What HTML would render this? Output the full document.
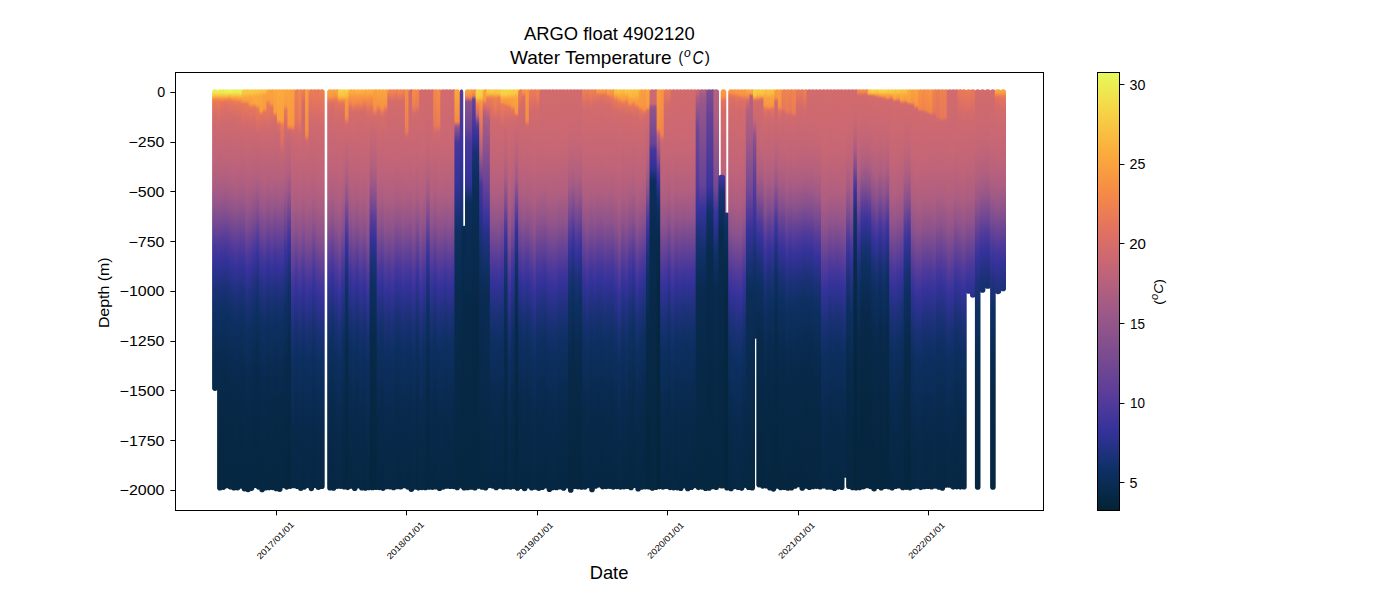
<!DOCTYPE html>
<html><head><meta charset="utf-8"><title>ARGO float 4902120</title>
<style>html,body{margin:0;padding:0;background:#fff;}svg{display:block;}
text{font-family:"Liberation Sans",sans-serif;fill:#000;}</style></head>
<body><svg width="1400" height="600" viewBox="0 0 1400 600">
<rect width="1400" height="600" fill="#fff"/>
<defs><linearGradient id="p0" gradientUnits="userSpaceOnUse" x1="0" y1="91.90" x2="0" y2="490.00"><stop offset="0.000" stop-color="#ecec53"/><stop offset="0.005" stop-color="#f5d647"/><stop offset="0.010" stop-color="#f9c041"/><stop offset="0.015" stop-color="#f99f40"/><stop offset="0.020" stop-color="#ef834e"/><stop offset="0.025" stop-color="#e77859"/><stop offset="0.055" stop-color="#d76d69"/><stop offset="0.085" stop-color="#cd6970"/><stop offset="0.175" stop-color="#be637a"/><stop offset="0.235" stop-color="#ab5d82"/><stop offset="0.280" stop-color="#955589"/><stop offset="0.340" stop-color="#6d4594"/><stop offset="0.390" stop-color="#47379a"/><stop offset="0.425" stop-color="#34329a"/><stop offset="0.495" stop-color="#1b3177"/><stop offset="0.555" stop-color="#0d3063"/><stop offset="0.665" stop-color="#092b51"/><stop offset="0.775" stop-color="#072846"/><stop offset="1.000" stop-color="#062740"/></linearGradient><linearGradient id="p1" gradientUnits="userSpaceOnUse" x1="0" y1="91.90" x2="0" y2="490.00"><stop offset="0.000" stop-color="#ecee54"/><stop offset="0.005" stop-color="#f3da4a"/><stop offset="0.010" stop-color="#f9c041"/><stop offset="0.015" stop-color="#f99d40"/><stop offset="0.020" stop-color="#f1854c"/><stop offset="0.025" stop-color="#e97b57"/><stop offset="0.055" stop-color="#dc6f65"/><stop offset="0.085" stop-color="#ce696f"/><stop offset="0.205" stop-color="#b6617d"/><stop offset="0.265" stop-color="#9e5987"/><stop offset="0.335" stop-color="#714793"/><stop offset="0.385" stop-color="#4c399a"/><stop offset="0.425" stop-color="#35329b"/><stop offset="0.485" stop-color="#1e317c"/><stop offset="0.555" stop-color="#0d3063"/><stop offset="0.695" stop-color="#082a4d"/><stop offset="0.840" stop-color="#072844"/><stop offset="1.000" stop-color="#062740"/></linearGradient><linearGradient id="p2" gradientUnits="userSpaceOnUse" x1="0" y1="91.90" x2="0" y2="490.00"><stop offset="0.000" stop-color="#edeb52"/><stop offset="0.005" stop-color="#f4d949"/><stop offset="0.010" stop-color="#f9c041"/><stop offset="0.015" stop-color="#f9a23f"/><stop offset="0.020" stop-color="#f48848"/><stop offset="0.025" stop-color="#e77859"/><stop offset="0.035" stop-color="#e17161"/><stop offset="0.075" stop-color="#cf6a6f"/><stop offset="0.190" stop-color="#ba627c"/><stop offset="0.250" stop-color="#a45b85"/><stop offset="0.320" stop-color="#7a4b90"/><stop offset="0.375" stop-color="#513a9a"/><stop offset="0.420" stop-color="#36329b"/><stop offset="0.485" stop-color="#1d317a"/><stop offset="0.550" stop-color="#0d3063"/><stop offset="0.695" stop-color="#082a4c"/><stop offset="0.860" stop-color="#062743"/><stop offset="1.000" stop-color="#062640"/></linearGradient><linearGradient id="p3" gradientUnits="userSpaceOnUse" x1="0" y1="91.90" x2="0" y2="490.00"><stop offset="0.000" stop-color="#eaf356"/><stop offset="0.005" stop-color="#f2de4b"/><stop offset="0.010" stop-color="#f8c242"/><stop offset="0.015" stop-color="#f99f40"/><stop offset="0.020" stop-color="#f1844c"/><stop offset="0.025" stop-color="#e5755c"/><stop offset="0.040" stop-color="#dc6f65"/><stop offset="0.075" stop-color="#cf6a6f"/><stop offset="0.185" stop-color="#bb627c"/><stop offset="0.235" stop-color="#aa5d82"/><stop offset="0.305" stop-color="#834f8e"/><stop offset="0.375" stop-color="#4f3a9a"/><stop offset="0.420" stop-color="#343299"/><stop offset="0.495" stop-color="#193174"/><stop offset="0.560" stop-color="#0c2f60"/><stop offset="0.715" stop-color="#082949"/><stop offset="1.000" stop-color="#062640"/></linearGradient><linearGradient id="p4" gradientUnits="userSpaceOnUse" x1="0" y1="91.90" x2="0" y2="490.00"><stop offset="0.000" stop-color="#e8f658"/><stop offset="0.005" stop-color="#f3db4a"/><stop offset="0.010" stop-color="#f9b93f"/><stop offset="0.015" stop-color="#f89a41"/><stop offset="0.020" stop-color="#ef824f"/><stop offset="0.025" stop-color="#e6775b"/><stop offset="0.055" stop-color="#d76d68"/><stop offset="0.085" stop-color="#cd6970"/><stop offset="0.175" stop-color="#be637a"/><stop offset="0.240" stop-color="#aa5d82"/><stop offset="0.300" stop-color="#8a518c"/><stop offset="0.380" stop-color="#513a9a"/><stop offset="0.430" stop-color="#333299"/><stop offset="0.490" stop-color="#1e317b"/><stop offset="0.555" stop-color="#0d3064"/><stop offset="0.655" stop-color="#0a2c53"/><stop offset="0.765" stop-color="#072847"/><stop offset="1.000" stop-color="#062740"/></linearGradient><linearGradient id="p5" gradientUnits="userSpaceOnUse" x1="0" y1="91.90" x2="0" y2="490.00"><stop offset="0.000" stop-color="#ebf155"/><stop offset="0.010" stop-color="#f8c242"/><stop offset="0.015" stop-color="#faa53e"/><stop offset="0.020" stop-color="#f58a47"/><stop offset="0.025" stop-color="#e97a57"/><stop offset="0.035" stop-color="#e2735f"/><stop offset="0.070" stop-color="#d06a6d"/><stop offset="0.185" stop-color="#bd637b"/><stop offset="0.240" stop-color="#ad5e81"/><stop offset="0.295" stop-color="#91548a"/><stop offset="0.385" stop-color="#553b99"/><stop offset="0.415" stop-color="#41369a"/><stop offset="0.440" stop-color="#343299"/><stop offset="0.505" stop-color="#1d317a"/><stop offset="0.570" stop-color="#0d3063"/><stop offset="0.735" stop-color="#08294a"/><stop offset="1.000" stop-color="#062740"/></linearGradient><linearGradient id="p6" gradientUnits="userSpaceOnUse" x1="0" y1="91.90" x2="0" y2="490.00"><stop offset="0.000" stop-color="#ebf155"/><stop offset="0.010" stop-color="#f9be40"/><stop offset="0.015" stop-color="#faa43e"/><stop offset="0.020" stop-color="#f78f44"/><stop offset="0.025" stop-color="#ec7e53"/><stop offset="0.035" stop-color="#e4745d"/><stop offset="0.070" stop-color="#d16b6d"/><stop offset="0.190" stop-color="#bc627b"/><stop offset="0.245" stop-color="#ac5d82"/><stop offset="0.300" stop-color="#90548a"/><stop offset="0.390" stop-color="#543b99"/><stop offset="0.440" stop-color="#36329b"/><stop offset="0.520" stop-color="#1a3176"/><stop offset="0.590" stop-color="#0c2f61"/><stop offset="0.745" stop-color="#08294a"/><stop offset="1.000" stop-color="#062741"/></linearGradient><linearGradient id="p7" gradientUnits="userSpaceOnUse" x1="0" y1="91.90" x2="0" y2="490.00"><stop offset="0.000" stop-color="#eaf155"/><stop offset="0.005" stop-color="#f2dd4b"/><stop offset="0.015" stop-color="#faa83d"/><stop offset="0.020" stop-color="#f79542"/><stop offset="0.025" stop-color="#ee8150"/><stop offset="0.030" stop-color="#e6785a"/><stop offset="0.065" stop-color="#d66c69"/><stop offset="0.095" stop-color="#cc6970"/><stop offset="0.185" stop-color="#bc627b"/><stop offset="0.240" stop-color="#ab5d82"/><stop offset="0.290" stop-color="#92558a"/><stop offset="0.380" stop-color="#563c99"/><stop offset="0.410" stop-color="#41369a"/><stop offset="0.435" stop-color="#34329a"/><stop offset="0.495" stop-color="#1e317c"/><stop offset="0.555" stop-color="#0f3066"/><stop offset="0.655" stop-color="#0a2c54"/><stop offset="0.775" stop-color="#072847"/><stop offset="1.000" stop-color="#062740"/></linearGradient><linearGradient id="p8" gradientUnits="userSpaceOnUse" x1="0" y1="91.90" x2="0" y2="490.00"><stop offset="0.000" stop-color="#f7ca44"/><stop offset="0.005" stop-color="#f8c342"/><stop offset="0.015" stop-color="#faa63e"/><stop offset="0.020" stop-color="#f9a13f"/><stop offset="0.025" stop-color="#f79044"/><stop offset="0.030" stop-color="#e77958"/><stop offset="0.065" stop-color="#db6e66"/><stop offset="0.095" stop-color="#cd6970"/><stop offset="0.210" stop-color="#b6607d"/><stop offset="0.270" stop-color="#9e5987"/><stop offset="0.335" stop-color="#764991"/><stop offset="0.385" stop-color="#523b9a"/><stop offset="0.435" stop-color="#34329a"/><stop offset="0.500" stop-color="#1d317a"/><stop offset="0.570" stop-color="#0d3062"/><stop offset="0.730" stop-color="#08294a"/><stop offset="1.000" stop-color="#062740"/></linearGradient><linearGradient id="p9" gradientUnits="userSpaceOnUse" x1="0" y1="91.90" x2="0" y2="490.00"><stop offset="0.000" stop-color="#f8c643"/><stop offset="0.005" stop-color="#f9c041"/><stop offset="0.015" stop-color="#faa53e"/><stop offset="0.020" stop-color="#f9a13f"/><stop offset="0.025" stop-color="#f79343"/><stop offset="0.030" stop-color="#e97b56"/><stop offset="0.060" stop-color="#dd6f64"/><stop offset="0.090" stop-color="#ce696f"/><stop offset="0.185" stop-color="#be637a"/><stop offset="0.255" stop-color="#ab5d82"/><stop offset="0.325" stop-color="#88518d"/><stop offset="0.405" stop-color="#533b9a"/><stop offset="0.445" stop-color="#3b349b"/><stop offset="0.460" stop-color="#343299"/><stop offset="0.530" stop-color="#1c3179"/><stop offset="0.600" stop-color="#0d3063"/><stop offset="0.700" stop-color="#0a2c53"/><stop offset="0.820" stop-color="#072847"/><stop offset="1.000" stop-color="#062742"/></linearGradient><linearGradient id="p10" gradientUnits="userSpaceOnUse" x1="0" y1="91.90" x2="0" y2="490.00"><stop offset="0.000" stop-color="#f7ca44"/><stop offset="0.005" stop-color="#f8c141"/><stop offset="0.010" stop-color="#fbae3c"/><stop offset="0.015" stop-color="#f9a23f"/><stop offset="0.030" stop-color="#f89c41"/><stop offset="0.035" stop-color="#f2864b"/><stop offset="0.040" stop-color="#e6775a"/><stop offset="0.065" stop-color="#dc6f65"/><stop offset="0.095" stop-color="#ce696f"/><stop offset="0.215" stop-color="#b6617d"/><stop offset="0.285" stop-color="#9a5788"/><stop offset="0.350" stop-color="#724793"/><stop offset="0.400" stop-color="#4e3a9a"/><stop offset="0.445" stop-color="#35329b"/><stop offset="0.515" stop-color="#1c3179"/><stop offset="0.595" stop-color="#0c2f60"/><stop offset="0.765" stop-color="#082949"/><stop offset="1.000" stop-color="#062741"/></linearGradient><linearGradient id="p11" gradientUnits="userSpaceOnUse" x1="0" y1="91.90" x2="0" y2="490.00"><stop offset="0.000" stop-color="#f8c743"/><stop offset="0.010" stop-color="#fbaf3d"/><stop offset="0.015" stop-color="#faa83d"/><stop offset="0.030" stop-color="#f9a13f"/><stop offset="0.035" stop-color="#f0844d"/><stop offset="0.040" stop-color="#e6775b"/><stop offset="0.060" stop-color="#de7063"/><stop offset="0.090" stop-color="#ce696f"/><stop offset="0.200" stop-color="#b8617d"/><stop offset="0.245" stop-color="#a85c83"/><stop offset="0.315" stop-color="#814e8e"/><stop offset="0.380" stop-color="#523b9a"/><stop offset="0.410" stop-color="#3e359b"/><stop offset="0.430" stop-color="#343299"/><stop offset="0.495" stop-color="#1c3179"/><stop offset="0.560" stop-color="#0d3063"/><stop offset="0.665" stop-color="#092b52"/><stop offset="0.765" stop-color="#072847"/><stop offset="1.000" stop-color="#062740"/></linearGradient><linearGradient id="p12" gradientUnits="userSpaceOnUse" x1="0" y1="91.90" x2="0" y2="490.00"><stop offset="0.000" stop-color="#f8c542"/><stop offset="0.010" stop-color="#fbab3d"/><stop offset="0.030" stop-color="#faa33f"/><stop offset="0.035" stop-color="#f99d40"/><stop offset="0.040" stop-color="#ee8150"/><stop offset="0.045" stop-color="#e77959"/><stop offset="0.070" stop-color="#e07162"/><stop offset="0.105" stop-color="#cc6871"/><stop offset="0.220" stop-color="#b05f80"/><stop offset="0.290" stop-color="#8a518c"/><stop offset="0.370" stop-color="#4f3a9a"/><stop offset="0.415" stop-color="#333299"/><stop offset="0.475" stop-color="#1d317a"/><stop offset="0.540" stop-color="#0d3063"/><stop offset="0.640" stop-color="#092b52"/><stop offset="0.740" stop-color="#072847"/><stop offset="1.000" stop-color="#062640"/></linearGradient><linearGradient id="p13" gradientUnits="userSpaceOnUse" x1="0" y1="91.90" x2="0" y2="490.00"><stop offset="0.000" stop-color="#f8c342"/><stop offset="0.005" stop-color="#fab23d"/><stop offset="0.010" stop-color="#faa73e"/><stop offset="0.045" stop-color="#f99f40"/><stop offset="0.050" stop-color="#f89742"/><stop offset="0.055" stop-color="#e87a57"/><stop offset="0.060" stop-color="#e27260"/><stop offset="0.100" stop-color="#ce696f"/><stop offset="0.215" stop-color="#b6607d"/><stop offset="0.280" stop-color="#9c5887"/><stop offset="0.355" stop-color="#6e4694"/><stop offset="0.405" stop-color="#4a389a"/><stop offset="0.445" stop-color="#35329a"/><stop offset="0.510" stop-color="#1e317b"/><stop offset="0.580" stop-color="#0d3063"/><stop offset="0.740" stop-color="#08294b"/><stop offset="0.990" stop-color="#062741"/><stop offset="1.000" stop-color="#062741"/></linearGradient><linearGradient id="p14" gradientUnits="userSpaceOnUse" x1="0" y1="91.90" x2="0" y2="490.00"><stop offset="0.000" stop-color="#f8c241"/><stop offset="0.005" stop-color="#fbab3c"/><stop offset="0.010" stop-color="#f9a13f"/><stop offset="0.040" stop-color="#f89a41"/><stop offset="0.045" stop-color="#f79044"/><stop offset="0.050" stop-color="#e77859"/><stop offset="0.060" stop-color="#e17161"/><stop offset="0.090" stop-color="#d06a6e"/><stop offset="0.230" stop-color="#b3607f"/><stop offset="0.295" stop-color="#975689"/><stop offset="0.365" stop-color="#6c4595"/><stop offset="0.425" stop-color="#43369a"/><stop offset="0.455" stop-color="#34329a"/><stop offset="0.520" stop-color="#1e317b"/><stop offset="0.590" stop-color="#0d3063"/><stop offset="0.765" stop-color="#08294a"/><stop offset="1.000" stop-color="#062741"/></linearGradient><linearGradient id="p15" gradientUnits="userSpaceOnUse" x1="0" y1="91.90" x2="0" y2="490.00"><stop offset="0.000" stop-color="#faa53e"/><stop offset="0.020" stop-color="#f89c41"/><stop offset="0.025" stop-color="#f48947"/><stop offset="0.030" stop-color="#ea7c55"/><stop offset="0.065" stop-color="#e07162"/><stop offset="0.095" stop-color="#cf6a6f"/><stop offset="0.220" stop-color="#b3607f"/><stop offset="0.280" stop-color="#985788"/><stop offset="0.335" stop-color="#764992"/><stop offset="0.390" stop-color="#4e3a9a"/><stop offset="0.435" stop-color="#34329a"/><stop offset="0.500" stop-color="#1d317a"/><stop offset="0.570" stop-color="#0d3062"/><stop offset="0.730" stop-color="#08294a"/><stop offset="1.000" stop-color="#062740"/></linearGradient><linearGradient id="p16" gradientUnits="userSpaceOnUse" x1="0" y1="91.90" x2="0" y2="490.00"><stop offset="0.000" stop-color="#f9a23f"/><stop offset="0.025" stop-color="#f89c41"/><stop offset="0.030" stop-color="#f79542"/><stop offset="0.035" stop-color="#ee8150"/><stop offset="0.040" stop-color="#e6775b"/><stop offset="0.085" stop-color="#d26b6d"/><stop offset="0.235" stop-color="#b15f80"/><stop offset="0.305" stop-color="#8f538b"/><stop offset="0.390" stop-color="#573c99"/><stop offset="0.425" stop-color="#40359a"/><stop offset="0.450" stop-color="#333299"/><stop offset="0.515" stop-color="#1d317a"/><stop offset="0.585" stop-color="#0d3063"/><stop offset="0.685" stop-color="#0a2c53"/><stop offset="0.785" stop-color="#072948"/><stop offset="1.000" stop-color="#062741"/></linearGradient><linearGradient id="p17" gradientUnits="userSpaceOnUse" x1="0" y1="91.90" x2="0" y2="490.00"><stop offset="0.000" stop-color="#faa73e"/><stop offset="0.050" stop-color="#f99d40"/><stop offset="0.055" stop-color="#f58a46"/><stop offset="0.060" stop-color="#e27260"/><stop offset="0.070" stop-color="#d66d69"/><stop offset="0.110" stop-color="#ca6872"/><stop offset="0.215" stop-color="#b5607e"/><stop offset="0.280" stop-color="#995788"/><stop offset="0.370" stop-color="#5f3f98"/><stop offset="0.410" stop-color="#42369a"/><stop offset="0.435" stop-color="#35329b"/><stop offset="0.500" stop-color="#1e317b"/><stop offset="0.570" stop-color="#0d3063"/><stop offset="0.675" stop-color="#092b52"/><stop offset="0.795" stop-color="#072846"/><stop offset="1.000" stop-color="#062740"/></linearGradient><linearGradient id="p18" gradientUnits="userSpaceOnUse" x1="0" y1="91.90" x2="0" y2="490.00"><stop offset="0.000" stop-color="#fbaa3d"/><stop offset="0.065" stop-color="#f9a13f"/><stop offset="0.070" stop-color="#f99e40"/><stop offset="0.075" stop-color="#f68b45"/><stop offset="0.080" stop-color="#e2725f"/><stop offset="0.085" stop-color="#d96e67"/><stop offset="0.105" stop-color="#cd6970"/><stop offset="0.220" stop-color="#b4607e"/><stop offset="0.285" stop-color="#985789"/><stop offset="0.360" stop-color="#684396"/><stop offset="0.415" stop-color="#42369a"/><stop offset="0.440" stop-color="#35329b"/><stop offset="0.505" stop-color="#1e317b"/><stop offset="0.575" stop-color="#0d3063"/><stop offset="0.685" stop-color="#092b52"/><stop offset="0.775" stop-color="#072948"/><stop offset="1.000" stop-color="#062741"/></linearGradient><linearGradient id="p19" gradientUnits="userSpaceOnUse" x1="0" y1="91.90" x2="0" y2="490.00"><stop offset="0.000" stop-color="#faaa3d"/><stop offset="0.070" stop-color="#f99f40"/><stop offset="0.075" stop-color="#f89841"/><stop offset="0.080" stop-color="#f0834d"/><stop offset="0.085" stop-color="#e87958"/><stop offset="0.120" stop-color="#df7062"/><stop offset="0.155" stop-color="#c76675"/><stop offset="0.215" stop-color="#b5607e"/><stop offset="0.275" stop-color="#9d5987"/><stop offset="0.345" stop-color="#724793"/><stop offset="0.395" stop-color="#4e3a9a"/><stop offset="0.440" stop-color="#35329a"/><stop offset="0.505" stop-color="#1d317b"/><stop offset="0.575" stop-color="#0d3063"/><stop offset="0.690" stop-color="#092b51"/><stop offset="0.790" stop-color="#072847"/><stop offset="1.000" stop-color="#062741"/></linearGradient><linearGradient id="p20" gradientUnits="userSpaceOnUse" x1="0" y1="91.90" x2="0" y2="490.00"><stop offset="0.000" stop-color="#faa43e"/><stop offset="0.030" stop-color="#f99e40"/><stop offset="0.035" stop-color="#f89a41"/><stop offset="0.040" stop-color="#f48848"/><stop offset="0.045" stop-color="#e77959"/><stop offset="0.065" stop-color="#e07162"/><stop offset="0.100" stop-color="#cd6970"/><stop offset="0.210" stop-color="#b3607f"/><stop offset="0.270" stop-color="#975689"/><stop offset="0.340" stop-color="#674396"/><stop offset="0.385" stop-color="#45379a"/><stop offset="0.415" stop-color="#35329b"/><stop offset="0.475" stop-color="#1e317b"/><stop offset="0.540" stop-color="#0d3063"/><stop offset="0.690" stop-color="#08294b"/><stop offset="0.920" stop-color="#062741"/><stop offset="1.000" stop-color="#062640"/></linearGradient><linearGradient id="p21" gradientUnits="userSpaceOnUse" x1="0" y1="91.90" x2="0" y2="490.00"><stop offset="0.000" stop-color="#faa43e"/><stop offset="0.080" stop-color="#f89842"/><stop offset="0.085" stop-color="#f79144"/><stop offset="0.090" stop-color="#ec7f52"/><stop offset="0.095" stop-color="#d86d68"/><stop offset="0.100" stop-color="#cd6970"/><stop offset="0.115" stop-color="#c76674"/><stop offset="0.195" stop-color="#b35f7f"/><stop offset="0.250" stop-color="#975689"/><stop offset="0.320" stop-color="#634197"/><stop offset="0.360" stop-color="#43369a"/><stop offset="0.385" stop-color="#34329a"/><stop offset="0.435" stop-color="#1f317d"/><stop offset="0.500" stop-color="#0d3063"/><stop offset="0.645" stop-color="#08294a"/><stop offset="0.915" stop-color="#062640"/><stop offset="1.000" stop-color="#06263f"/></linearGradient><linearGradient id="p22" gradientUnits="userSpaceOnUse" x1="0" y1="91.90" x2="0" y2="490.00"><stop offset="0.000" stop-color="#f9a13f"/><stop offset="0.080" stop-color="#f89742"/><stop offset="0.085" stop-color="#f79243"/><stop offset="0.090" stop-color="#f0844d"/><stop offset="0.095" stop-color="#df7062"/><stop offset="0.100" stop-color="#d16b6d"/><stop offset="0.110" stop-color="#cc6871"/><stop offset="0.205" stop-color="#bf637a"/><stop offset="0.280" stop-color="#ad5e81"/><stop offset="0.345" stop-color="#92548a"/><stop offset="0.430" stop-color="#634197"/><stop offset="0.485" stop-color="#42369a"/><stop offset="0.515" stop-color="#35329a"/><stop offset="0.615" stop-color="#173172"/><stop offset="0.675" stop-color="#0d3062"/><stop offset="0.870" stop-color="#08294a"/><stop offset="1.000" stop-color="#072845"/></linearGradient><linearGradient id="p23" gradientUnits="userSpaceOnUse" x1="0" y1="91.90" x2="0" y2="490.00"><stop offset="0.000" stop-color="#eb7e53"/><stop offset="0.065" stop-color="#e4755d"/><stop offset="0.085" stop-color="#da6e66"/><stop offset="0.105" stop-color="#cf6a6e"/><stop offset="0.230" stop-color="#b8617d"/><stop offset="0.285" stop-color="#a75c83"/><stop offset="0.345" stop-color="#8b528c"/><stop offset="0.440" stop-color="#513a9a"/><stop offset="0.485" stop-color="#39339b"/><stop offset="0.505" stop-color="#313295"/><stop offset="0.595" stop-color="#163071"/><stop offset="0.655" stop-color="#0c2f61"/><stop offset="0.845" stop-color="#082949"/><stop offset="1.000" stop-color="#062744"/></linearGradient><linearGradient id="p24" gradientUnits="userSpaceOnUse" x1="0" y1="91.90" x2="0" y2="490.00"><stop offset="0.000" stop-color="#f1854b"/><stop offset="0.065" stop-color="#ea7c55"/><stop offset="0.085" stop-color="#e27260"/><stop offset="0.105" stop-color="#d26b6c"/><stop offset="0.145" stop-color="#c86774"/><stop offset="0.240" stop-color="#b8617d"/><stop offset="0.295" stop-color="#a75c83"/><stop offset="0.365" stop-color="#87508d"/><stop offset="0.455" stop-color="#523b9a"/><stop offset="0.495" stop-color="#3c349b"/><stop offset="0.515" stop-color="#333299"/><stop offset="0.615" stop-color="#173071"/><stop offset="0.680" stop-color="#0c2f61"/><stop offset="0.860" stop-color="#08294a"/><stop offset="1.000" stop-color="#072845"/></linearGradient><linearGradient id="p25" gradientUnits="userSpaceOnUse" x1="0" y1="91.90" x2="0" y2="490.00"><stop offset="0.000" stop-color="#ea7c55"/><stop offset="0.025" stop-color="#d86d68"/><stop offset="0.055" stop-color="#cf6a6e"/><stop offset="0.165" stop-color="#c56676"/><stop offset="0.265" stop-color="#ae5e80"/><stop offset="0.335" stop-color="#8f538b"/><stop offset="0.430" stop-color="#563c99"/><stop offset="0.465" stop-color="#41369a"/><stop offset="0.490" stop-color="#35329b"/><stop offset="0.570" stop-color="#1c3178"/><stop offset="0.645" stop-color="#0d3062"/><stop offset="0.830" stop-color="#08294a"/><stop offset="1.000" stop-color="#062743"/></linearGradient><linearGradient id="p26" gradientUnits="userSpaceOnUse" x1="0" y1="91.90" x2="0" y2="490.00"><stop offset="0.000" stop-color="#f89c41"/><stop offset="0.100" stop-color="#f68d44"/><stop offset="0.105" stop-color="#f58a46"/><stop offset="0.110" stop-color="#f0844d"/><stop offset="0.120" stop-color="#d96e67"/><stop offset="0.125" stop-color="#cf6a6e"/><stop offset="0.140" stop-color="#c96773"/><stop offset="0.240" stop-color="#b8617d"/><stop offset="0.295" stop-color="#a75c83"/><stop offset="0.370" stop-color="#854f8d"/><stop offset="0.455" stop-color="#523b9a"/><stop offset="0.495" stop-color="#3c349b"/><stop offset="0.515" stop-color="#343299"/><stop offset="0.605" stop-color="#193175"/><stop offset="0.680" stop-color="#0c2f61"/><stop offset="0.860" stop-color="#08294a"/><stop offset="1.000" stop-color="#072845"/></linearGradient><linearGradient id="p27" gradientUnits="userSpaceOnUse" x1="0" y1="91.90" x2="0" y2="490.00"><stop offset="0.000" stop-color="#ea7c55"/><stop offset="0.040" stop-color="#dd6f64"/><stop offset="0.080" stop-color="#cf6a6e"/><stop offset="0.200" stop-color="#bf637a"/><stop offset="0.280" stop-color="#ac5d82"/><stop offset="0.360" stop-color="#88518d"/><stop offset="0.450" stop-color="#523b9a"/><stop offset="0.490" stop-color="#3c349b"/><stop offset="0.510" stop-color="#333299"/><stop offset="0.585" stop-color="#1d3179"/><stop offset="0.665" stop-color="#0d3062"/><stop offset="0.855" stop-color="#08294a"/><stop offset="1.000" stop-color="#072844"/></linearGradient><linearGradient id="p28" gradientUnits="userSpaceOnUse" x1="0" y1="91.90" x2="0" y2="490.00"><stop offset="0.000" stop-color="#ea7c55"/><stop offset="0.050" stop-color="#db6e66"/><stop offset="0.080" stop-color="#cf6a6e"/><stop offset="0.195" stop-color="#bf637a"/><stop offset="0.270" stop-color="#ab5d82"/><stop offset="0.325" stop-color="#92548a"/><stop offset="0.425" stop-color="#563c99"/><stop offset="0.465" stop-color="#3e359b"/><stop offset="0.485" stop-color="#35329b"/><stop offset="0.560" stop-color="#1d3179"/><stop offset="0.640" stop-color="#0d2f62"/><stop offset="0.755" stop-color="#092b52"/><stop offset="0.855" stop-color="#072948"/><stop offset="1.000" stop-color="#062743"/></linearGradient><linearGradient id="p29" gradientUnits="userSpaceOnUse" x1="0" y1="91.90" x2="0" y2="490.00"><stop offset="0.000" stop-color="#e97a57"/><stop offset="0.040" stop-color="#e07062"/><stop offset="0.075" stop-color="#d06a6e"/><stop offset="0.210" stop-color="#be637a"/><stop offset="0.285" stop-color="#ab5d82"/><stop offset="0.365" stop-color="#87508d"/><stop offset="0.455" stop-color="#513a9a"/><stop offset="0.490" stop-color="#3e359b"/><stop offset="0.510" stop-color="#35329b"/><stop offset="0.590" stop-color="#1d3179"/><stop offset="0.670" stop-color="#0d3063"/><stop offset="0.790" stop-color="#092b52"/><stop offset="0.915" stop-color="#072847"/><stop offset="1.000" stop-color="#072845"/></linearGradient><linearGradient id="p30" gradientUnits="userSpaceOnUse" x1="0" y1="91.90" x2="0" y2="490.00"><stop offset="0.000" stop-color="#ec7f52"/><stop offset="0.035" stop-color="#e27260"/><stop offset="0.085" stop-color="#cf6a6e"/><stop offset="0.220" stop-color="#bd637b"/><stop offset="0.295" stop-color="#a95c83"/><stop offset="0.375" stop-color="#85508d"/><stop offset="0.460" stop-color="#533b9a"/><stop offset="0.490" stop-color="#42369a"/><stop offset="0.520" stop-color="#35329b"/><stop offset="0.595" stop-color="#1e317b"/><stop offset="0.685" stop-color="#0d2f62"/><stop offset="0.875" stop-color="#08294a"/><stop offset="1.000" stop-color="#072845"/></linearGradient><linearGradient id="p31" gradientUnits="userSpaceOnUse" x1="0" y1="91.90" x2="0" y2="490.00"><stop offset="0.000" stop-color="#faa53e"/><stop offset="0.010" stop-color="#f89a41"/><stop offset="0.015" stop-color="#f78f44"/><stop offset="0.020" stop-color="#ec7e53"/><stop offset="0.025" stop-color="#e3735f"/><stop offset="0.040" stop-color="#d86d68"/><stop offset="0.075" stop-color="#ce696f"/><stop offset="0.185" stop-color="#c16479"/><stop offset="0.265" stop-color="#ac5d81"/><stop offset="0.325" stop-color="#91548a"/><stop offset="0.415" stop-color="#5b3d99"/><stop offset="0.450" stop-color="#44379a"/><stop offset="0.485" stop-color="#333299"/><stop offset="0.560" stop-color="#1c3178"/><stop offset="0.640" stop-color="#0c2f61"/><stop offset="0.810" stop-color="#08294a"/><stop offset="1.000" stop-color="#062743"/></linearGradient><linearGradient id="p32" gradientUnits="userSpaceOnUse" x1="0" y1="91.90" x2="0" y2="490.00"><stop offset="0.000" stop-color="#f9a23f"/><stop offset="0.010" stop-color="#f89742"/><stop offset="0.015" stop-color="#f68b45"/><stop offset="0.025" stop-color="#e17161"/><stop offset="0.040" stop-color="#d56c6a"/><stop offset="0.085" stop-color="#cd6970"/><stop offset="0.185" stop-color="#c0647a"/><stop offset="0.260" stop-color="#ac5d82"/><stop offset="0.330" stop-color="#8a518c"/><stop offset="0.410" stop-color="#573c99"/><stop offset="0.455" stop-color="#3c349b"/><stop offset="0.470" stop-color="#35329b"/><stop offset="0.535" stop-color="#1f317c"/><stop offset="0.610" stop-color="#0d3064"/><stop offset="0.730" stop-color="#092b52"/><stop offset="0.840" stop-color="#072847"/><stop offset="1.000" stop-color="#062742"/></linearGradient><linearGradient id="p33" gradientUnits="userSpaceOnUse" x1="0" y1="91.90" x2="0" y2="490.00"><stop offset="0.000" stop-color="#f9a03f"/><stop offset="0.010" stop-color="#f79343"/><stop offset="0.015" stop-color="#f2864b"/><stop offset="0.020" stop-color="#e87a57"/><stop offset="0.030" stop-color="#e17161"/><stop offset="0.075" stop-color="#cf6a6e"/><stop offset="0.195" stop-color="#bf637a"/><stop offset="0.275" stop-color="#ab5d82"/><stop offset="0.335" stop-color="#90548b"/><stop offset="0.440" stop-color="#503a9a"/><stop offset="0.495" stop-color="#34329a"/><stop offset="0.570" stop-color="#1c3179"/><stop offset="0.655" stop-color="#0c2f61"/><stop offset="0.830" stop-color="#08294a"/><stop offset="1.000" stop-color="#062744"/></linearGradient><linearGradient id="p34" gradientUnits="userSpaceOnUse" x1="0" y1="91.90" x2="0" y2="490.00"><stop offset="0.000" stop-color="#f6d045"/><stop offset="0.010" stop-color="#f8c242"/><stop offset="0.015" stop-color="#fbac3c"/><stop offset="0.020" stop-color="#f79343"/><stop offset="0.025" stop-color="#ec7f52"/><stop offset="0.030" stop-color="#e4745d"/><stop offset="0.050" stop-color="#d76d69"/><stop offset="0.080" stop-color="#ce696f"/><stop offset="0.195" stop-color="#c16479"/><stop offset="0.280" stop-color="#ad5e81"/><stop offset="0.360" stop-color="#8a518c"/><stop offset="0.455" stop-color="#523b9a"/><stop offset="0.495" stop-color="#3c349b"/><stop offset="0.515" stop-color="#343299"/><stop offset="0.605" stop-color="#193175"/><stop offset="0.680" stop-color="#0c2f61"/><stop offset="0.860" stop-color="#08294a"/><stop offset="1.000" stop-color="#072845"/></linearGradient><linearGradient id="p35" gradientUnits="userSpaceOnUse" x1="0" y1="91.90" x2="0" y2="490.00"><stop offset="0.000" stop-color="#f7ce45"/><stop offset="0.010" stop-color="#f8c241"/><stop offset="0.015" stop-color="#fbad3c"/><stop offset="0.020" stop-color="#f79343"/><stop offset="0.025" stop-color="#eb7d54"/><stop offset="0.030" stop-color="#e2735f"/><stop offset="0.060" stop-color="#d36b6b"/><stop offset="0.125" stop-color="#c96773"/><stop offset="0.215" stop-color="#ba627c"/><stop offset="0.270" stop-color="#a95c83"/><stop offset="0.345" stop-color="#844f8e"/><stop offset="0.425" stop-color="#4f3a9a"/><stop offset="0.475" stop-color="#35329b"/><stop offset="0.540" stop-color="#1f317d"/><stop offset="0.615" stop-color="#0d3064"/><stop offset="0.745" stop-color="#092b51"/><stop offset="0.855" stop-color="#072847"/><stop offset="1.000" stop-color="#062743"/></linearGradient><linearGradient id="p36" gradientUnits="userSpaceOnUse" x1="0" y1="91.90" x2="0" y2="490.00"><stop offset="0.000" stop-color="#f7cd44"/><stop offset="0.010" stop-color="#f9bd40"/><stop offset="0.015" stop-color="#fbaa3d"/><stop offset="0.020" stop-color="#f99d40"/><stop offset="0.040" stop-color="#f89542"/><stop offset="0.060" stop-color="#f78f44"/><stop offset="0.065" stop-color="#f58a46"/><stop offset="0.070" stop-color="#ef824f"/><stop offset="0.075" stop-color="#e4755d"/><stop offset="0.080" stop-color="#d76d69"/><stop offset="0.085" stop-color="#cf6a6e"/><stop offset="0.125" stop-color="#c66676"/><stop offset="0.205" stop-color="#b05f80"/><stop offset="0.260" stop-color="#92548a"/><stop offset="0.320" stop-color="#654296"/><stop offset="0.360" stop-color="#45379a"/><stop offset="0.390" stop-color="#333299"/><stop offset="0.450" stop-color="#1c3178"/><stop offset="0.510" stop-color="#0d3062"/><stop offset="0.650" stop-color="#08294a"/><stop offset="0.930" stop-color="#062640"/><stop offset="1.000" stop-color="#06263f"/></linearGradient><linearGradient id="p37" gradientUnits="userSpaceOnUse" x1="0" y1="91.90" x2="0" y2="490.00"><stop offset="0.000" stop-color="#fbac3c"/><stop offset="0.015" stop-color="#f79243"/><stop offset="0.025" stop-color="#f48848"/><stop offset="0.040" stop-color="#df7062"/><stop offset="0.055" stop-color="#d36b6b"/><stop offset="0.200" stop-color="#bd637b"/><stop offset="0.265" stop-color="#ab5d82"/><stop offset="0.320" stop-color="#92548a"/><stop offset="0.415" stop-color="#583d99"/><stop offset="0.460" stop-color="#3d349b"/><stop offset="0.480" stop-color="#343299"/><stop offset="0.555" stop-color="#1c3178"/><stop offset="0.630" stop-color="#0d2f62"/><stop offset="0.780" stop-color="#082a4d"/><stop offset="0.945" stop-color="#072844"/><stop offset="1.000" stop-color="#062743"/></linearGradient><linearGradient id="p38" gradientUnits="userSpaceOnUse" x1="0" y1="91.90" x2="0" y2="490.00"><stop offset="0.000" stop-color="#fbac3c"/><stop offset="0.015" stop-color="#f79343"/><stop offset="0.030" stop-color="#f38749"/><stop offset="0.045" stop-color="#de7063"/><stop offset="0.055" stop-color="#d56c6a"/><stop offset="0.100" stop-color="#cc6971"/><stop offset="0.195" stop-color="#bf637a"/><stop offset="0.270" stop-color="#ac5d81"/><stop offset="0.335" stop-color="#8f538b"/><stop offset="0.430" stop-color="#563c99"/><stop offset="0.465" stop-color="#41369a"/><stop offset="0.490" stop-color="#35329b"/><stop offset="0.570" stop-color="#1c3178"/><stop offset="0.645" stop-color="#0d3062"/><stop offset="0.830" stop-color="#08294a"/><stop offset="1.000" stop-color="#062743"/></linearGradient><linearGradient id="p39" gradientUnits="userSpaceOnUse" x1="0" y1="91.90" x2="0" y2="490.00"><stop offset="0.000" stop-color="#fab23d"/><stop offset="0.015" stop-color="#f79443"/><stop offset="0.025" stop-color="#f58a46"/><stop offset="0.040" stop-color="#e27260"/><stop offset="0.050" stop-color="#d86d68"/><stop offset="0.080" stop-color="#ce696f"/><stop offset="0.190" stop-color="#bf637a"/><stop offset="0.265" stop-color="#ab5d82"/><stop offset="0.335" stop-color="#8a518c"/><stop offset="0.415" stop-color="#583c99"/><stop offset="0.445" stop-color="#44379a"/><stop offset="0.480" stop-color="#333299"/><stop offset="0.545" stop-color="#1e317c"/><stop offset="0.620" stop-color="#0d3063"/><stop offset="0.800" stop-color="#08294a"/><stop offset="1.000" stop-color="#062743"/></linearGradient><linearGradient id="p40" gradientUnits="userSpaceOnUse" x1="0" y1="91.90" x2="0" y2="490.00"><stop offset="0.000" stop-color="#fab23d"/><stop offset="0.015" stop-color="#f79143"/><stop offset="0.030" stop-color="#f1854b"/><stop offset="0.040" stop-color="#e3735f"/><stop offset="0.050" stop-color="#d56c6a"/><stop offset="0.090" stop-color="#cd6970"/><stop offset="0.195" stop-color="#c06479"/><stop offset="0.275" stop-color="#ac5d81"/><stop offset="0.345" stop-color="#8d538b"/><stop offset="0.445" stop-color="#513a9a"/><stop offset="0.490" stop-color="#39339b"/><stop offset="0.505" stop-color="#333298"/><stop offset="0.575" stop-color="#1d317a"/><stop offset="0.660" stop-color="#0d2f62"/><stop offset="0.840" stop-color="#08294a"/><stop offset="1.000" stop-color="#062844"/></linearGradient><linearGradient id="p41" gradientUnits="userSpaceOnUse" x1="0" y1="91.90" x2="0" y2="490.00"><stop offset="0.000" stop-color="#fbaa3d"/><stop offset="0.020" stop-color="#f68a46"/><stop offset="0.030" stop-color="#ea7c55"/><stop offset="0.040" stop-color="#dd7064"/><stop offset="0.060" stop-color="#d26b6c"/><stop offset="0.200" stop-color="#be637a"/><stop offset="0.270" stop-color="#ab5d82"/><stop offset="0.330" stop-color="#90548b"/><stop offset="0.435" stop-color="#4f3a9a"/><stop offset="0.485" stop-color="#35329b"/><stop offset="0.550" stop-color="#1f317d"/><stop offset="0.640" stop-color="#0d2f62"/><stop offset="0.800" stop-color="#082a4c"/><stop offset="1.000" stop-color="#062743"/></linearGradient><linearGradient id="p42" gradientUnits="userSpaceOnUse" x1="0" y1="91.90" x2="0" y2="490.00"><stop offset="0.000" stop-color="#fbab3d"/><stop offset="0.010" stop-color="#f99d40"/><stop offset="0.015" stop-color="#f79143"/><stop offset="0.030" stop-color="#ef824f"/><stop offset="0.045" stop-color="#e07161"/><stop offset="0.065" stop-color="#d36c6b"/><stop offset="0.110" stop-color="#cc6871"/><stop offset="0.205" stop-color="#bf637a"/><stop offset="0.285" stop-color="#ac5d81"/><stop offset="0.375" stop-color="#844f8e"/><stop offset="0.460" stop-color="#513a9a"/><stop offset="0.495" stop-color="#3e359b"/><stop offset="0.520" stop-color="#333299"/><stop offset="0.620" stop-color="#173071"/><stop offset="0.685" stop-color="#0c2f61"/><stop offset="0.885" stop-color="#082949"/><stop offset="1.000" stop-color="#072845"/></linearGradient><linearGradient id="p43" gradientUnits="userSpaceOnUse" x1="0" y1="91.90" x2="0" y2="490.00"><stop offset="0.000" stop-color="#fbad3c"/><stop offset="0.005" stop-color="#faa63e"/><stop offset="0.015" stop-color="#f78f44"/><stop offset="0.030" stop-color="#ee8150"/><stop offset="0.040" stop-color="#e3735f"/><stop offset="0.065" stop-color="#d26b6c"/><stop offset="0.180" stop-color="#b5607e"/><stop offset="0.230" stop-color="#9c5887"/><stop offset="0.280" stop-color="#774a91"/><stop offset="0.325" stop-color="#513a9a"/><stop offset="0.365" stop-color="#35329b"/><stop offset="0.425" stop-color="#1c3178"/><stop offset="0.475" stop-color="#0d3063"/><stop offset="0.615" stop-color="#08294a"/><stop offset="0.875" stop-color="#062640"/><stop offset="1.000" stop-color="#05263f"/></linearGradient><linearGradient id="p44" gradientUnits="userSpaceOnUse" x1="0" y1="91.90" x2="0" y2="490.00"><stop offset="0.000" stop-color="#f9a040"/><stop offset="0.035" stop-color="#f79243"/><stop offset="0.045" stop-color="#f48848"/><stop offset="0.055" stop-color="#e3735f"/><stop offset="0.065" stop-color="#d56c6a"/><stop offset="0.100" stop-color="#c96773"/><stop offset="0.175" stop-color="#b7617d"/><stop offset="0.215" stop-color="#a65b84"/><stop offset="0.275" stop-color="#7e4d8f"/><stop offset="0.330" stop-color="#4f3a9a"/><stop offset="0.370" stop-color="#34329a"/><stop offset="0.425" stop-color="#1d317a"/><stop offset="0.485" stop-color="#0d3062"/><stop offset="0.630" stop-color="#082949"/><stop offset="0.900" stop-color="#062640"/><stop offset="1.000" stop-color="#05263f"/></linearGradient><linearGradient id="p45" gradientUnits="userSpaceOnUse" x1="0" y1="91.90" x2="0" y2="490.00"><stop offset="0.000" stop-color="#faa53e"/><stop offset="0.030" stop-color="#f79443"/><stop offset="0.035" stop-color="#f68b45"/><stop offset="0.045" stop-color="#e4745d"/><stop offset="0.050" stop-color="#dc6f65"/><stop offset="0.065" stop-color="#d26b6c"/><stop offset="0.205" stop-color="#bd637b"/><stop offset="0.270" stop-color="#ab5d82"/><stop offset="0.340" stop-color="#8b528c"/><stop offset="0.435" stop-color="#503a9a"/><stop offset="0.480" stop-color="#38339b"/><stop offset="0.515" stop-color="#2b318d"/><stop offset="0.585" stop-color="#173071"/><stop offset="0.645" stop-color="#0c2f61"/><stop offset="0.820" stop-color="#08294a"/><stop offset="1.000" stop-color="#062743"/></linearGradient><linearGradient id="p46" gradientUnits="userSpaceOnUse" x1="0" y1="91.90" x2="0" y2="490.00"><stop offset="0.000" stop-color="#faa33f"/><stop offset="0.035" stop-color="#f79542"/><stop offset="0.045" stop-color="#f48848"/><stop offset="0.055" stop-color="#e2735f"/><stop offset="0.065" stop-color="#d66d69"/><stop offset="0.095" stop-color="#cd6970"/><stop offset="0.200" stop-color="#bd637b"/><stop offset="0.265" stop-color="#ab5d82"/><stop offset="0.335" stop-color="#8a518c"/><stop offset="0.415" stop-color="#583c99"/><stop offset="0.445" stop-color="#44379a"/><stop offset="0.480" stop-color="#333299"/><stop offset="0.545" stop-color="#1e317c"/><stop offset="0.620" stop-color="#0d3063"/><stop offset="0.800" stop-color="#08294a"/><stop offset="1.000" stop-color="#062743"/></linearGradient><linearGradient id="p47" gradientUnits="userSpaceOnUse" x1="0" y1="91.90" x2="0" y2="490.00"><stop offset="0.000" stop-color="#faa53e"/><stop offset="0.030" stop-color="#f79443"/><stop offset="0.035" stop-color="#f68d45"/><stop offset="0.045" stop-color="#e5765c"/><stop offset="0.050" stop-color="#dd6f64"/><stop offset="0.060" stop-color="#d46c6a"/><stop offset="0.105" stop-color="#cc6971"/><stop offset="0.200" stop-color="#bf637a"/><stop offset="0.275" stop-color="#ac5e81"/><stop offset="0.350" stop-color="#8b528c"/><stop offset="0.445" stop-color="#513b9a"/><stop offset="0.480" stop-color="#3e359b"/><stop offset="0.500" stop-color="#35329b"/><stop offset="0.570" stop-color="#1f317c"/><stop offset="0.660" stop-color="#0d2f62"/><stop offset="0.840" stop-color="#08294a"/><stop offset="1.000" stop-color="#062844"/></linearGradient><linearGradient id="p48" gradientUnits="userSpaceOnUse" x1="0" y1="91.90" x2="0" y2="490.00"><stop offset="0.000" stop-color="#f1844c"/><stop offset="0.015" stop-color="#df7062"/><stop offset="0.025" stop-color="#d46c6b"/><stop offset="0.070" stop-color="#ce696f"/><stop offset="0.170" stop-color="#c46577"/><stop offset="0.270" stop-color="#ad5e81"/><stop offset="0.350" stop-color="#88518d"/><stop offset="0.440" stop-color="#503a9a"/><stop offset="0.485" stop-color="#38339b"/><stop offset="0.570" stop-color="#1c3179"/><stop offset="0.650" stop-color="#0d2f62"/><stop offset="0.830" stop-color="#08294a"/><stop offset="1.000" stop-color="#062744"/></linearGradient><linearGradient id="p49" gradientUnits="userSpaceOnUse" x1="0" y1="91.90" x2="0" y2="490.00"><stop offset="0.000" stop-color="#f1854c"/><stop offset="0.020" stop-color="#db6f65"/><stop offset="0.035" stop-color="#d16b6d"/><stop offset="0.175" stop-color="#c46577"/><stop offset="0.270" stop-color="#af5e80"/><stop offset="0.340" stop-color="#91548a"/><stop offset="0.435" stop-color="#5b3d99"/><stop offset="0.480" stop-color="#40359a"/><stop offset="0.505" stop-color="#35329a"/><stop offset="0.580" stop-color="#1d317a"/><stop offset="0.670" stop-color="#0c2f61"/><stop offset="0.850" stop-color="#08294a"/><stop offset="1.000" stop-color="#072844"/></linearGradient><linearGradient id="p50" gradientUnits="userSpaceOnUse" x1="0" y1="91.90" x2="0" y2="490.00"><stop offset="0.000" stop-color="#ed8051"/><stop offset="0.015" stop-color="#df7063"/><stop offset="0.025" stop-color="#d46c6a"/><stop offset="0.060" stop-color="#cf6a6f"/><stop offset="0.170" stop-color="#c36577"/><stop offset="0.255" stop-color="#af5e80"/><stop offset="0.315" stop-color="#955689"/><stop offset="0.410" stop-color="#5c3e99"/><stop offset="0.450" stop-color="#42369a"/><stop offset="0.480" stop-color="#343299"/><stop offset="0.560" stop-color="#1a3176"/><stop offset="0.635" stop-color="#0c2f61"/><stop offset="0.805" stop-color="#08294a"/><stop offset="1.000" stop-color="#062743"/></linearGradient><linearGradient id="p51" gradientUnits="userSpaceOnUse" x1="0" y1="91.90" x2="0" y2="490.00"><stop offset="0.000" stop-color="#f1854c"/><stop offset="0.020" stop-color="#db6f65"/><stop offset="0.030" stop-color="#d36b6c"/><stop offset="0.175" stop-color="#c26578"/><stop offset="0.260" stop-color="#ae5e81"/><stop offset="0.335" stop-color="#8b528c"/><stop offset="0.430" stop-color="#4f3a9a"/><stop offset="0.475" stop-color="#37339b"/><stop offset="0.495" stop-color="#2f3293"/><stop offset="0.565" stop-color="#1a3175"/><stop offset="0.635" stop-color="#0c2f61"/><stop offset="0.820" stop-color="#082949"/><stop offset="1.000" stop-color="#062743"/></linearGradient><linearGradient id="p52" gradientUnits="userSpaceOnUse" x1="0" y1="91.90" x2="0" y2="490.00"><stop offset="0.000" stop-color="#ed8051"/><stop offset="0.015" stop-color="#df7063"/><stop offset="0.025" stop-color="#d46c6a"/><stop offset="0.060" stop-color="#cf6a6f"/><stop offset="0.170" stop-color="#c46577"/><stop offset="0.265" stop-color="#af5e80"/><stop offset="0.335" stop-color="#90548b"/><stop offset="0.440" stop-color="#513a9a"/><stop offset="0.485" stop-color="#39339b"/><stop offset="0.505" stop-color="#303295"/><stop offset="0.600" stop-color="#15306f"/><stop offset="0.660" stop-color="#0c2f61"/><stop offset="0.830" stop-color="#08294a"/><stop offset="1.000" stop-color="#062744"/></linearGradient><linearGradient id="p53" gradientUnits="userSpaceOnUse" x1="0" y1="91.90" x2="0" y2="490.00"><stop offset="0.000" stop-color="#f68d45"/><stop offset="0.090" stop-color="#ed8051"/><stop offset="0.100" stop-color="#e87958"/><stop offset="0.105" stop-color="#e17161"/><stop offset="0.110" stop-color="#d56c6a"/><stop offset="0.120" stop-color="#cb6871"/><stop offset="0.220" stop-color="#ba627c"/><stop offset="0.275" stop-color="#a95c83"/><stop offset="0.335" stop-color="#8d538b"/><stop offset="0.435" stop-color="#4f3a9a"/><stop offset="0.485" stop-color="#35329b"/><stop offset="0.560" stop-color="#1d317a"/><stop offset="0.640" stop-color="#0d2f62"/><stop offset="0.820" stop-color="#08294a"/><stop offset="1.000" stop-color="#062743"/></linearGradient><linearGradient id="p54" gradientUnits="userSpaceOnUse" x1="0" y1="91.90" x2="0" y2="490.00"><stop offset="0.000" stop-color="#d26b6c"/><stop offset="0.145" stop-color="#c76675"/><stop offset="0.245" stop-color="#b3607f"/><stop offset="0.320" stop-color="#94558a"/><stop offset="0.420" stop-color="#583c99"/><stop offset="0.465" stop-color="#3d349b"/><stop offset="0.485" stop-color="#343299"/><stop offset="0.565" stop-color="#1b3177"/><stop offset="0.640" stop-color="#0c2f61"/><stop offset="0.825" stop-color="#082949"/><stop offset="1.000" stop-color="#062743"/></linearGradient><linearGradient id="p55" gradientUnits="userSpaceOnUse" x1="0" y1="91.90" x2="0" y2="490.00"><stop offset="0.000" stop-color="#f68b45"/><stop offset="0.035" stop-color="#ec7f52"/><stop offset="0.045" stop-color="#e4755d"/><stop offset="0.055" stop-color="#d46c6b"/><stop offset="0.070" stop-color="#ce696f"/><stop offset="0.180" stop-color="#c36577"/><stop offset="0.275" stop-color="#ad5e81"/><stop offset="0.350" stop-color="#8c528c"/><stop offset="0.450" stop-color="#503a9a"/><stop offset="0.505" stop-color="#34329a"/><stop offset="0.585" stop-color="#1c3178"/><stop offset="0.670" stop-color="#0c2f61"/><stop offset="0.850" stop-color="#08294a"/><stop offset="1.000" stop-color="#072844"/></linearGradient><linearGradient id="p56" gradientUnits="userSpaceOnUse" x1="0" y1="91.90" x2="0" y2="490.00"><stop offset="0.000" stop-color="#f38749"/><stop offset="0.035" stop-color="#e87a57"/><stop offset="0.045" stop-color="#de7063"/><stop offset="0.055" stop-color="#d16b6d"/><stop offset="0.180" stop-color="#c06479"/><stop offset="0.255" stop-color="#ad5e81"/><stop offset="0.315" stop-color="#91548a"/><stop offset="0.410" stop-color="#553c99"/><stop offset="0.450" stop-color="#3d349b"/><stop offset="0.465" stop-color="#36329b"/><stop offset="0.540" stop-color="#1c3179"/><stop offset="0.620" stop-color="#0c2f61"/><stop offset="0.800" stop-color="#082949"/><stop offset="1.000" stop-color="#062742"/></linearGradient><linearGradient id="p57" gradientUnits="userSpaceOnUse" x1="0" y1="91.90" x2="0" y2="490.00"><stop offset="0.000" stop-color="#d26b6c"/><stop offset="0.155" stop-color="#c76675"/><stop offset="0.275" stop-color="#ae5e81"/><stop offset="0.350" stop-color="#8d528b"/><stop offset="0.450" stop-color="#513b9a"/><stop offset="0.485" stop-color="#3e359b"/><stop offset="0.505" stop-color="#35329b"/><stop offset="0.585" stop-color="#1d3179"/><stop offset="0.665" stop-color="#0d3062"/><stop offset="0.855" stop-color="#08294a"/><stop offset="1.000" stop-color="#072844"/></linearGradient><linearGradient id="p58" gradientUnits="userSpaceOnUse" x1="0" y1="91.90" x2="0" y2="490.00"><stop offset="0.000" stop-color="#d26b6c"/><stop offset="0.150" stop-color="#c76675"/><stop offset="0.255" stop-color="#b15f7f"/><stop offset="0.325" stop-color="#93558a"/><stop offset="0.425" stop-color="#573c99"/><stop offset="0.465" stop-color="#3f359a"/><stop offset="0.490" stop-color="#343299"/><stop offset="0.560" stop-color="#1d317a"/><stop offset="0.645" stop-color="#0c2f61"/><stop offset="0.835" stop-color="#082949"/><stop offset="1.000" stop-color="#062743"/></linearGradient><linearGradient id="p59" gradientUnits="userSpaceOnUse" x1="0" y1="91.90" x2="0" y2="490.00"><stop offset="0.000" stop-color="#d26b6c"/><stop offset="0.125" stop-color="#c76675"/><stop offset="0.210" stop-color="#b3607f"/><stop offset="0.265" stop-color="#9a5788"/><stop offset="0.335" stop-color="#6a4495"/><stop offset="0.385" stop-color="#45379a"/><stop offset="0.415" stop-color="#34329a"/><stop offset="0.470" stop-color="#1f317d"/><stop offset="0.540" stop-color="#0d3063"/><stop offset="0.650" stop-color="#092b51"/><stop offset="0.740" stop-color="#072847"/><stop offset="1.000" stop-color="#062640"/></linearGradient><linearGradient id="p60" gradientUnits="userSpaceOnUse" x1="0" y1="91.90" x2="0" y2="490.00"><stop offset="0.000" stop-color="#d26b6c"/><stop offset="0.140" stop-color="#c86774"/><stop offset="0.260" stop-color="#b05f80"/><stop offset="0.330" stop-color="#91548a"/><stop offset="0.435" stop-color="#523b9a"/><stop offset="0.465" stop-color="#40359a"/><stop offset="0.490" stop-color="#35329a"/><stop offset="0.570" stop-color="#1b3178"/><stop offset="0.650" stop-color="#0c2f61"/><stop offset="0.825" stop-color="#08294a"/><stop offset="1.000" stop-color="#062743"/></linearGradient><linearGradient id="p61" gradientUnits="userSpaceOnUse" x1="0" y1="91.90" x2="0" y2="490.00"><stop offset="0.000" stop-color="#f38749"/><stop offset="0.085" stop-color="#e77859"/><stop offset="0.095" stop-color="#db6f65"/><stop offset="0.105" stop-color="#ce696f"/><stop offset="0.240" stop-color="#b35f7f"/><stop offset="0.315" stop-color="#93558a"/><stop offset="0.415" stop-color="#553b99"/><stop offset="0.460" stop-color="#3a349b"/><stop offset="0.475" stop-color="#333299"/><stop offset="0.545" stop-color="#1d3179"/><stop offset="0.615" stop-color="#0d3063"/><stop offset="0.785" stop-color="#08294b"/><stop offset="1.000" stop-color="#062742"/></linearGradient><linearGradient id="p62" gradientUnits="userSpaceOnUse" x1="0" y1="91.90" x2="0" y2="490.00"><stop offset="0.000" stop-color="#f68b45"/><stop offset="0.080" stop-color="#eb7d54"/><stop offset="0.090" stop-color="#e3745e"/><stop offset="0.100" stop-color="#d16b6d"/><stop offset="0.120" stop-color="#cb6872"/><stop offset="0.235" stop-color="#b7617d"/><stop offset="0.295" stop-color="#a35a85"/><stop offset="0.370" stop-color="#7d4c8f"/><stop offset="0.430" stop-color="#573c99"/><stop offset="0.475" stop-color="#3d359b"/><stop offset="0.495" stop-color="#34329a"/><stop offset="0.570" stop-color="#1d3179"/><stop offset="0.655" stop-color="#0c2f61"/><stop offset="0.830" stop-color="#08294a"/><stop offset="1.000" stop-color="#062744"/></linearGradient><linearGradient id="p63" gradientUnits="userSpaceOnUse" x1="0" y1="91.90" x2="0" y2="490.00"><stop offset="0.000" stop-color="#d26b6c"/><stop offset="0.140" stop-color="#c86774"/><stop offset="0.260" stop-color="#b05f80"/><stop offset="0.330" stop-color="#91548a"/><stop offset="0.430" stop-color="#553c99"/><stop offset="0.465" stop-color="#40359a"/><stop offset="0.490" stop-color="#35329a"/><stop offset="0.570" stop-color="#1b3178"/><stop offset="0.650" stop-color="#0c2f61"/><stop offset="0.825" stop-color="#08294a"/><stop offset="1.000" stop-color="#062743"/></linearGradient><linearGradient id="p64" gradientUnits="userSpaceOnUse" x1="0" y1="91.90" x2="0" y2="490.00"><stop offset="0.000" stop-color="#d26b6c"/><stop offset="0.145" stop-color="#c76675"/><stop offset="0.255" stop-color="#b05f80"/><stop offset="0.325" stop-color="#90548b"/><stop offset="0.425" stop-color="#523b9a"/><stop offset="0.455" stop-color="#40359a"/><stop offset="0.480" stop-color="#34329a"/><stop offset="0.545" stop-color="#1f317c"/><stop offset="0.625" stop-color="#0d3063"/><stop offset="0.745" stop-color="#092b52"/><stop offset="0.845" stop-color="#072948"/><stop offset="1.000" stop-color="#062743"/></linearGradient><linearGradient id="p65" gradientUnits="userSpaceOnUse" x1="0" y1="91.90" x2="0" y2="490.00"><stop offset="0.000" stop-color="#d26b6c"/><stop offset="0.140" stop-color="#c86774"/><stop offset="0.260" stop-color="#b05f80"/><stop offset="0.335" stop-color="#8f538b"/><stop offset="0.440" stop-color="#4e3a9a"/><stop offset="0.490" stop-color="#35329b"/><stop offset="0.555" stop-color="#20317d"/><stop offset="0.635" stop-color="#0d3064"/><stop offset="0.760" stop-color="#092b52"/><stop offset="0.865" stop-color="#072948"/><stop offset="1.000" stop-color="#062743"/></linearGradient><linearGradient id="p66" gradientUnits="userSpaceOnUse" x1="0" y1="91.90" x2="0" y2="490.00"><stop offset="0.000" stop-color="#d26b6c"/><stop offset="0.145" stop-color="#c76675"/><stop offset="0.255" stop-color="#b05f80"/><stop offset="0.330" stop-color="#8e538b"/><stop offset="0.430" stop-color="#4f3a9a"/><stop offset="0.480" stop-color="#35329b"/><stop offset="0.560" stop-color="#1b3177"/><stop offset="0.630" stop-color="#0d3062"/><stop offset="0.810" stop-color="#08294a"/><stop offset="1.000" stop-color="#062743"/></linearGradient><linearGradient id="p67" gradientUnits="userSpaceOnUse" x1="0" y1="91.90" x2="0" y2="490.00"><stop offset="0.000" stop-color="#faa63e"/><stop offset="0.075" stop-color="#f48947"/><stop offset="0.080" stop-color="#d46c6b"/><stop offset="0.085" stop-color="#a85c83"/><stop offset="0.090" stop-color="#8d538b"/><stop offset="0.120" stop-color="#563c99"/><stop offset="0.125" stop-color="#4b399a"/><stop offset="0.130" stop-color="#45379a"/><stop offset="0.235" stop-color="#343299"/><stop offset="0.350" stop-color="#0d3062"/><stop offset="0.385" stop-color="#0b2e5b"/><stop offset="0.530" stop-color="#082a4d"/><stop offset="1.000" stop-color="#062740"/></linearGradient><linearGradient id="p68" gradientUnits="userSpaceOnUse" x1="0" y1="91.90" x2="0" y2="490.00"><stop offset="0.000" stop-color="#573c99"/><stop offset="0.170" stop-color="#343299"/><stop offset="0.290" stop-color="#193175"/><stop offset="0.355" stop-color="#0c2f60"/><stop offset="0.520" stop-color="#082a4d"/><stop offset="1.000" stop-color="#062740"/></linearGradient><linearGradient id="p69" gradientUnits="userSpaceOnUse" x1="0" y1="91.90" x2="0" y2="490.00"><stop offset="0.000" stop-color="#3d349b"/><stop offset="0.215" stop-color="#3d349b"/><stop offset="0.225" stop-color="#333298"/><stop offset="0.250" stop-color="#1a3176"/><stop offset="0.300" stop-color="#0c2f61"/><stop offset="0.355" stop-color="#082a4e"/><stop offset="0.690" stop-color="#072845"/><stop offset="1.000" stop-color="#062740"/></linearGradient><linearGradient id="p70" gradientUnits="userSpaceOnUse" x1="0" y1="91.90" x2="0" y2="490.00"><stop offset="0.000" stop-color="#f99f40"/><stop offset="0.010" stop-color="#f68d45"/><stop offset="0.015" stop-color="#e6775b"/><stop offset="0.020" stop-color="#ba627c"/><stop offset="0.025" stop-color="#8b528c"/><stop offset="0.090" stop-color="#6c4594"/><stop offset="0.125" stop-color="#4a389a"/><stop offset="0.215" stop-color="#34329a"/><stop offset="0.235" stop-color="#2e3292"/><stop offset="0.270" stop-color="#0d3064"/><stop offset="0.280" stop-color="#0b2d59"/><stop offset="0.535" stop-color="#072948"/><stop offset="1.000" stop-color="#062740"/></linearGradient><linearGradient id="p71" gradientUnits="userSpaceOnUse" x1="0" y1="91.90" x2="0" y2="490.00"><stop offset="0.000" stop-color="#f99f40"/><stop offset="0.010" stop-color="#f68d45"/><stop offset="0.015" stop-color="#e6775b"/><stop offset="0.020" stop-color="#ba627c"/><stop offset="0.025" stop-color="#8b528c"/><stop offset="0.090" stop-color="#6c4594"/><stop offset="0.125" stop-color="#4a389a"/><stop offset="0.215" stop-color="#34329a"/><stop offset="0.235" stop-color="#2e3292"/><stop offset="0.270" stop-color="#0d3064"/><stop offset="0.280" stop-color="#0b2d59"/><stop offset="0.535" stop-color="#072948"/><stop offset="1.000" stop-color="#062740"/></linearGradient><linearGradient id="p72" gradientUnits="userSpaceOnUse" x1="0" y1="91.90" x2="0" y2="490.00"><stop offset="0.000" stop-color="#f79443"/><stop offset="0.005" stop-color="#f38749"/><stop offset="0.010" stop-color="#eb7d54"/><stop offset="0.015" stop-color="#945589"/><stop offset="0.020" stop-color="#664296"/><stop offset="0.110" stop-color="#36329b"/><stop offset="0.150" stop-color="#1a3176"/><stop offset="0.210" stop-color="#0c2f60"/><stop offset="0.255" stop-color="#0a2d57"/><stop offset="0.540" stop-color="#072845"/><stop offset="1.000" stop-color="#062740"/></linearGradient><linearGradient id="p73" gradientUnits="userSpaceOnUse" x1="0" y1="91.90" x2="0" y2="490.00"><stop offset="0.000" stop-color="#f4d849"/><stop offset="0.010" stop-color="#f6d145"/><stop offset="0.015" stop-color="#f8c843"/><stop offset="0.020" stop-color="#fbab3c"/><stop offset="0.025" stop-color="#f89642"/><stop offset="0.030" stop-color="#f2864a"/><stop offset="0.035" stop-color="#ea7c55"/><stop offset="0.045" stop-color="#e3735f"/><stop offset="0.050" stop-color="#dc6f65"/><stop offset="0.055" stop-color="#cf6a6e"/><stop offset="0.060" stop-color="#bc637b"/><stop offset="0.075" stop-color="#724893"/><stop offset="0.085" stop-color="#533b99"/><stop offset="0.095" stop-color="#44369a"/><stop offset="0.110" stop-color="#37329b"/><stop offset="0.150" stop-color="#1a3176"/><stop offset="0.210" stop-color="#0c2f60"/><stop offset="0.255" stop-color="#0a2d57"/><stop offset="0.540" stop-color="#072845"/><stop offset="1.000" stop-color="#062740"/></linearGradient><linearGradient id="p74" gradientUnits="userSpaceOnUse" x1="0" y1="91.90" x2="0" y2="490.00"><stop offset="0.000" stop-color="#f6d346"/><stop offset="0.010" stop-color="#f7cc44"/><stop offset="0.015" stop-color="#f8c141"/><stop offset="0.020" stop-color="#faa63e"/><stop offset="0.025" stop-color="#f89941"/><stop offset="0.040" stop-color="#f58a46"/><stop offset="0.095" stop-color="#de7063"/><stop offset="0.140" stop-color="#b9617c"/><stop offset="0.160" stop-color="#a35a85"/><stop offset="0.215" stop-color="#604098"/><stop offset="0.235" stop-color="#45379a"/><stop offset="0.285" stop-color="#343299"/><stop offset="0.370" stop-color="#183173"/><stop offset="0.445" stop-color="#0c2f60"/><stop offset="0.510" stop-color="#0a2b53"/><stop offset="1.000" stop-color="#062740"/></linearGradient><linearGradient id="p75" gradientUnits="userSpaceOnUse" x1="0" y1="91.90" x2="0" y2="490.00"><stop offset="0.000" stop-color="#faa43e"/><stop offset="0.015" stop-color="#f99c40"/><stop offset="0.020" stop-color="#f89542"/><stop offset="0.025" stop-color="#f0844d"/><stop offset="0.030" stop-color="#e3735f"/><stop offset="0.045" stop-color="#c46577"/><stop offset="0.055" stop-color="#b35f7f"/><stop offset="0.070" stop-color="#a65c84"/><stop offset="0.205" stop-color="#734892"/><stop offset="0.265" stop-color="#573c99"/><stop offset="0.325" stop-color="#35329b"/><stop offset="0.355" stop-color="#263186"/><stop offset="0.460" stop-color="#0c2f60"/><stop offset="0.505" stop-color="#0a2c53"/><stop offset="1.000" stop-color="#062740"/></linearGradient><linearGradient id="p76" gradientUnits="userSpaceOnUse" x1="0" y1="91.90" x2="0" y2="490.00"><stop offset="0.000" stop-color="#f8c743"/><stop offset="0.005" stop-color="#f9bd40"/><stop offset="0.010" stop-color="#f99c40"/><stop offset="0.015" stop-color="#ed8051"/><stop offset="0.020" stop-color="#e6775a"/><stop offset="0.035" stop-color="#de7063"/><stop offset="0.050" stop-color="#c76675"/><stop offset="0.065" stop-color="#ad5e81"/><stop offset="0.085" stop-color="#a15a86"/><stop offset="0.235" stop-color="#664296"/><stop offset="0.325" stop-color="#35329b"/><stop offset="0.355" stop-color="#263186"/><stop offset="0.460" stop-color="#0c2f60"/><stop offset="0.505" stop-color="#0a2c53"/><stop offset="1.000" stop-color="#062740"/></linearGradient><linearGradient id="p77" gradientUnits="userSpaceOnUse" x1="0" y1="91.90" x2="0" y2="490.00"><stop offset="0.000" stop-color="#f7cc44"/><stop offset="0.005" stop-color="#f9ba3f"/><stop offset="0.010" stop-color="#f89a41"/><stop offset="0.015" stop-color="#ef824e"/><stop offset="0.020" stop-color="#e87a58"/><stop offset="0.045" stop-color="#de7063"/><stop offset="0.070" stop-color="#cf6a6e"/><stop offset="0.190" stop-color="#bf637a"/><stop offset="0.265" stop-color="#ab5d82"/><stop offset="0.335" stop-color="#8a518c"/><stop offset="0.415" stop-color="#583c99"/><stop offset="0.445" stop-color="#44379a"/><stop offset="0.480" stop-color="#333299"/><stop offset="0.545" stop-color="#1e317c"/><stop offset="0.620" stop-color="#0d3063"/><stop offset="0.800" stop-color="#08294a"/><stop offset="1.000" stop-color="#062743"/></linearGradient><linearGradient id="p78" gradientUnits="userSpaceOnUse" x1="0" y1="91.90" x2="0" y2="490.00"><stop offset="0.000" stop-color="#f8c542"/><stop offset="0.005" stop-color="#f9bc40"/><stop offset="0.010" stop-color="#f99c40"/><stop offset="0.015" stop-color="#f2864b"/><stop offset="0.020" stop-color="#ed8051"/><stop offset="0.045" stop-color="#e6785a"/><stop offset="0.065" stop-color="#d66c69"/><stop offset="0.085" stop-color="#ce696f"/><stop offset="0.190" stop-color="#bf637a"/><stop offset="0.265" stop-color="#ac5d82"/><stop offset="0.325" stop-color="#90548b"/><stop offset="0.425" stop-color="#523b9a"/><stop offset="0.455" stop-color="#40359a"/><stop offset="0.480" stop-color="#34329a"/><stop offset="0.545" stop-color="#1f317c"/><stop offset="0.625" stop-color="#0d3063"/><stop offset="0.745" stop-color="#092b52"/><stop offset="0.845" stop-color="#072948"/><stop offset="1.000" stop-color="#062743"/></linearGradient><linearGradient id="p79" gradientUnits="userSpaceOnUse" x1="0" y1="91.90" x2="0" y2="490.00"><stop offset="0.000" stop-color="#f7c843"/><stop offset="0.005" stop-color="#f9bf41"/><stop offset="0.010" stop-color="#f89742"/><stop offset="0.015" stop-color="#ec7e53"/><stop offset="0.050" stop-color="#dd7064"/><stop offset="0.070" stop-color="#d06a6d"/><stop offset="0.185" stop-color="#c06479"/><stop offset="0.265" stop-color="#ac5d81"/><stop offset="0.345" stop-color="#86508d"/><stop offset="0.425" stop-color="#533b9a"/><stop offset="0.460" stop-color="#3e359b"/><stop offset="0.480" stop-color="#35329b"/><stop offset="0.560" stop-color="#1b3177"/><stop offset="0.635" stop-color="#0d2f62"/><stop offset="0.745" stop-color="#092b52"/><stop offset="0.860" stop-color="#072847"/><stop offset="1.000" stop-color="#062743"/></linearGradient><linearGradient id="p80" gradientUnits="userSpaceOnUse" x1="0" y1="91.90" x2="0" y2="490.00"><stop offset="0.000" stop-color="#f6d446"/><stop offset="0.005" stop-color="#f7cf45"/><stop offset="0.010" stop-color="#f8c442"/><stop offset="0.015" stop-color="#fbaa3d"/><stop offset="0.020" stop-color="#f99d40"/><stop offset="0.025" stop-color="#f89742"/><stop offset="0.030" stop-color="#f0834e"/><stop offset="0.035" stop-color="#e87a58"/><stop offset="0.060" stop-color="#e17161"/><stop offset="0.085" stop-color="#cf6a6e"/><stop offset="0.190" stop-color="#be637a"/><stop offset="0.255" stop-color="#ae5e81"/><stop offset="0.315" stop-color="#92548a"/><stop offset="0.410" stop-color="#573c99"/><stop offset="0.440" stop-color="#43369a"/><stop offset="0.470" stop-color="#34329a"/><stop offset="0.550" stop-color="#1a3176"/><stop offset="0.625" stop-color="#0c2f61"/><stop offset="0.790" stop-color="#08294a"/><stop offset="1.000" stop-color="#062742"/></linearGradient><linearGradient id="p81" gradientUnits="userSpaceOnUse" x1="0" y1="91.90" x2="0" y2="490.00"><stop offset="0.000" stop-color="#f5d547"/><stop offset="0.005" stop-color="#f6d045"/><stop offset="0.010" stop-color="#f8c442"/><stop offset="0.015" stop-color="#faa93d"/><stop offset="0.020" stop-color="#f89b41"/><stop offset="0.025" stop-color="#f89742"/><stop offset="0.030" stop-color="#f68c45"/><stop offset="0.035" stop-color="#e87958"/><stop offset="0.065" stop-color="#d66c69"/><stop offset="0.095" stop-color="#ca6872"/><stop offset="0.170" stop-color="#ba627c"/><stop offset="0.215" stop-color="#a85c83"/><stop offset="0.275" stop-color="#824e8e"/><stop offset="0.335" stop-color="#503a9a"/><stop offset="0.365" stop-color="#3b349b"/><stop offset="0.375" stop-color="#35329b"/><stop offset="0.430" stop-color="#1e317b"/><stop offset="0.490" stop-color="#0d3063"/><stop offset="0.630" stop-color="#08294a"/><stop offset="0.900" stop-color="#062640"/><stop offset="1.000" stop-color="#05263f"/></linearGradient><linearGradient id="p82" gradientUnits="userSpaceOnUse" x1="0" y1="91.90" x2="0" y2="490.00"><stop offset="0.000" stop-color="#f5d547"/><stop offset="0.005" stop-color="#f7cd44"/><stop offset="0.010" stop-color="#f9bc40"/><stop offset="0.015" stop-color="#faa63e"/><stop offset="0.020" stop-color="#f99f40"/><stop offset="0.030" stop-color="#f89941"/><stop offset="0.035" stop-color="#f38749"/><stop offset="0.040" stop-color="#e5775b"/><stop offset="0.070" stop-color="#d26b6d"/><stop offset="0.230" stop-color="#ba627c"/><stop offset="0.290" stop-color="#a85c83"/><stop offset="0.365" stop-color="#86508d"/><stop offset="0.455" stop-color="#4f3a9a"/><stop offset="0.510" stop-color="#34329a"/><stop offset="0.585" stop-color="#1d317a"/><stop offset="0.675" stop-color="#0c2f61"/><stop offset="0.855" stop-color="#08294a"/><stop offset="1.000" stop-color="#072844"/></linearGradient><linearGradient id="p83" gradientUnits="userSpaceOnUse" x1="0" y1="91.90" x2="0" y2="490.00"><stop offset="0.000" stop-color="#f7cd44"/><stop offset="0.005" stop-color="#f8c743"/><stop offset="0.010" stop-color="#f9ba40"/><stop offset="0.015" stop-color="#faa63e"/><stop offset="0.020" stop-color="#f99f40"/><stop offset="0.035" stop-color="#f89941"/><stop offset="0.040" stop-color="#f68b45"/><stop offset="0.045" stop-color="#e6775b"/><stop offset="0.060" stop-color="#da6e66"/><stop offset="0.080" stop-color="#cf6a6f"/><stop offset="0.205" stop-color="#bb627c"/><stop offset="0.265" stop-color="#a85c83"/><stop offset="0.340" stop-color="#814e8e"/><stop offset="0.410" stop-color="#523b9a"/><stop offset="0.445" stop-color="#3d359b"/><stop offset="0.465" stop-color="#343299"/><stop offset="0.540" stop-color="#1b3177"/><stop offset="0.615" stop-color="#0c2f61"/><stop offset="0.780" stop-color="#08294a"/><stop offset="1.000" stop-color="#062742"/></linearGradient><linearGradient id="p84" gradientUnits="userSpaceOnUse" x1="0" y1="91.90" x2="0" y2="490.00"><stop offset="0.000" stop-color="#f7cd45"/><stop offset="0.005" stop-color="#f8c442"/><stop offset="0.010" stop-color="#fbb13d"/><stop offset="0.015" stop-color="#faa53e"/><stop offset="0.050" stop-color="#f89941"/><stop offset="0.055" stop-color="#f68c45"/><stop offset="0.060" stop-color="#dd6f64"/><stop offset="0.065" stop-color="#d46c6a"/><stop offset="0.095" stop-color="#c96773"/><stop offset="0.170" stop-color="#b6607e"/><stop offset="0.220" stop-color="#9d5987"/><stop offset="0.300" stop-color="#5d3e99"/><stop offset="0.330" stop-color="#42369a"/><stop offset="0.350" stop-color="#35329b"/><stop offset="0.415" stop-color="#193174"/><stop offset="0.465" stop-color="#0c2f61"/><stop offset="0.590" stop-color="#08294a"/><stop offset="0.840" stop-color="#062640"/><stop offset="1.000" stop-color="#05263e"/></linearGradient><linearGradient id="p85" gradientUnits="userSpaceOnUse" x1="0" y1="91.90" x2="0" y2="490.00"><stop offset="0.000" stop-color="#e97b56"/><stop offset="0.025" stop-color="#e07062"/><stop offset="0.045" stop-color="#d26b6c"/><stop offset="0.180" stop-color="#c06479"/><stop offset="0.250" stop-color="#af5e80"/><stop offset="0.320" stop-color="#8f538b"/><stop offset="0.420" stop-color="#4f3a9a"/><stop offset="0.470" stop-color="#34329a"/><stop offset="0.535" stop-color="#1e317c"/><stop offset="0.610" stop-color="#0d3063"/><stop offset="0.780" stop-color="#08294b"/><stop offset="1.000" stop-color="#062742"/></linearGradient><linearGradient id="p86" gradientUnits="userSpaceOnUse" x1="0" y1="91.90" x2="0" y2="490.00"><stop offset="0.000" stop-color="#f78f44"/><stop offset="0.005" stop-color="#f1854b"/><stop offset="0.010" stop-color="#e3745e"/><stop offset="0.015" stop-color="#dc6f65"/><stop offset="0.045" stop-color="#d06a6d"/><stop offset="0.165" stop-color="#c46576"/><stop offset="0.255" stop-color="#b05f80"/><stop offset="0.325" stop-color="#91548a"/><stop offset="0.420" stop-color="#573c99"/><stop offset="0.460" stop-color="#3f359b"/><stop offset="0.480" stop-color="#35329b"/><stop offset="0.555" stop-color="#1d317a"/><stop offset="0.635" stop-color="#0d2f62"/><stop offset="0.765" stop-color="#092b50"/><stop offset="0.865" stop-color="#072847"/><stop offset="1.000" stop-color="#062743"/></linearGradient><linearGradient id="p87" gradientUnits="userSpaceOnUse" x1="0" y1="91.90" x2="0" y2="490.00"><stop offset="0.000" stop-color="#f89742"/><stop offset="0.065" stop-color="#f68d44"/><stop offset="0.070" stop-color="#f68b45"/><stop offset="0.075" stop-color="#f0844d"/><stop offset="0.080" stop-color="#e3735f"/><stop offset="0.085" stop-color="#d36c6b"/><stop offset="0.095" stop-color="#cc6970"/><stop offset="0.185" stop-color="#bf637a"/><stop offset="0.255" stop-color="#ad5e81"/><stop offset="0.320" stop-color="#8f538b"/><stop offset="0.420" stop-color="#4f3a9a"/><stop offset="0.470" stop-color="#34329a"/><stop offset="0.535" stop-color="#1e317c"/><stop offset="0.610" stop-color="#0d3063"/><stop offset="0.780" stop-color="#08294b"/><stop offset="1.000" stop-color="#062742"/></linearGradient><linearGradient id="p88" gradientUnits="userSpaceOnUse" x1="0" y1="91.90" x2="0" y2="490.00"><stop offset="0.000" stop-color="#ea7c55"/><stop offset="0.025" stop-color="#e07162"/><stop offset="0.050" stop-color="#d16a6d"/><stop offset="0.185" stop-color="#c16479"/><stop offset="0.270" stop-color="#ab5d82"/><stop offset="0.340" stop-color="#8a518c"/><stop offset="0.430" stop-color="#523b9a"/><stop offset="0.460" stop-color="#40359a"/><stop offset="0.485" stop-color="#34329a"/><stop offset="0.560" stop-color="#1c3179"/><stop offset="0.635" stop-color="#0d3062"/><stop offset="0.820" stop-color="#08294a"/><stop offset="1.000" stop-color="#062743"/></linearGradient><linearGradient id="p89" gradientUnits="userSpaceOnUse" x1="0" y1="91.90" x2="0" y2="490.00"><stop offset="0.000" stop-color="#e97a57"/><stop offset="0.025" stop-color="#dd6f64"/><stop offset="0.045" stop-color="#d26b6c"/><stop offset="0.195" stop-color="#c16479"/><stop offset="0.280" stop-color="#ac5d81"/><stop offset="0.355" stop-color="#8b528c"/><stop offset="0.455" stop-color="#4f3a9a"/><stop offset="0.505" stop-color="#36329b"/><stop offset="0.605" stop-color="#183173"/><stop offset="0.675" stop-color="#0c2f61"/><stop offset="0.855" stop-color="#08294a"/><stop offset="1.000" stop-color="#072844"/></linearGradient><linearGradient id="p90" gradientUnits="userSpaceOnUse" x1="0" y1="91.90" x2="0" y2="490.00"><stop offset="0.000" stop-color="#ed8051"/><stop offset="0.020" stop-color="#e5765b"/><stop offset="0.040" stop-color="#d56c6a"/><stop offset="0.080" stop-color="#cd6970"/><stop offset="0.170" stop-color="#c36577"/><stop offset="0.255" stop-color="#b05f80"/><stop offset="0.330" stop-color="#8d538b"/><stop offset="0.430" stop-color="#4e399a"/><stop offset="0.480" stop-color="#34329a"/><stop offset="0.555" stop-color="#1c3178"/><stop offset="0.635" stop-color="#0c2f61"/><stop offset="0.805" stop-color="#08294a"/><stop offset="1.000" stop-color="#062743"/></linearGradient><linearGradient id="p91" gradientUnits="userSpaceOnUse" x1="0" y1="91.90" x2="0" y2="490.00"><stop offset="0.000" stop-color="#d26b6c"/><stop offset="0.145" stop-color="#c76675"/><stop offset="0.250" stop-color="#b15f80"/><stop offset="0.320" stop-color="#92548a"/><stop offset="0.425" stop-color="#513a9a"/><stop offset="0.455" stop-color="#3f359a"/><stop offset="0.480" stop-color="#333299"/><stop offset="0.545" stop-color="#1e317c"/><stop offset="0.620" stop-color="#0d3064"/><stop offset="0.720" stop-color="#0a2c54"/><stop offset="0.840" stop-color="#072948"/><stop offset="1.000" stop-color="#062743"/></linearGradient><linearGradient id="p92" gradientUnits="userSpaceOnUse" x1="0" y1="91.90" x2="0" y2="490.00"><stop offset="0.000" stop-color="#d26b6c"/><stop offset="0.135" stop-color="#c86774"/><stop offset="0.235" stop-color="#b4607e"/><stop offset="0.300" stop-color="#9a5888"/><stop offset="0.400" stop-color="#5e3f99"/><stop offset="0.440" stop-color="#43369a"/><stop offset="0.470" stop-color="#35329b"/><stop offset="0.540" stop-color="#1d317a"/><stop offset="0.625" stop-color="#0c2f61"/><stop offset="0.790" stop-color="#08294a"/><stop offset="1.000" stop-color="#062742"/></linearGradient><linearGradient id="p93" gradientUnits="userSpaceOnUse" x1="0" y1="91.90" x2="0" y2="490.00"><stop offset="0.000" stop-color="#d26b6c"/><stop offset="0.140" stop-color="#c86774"/><stop offset="0.260" stop-color="#b05f80"/><stop offset="0.330" stop-color="#91548a"/><stop offset="0.430" stop-color="#553c99"/><stop offset="0.465" stop-color="#40359a"/><stop offset="0.490" stop-color="#34329a"/><stop offset="0.565" stop-color="#1d3179"/><stop offset="0.650" stop-color="#0c2f61"/><stop offset="0.825" stop-color="#08294a"/><stop offset="1.000" stop-color="#062743"/></linearGradient><linearGradient id="p94" gradientUnits="userSpaceOnUse" x1="0" y1="91.90" x2="0" y2="490.00"><stop offset="0.000" stop-color="#d26b6c"/><stop offset="0.140" stop-color="#c86774"/><stop offset="0.265" stop-color="#af5e80"/><stop offset="0.335" stop-color="#90548b"/><stop offset="0.440" stop-color="#503a9a"/><stop offset="0.475" stop-color="#3d349b"/><stop offset="0.495" stop-color="#343299"/><stop offset="0.575" stop-color="#1b3177"/><stop offset="0.655" stop-color="#0c2f61"/><stop offset="0.830" stop-color="#08294a"/><stop offset="1.000" stop-color="#062744"/></linearGradient><linearGradient id="p95" gradientUnits="userSpaceOnUse" x1="0" y1="91.90" x2="0" y2="490.00"><stop offset="0.000" stop-color="#d26b6c"/><stop offset="0.140" stop-color="#c86774"/><stop offset="0.265" stop-color="#af5e80"/><stop offset="0.335" stop-color="#90548b"/><stop offset="0.440" stop-color="#513a9a"/><stop offset="0.485" stop-color="#39339b"/><stop offset="0.505" stop-color="#303295"/><stop offset="0.600" stop-color="#15306f"/><stop offset="0.660" stop-color="#0c2f60"/><stop offset="0.850" stop-color="#082949"/><stop offset="1.000" stop-color="#062744"/></linearGradient><linearGradient id="p96" gradientUnits="userSpaceOnUse" x1="0" y1="91.90" x2="0" y2="490.00"><stop offset="0.000" stop-color="#d26b6c"/><stop offset="0.145" stop-color="#c76675"/><stop offset="0.255" stop-color="#b05f80"/><stop offset="0.330" stop-color="#8d538b"/><stop offset="0.425" stop-color="#523b9a"/><stop offset="0.455" stop-color="#40359a"/><stop offset="0.480" stop-color="#34329a"/><stop offset="0.545" stop-color="#1f317c"/><stop offset="0.625" stop-color="#0d3063"/><stop offset="0.745" stop-color="#092b52"/><stop offset="0.855" stop-color="#072847"/><stop offset="1.000" stop-color="#062743"/></linearGradient><linearGradient id="p97" gradientUnits="userSpaceOnUse" x1="0" y1="91.90" x2="0" y2="490.00"><stop offset="0.000" stop-color="#d26b6c"/><stop offset="0.145" stop-color="#c76675"/><stop offset="0.250" stop-color="#b15f80"/><stop offset="0.315" stop-color="#955589"/><stop offset="0.415" stop-color="#583d99"/><stop offset="0.460" stop-color="#3d349b"/><stop offset="0.480" stop-color="#333299"/><stop offset="0.545" stop-color="#1e317c"/><stop offset="0.620" stop-color="#0d3064"/><stop offset="0.740" stop-color="#092b52"/><stop offset="0.855" stop-color="#072847"/><stop offset="1.000" stop-color="#062743"/></linearGradient><linearGradient id="p98" gradientUnits="userSpaceOnUse" x1="0" y1="91.90" x2="0" y2="490.00"><stop offset="0.000" stop-color="#d26b6c"/><stop offset="0.145" stop-color="#c76675"/><stop offset="0.255" stop-color="#b05f80"/><stop offset="0.330" stop-color="#8d538b"/><stop offset="0.425" stop-color="#523b9a"/><stop offset="0.455" stop-color="#40359a"/><stop offset="0.480" stop-color="#34329a"/><stop offset="0.545" stop-color="#1f317c"/><stop offset="0.625" stop-color="#0d3063"/><stop offset="0.745" stop-color="#092b52"/><stop offset="0.855" stop-color="#072847"/><stop offset="1.000" stop-color="#062743"/></linearGradient><linearGradient id="p99" gradientUnits="userSpaceOnUse" x1="0" y1="91.90" x2="0" y2="490.00"><stop offset="0.000" stop-color="#d26b6c"/><stop offset="0.115" stop-color="#c86774"/><stop offset="0.190" stop-color="#b7617d"/><stop offset="0.235" stop-color="#a55b84"/><stop offset="0.305" stop-color="#794b91"/><stop offset="0.355" stop-color="#523b9a"/><stop offset="0.385" stop-color="#3d359b"/><stop offset="0.400" stop-color="#35329b"/><stop offset="0.460" stop-color="#1d317a"/><stop offset="0.525" stop-color="#0d3062"/><stop offset="0.675" stop-color="#08294a"/><stop offset="0.950" stop-color="#062640"/><stop offset="1.000" stop-color="#062640"/></linearGradient><linearGradient id="p100" gradientUnits="userSpaceOnUse" x1="0" y1="91.90" x2="0" y2="490.00"><stop offset="0.000" stop-color="#d26b6c"/><stop offset="0.110" stop-color="#c86774"/><stop offset="0.185" stop-color="#b6617d"/><stop offset="0.235" stop-color="#a05a86"/><stop offset="0.305" stop-color="#6f4694"/><stop offset="0.355" stop-color="#46379a"/><stop offset="0.385" stop-color="#34329a"/><stop offset="0.435" stop-color="#1f317d"/><stop offset="0.500" stop-color="#0d3063"/><stop offset="0.645" stop-color="#08294a"/><stop offset="0.915" stop-color="#062640"/><stop offset="1.000" stop-color="#06263f"/></linearGradient><linearGradient id="p101" gradientUnits="userSpaceOnUse" x1="0" y1="91.90" x2="0" y2="490.00"><stop offset="0.000" stop-color="#d26b6c"/><stop offset="0.125" stop-color="#c76675"/><stop offset="0.215" stop-color="#b15f80"/><stop offset="0.275" stop-color="#92548a"/><stop offset="0.360" stop-color="#553c99"/><stop offset="0.380" stop-color="#45379a"/><stop offset="0.410" stop-color="#35329a"/><stop offset="0.480" stop-color="#1a3176"/><stop offset="0.535" stop-color="#0d3063"/><stop offset="0.675" stop-color="#082a4c"/><stop offset="0.840" stop-color="#062743"/><stop offset="1.000" stop-color="#062640"/></linearGradient><linearGradient id="p102" gradientUnits="userSpaceOnUse" x1="0" y1="91.90" x2="0" y2="490.00"><stop offset="0.000" stop-color="#d26b6c"/><stop offset="0.120" stop-color="#c76675"/><stop offset="0.200" stop-color="#b3607f"/><stop offset="0.260" stop-color="#955689"/><stop offset="0.330" stop-color="#634197"/><stop offset="0.370" stop-color="#44369a"/><stop offset="0.395" stop-color="#35329b"/><stop offset="0.455" stop-color="#1d317a"/><stop offset="0.515" stop-color="#0d3063"/><stop offset="0.665" stop-color="#08294a"/><stop offset="0.945" stop-color="#062640"/><stop offset="1.000" stop-color="#062640"/></linearGradient><linearGradient id="p103" gradientUnits="userSpaceOnUse" x1="0" y1="91.90" x2="0" y2="490.00"><stop offset="0.000" stop-color="#ec7f52"/><stop offset="0.025" stop-color="#de7063"/><stop offset="0.045" stop-color="#d26b6d"/><stop offset="0.185" stop-color="#c06479"/><stop offset="0.260" stop-color="#ad5e81"/><stop offset="0.325" stop-color="#8f538b"/><stop offset="0.415" stop-color="#573c99"/><stop offset="0.455" stop-color="#3f359b"/><stop offset="0.475" stop-color="#35329b"/><stop offset="0.550" stop-color="#1d3179"/><stop offset="0.620" stop-color="#0d3063"/><stop offset="0.800" stop-color="#08294a"/><stop offset="1.000" stop-color="#062743"/></linearGradient><linearGradient id="p104" gradientUnits="userSpaceOnUse" x1="0" y1="91.90" x2="0" y2="490.00"><stop offset="0.000" stop-color="#ea7d55"/><stop offset="0.020" stop-color="#de7063"/><stop offset="0.040" stop-color="#d26b6c"/><stop offset="0.180" stop-color="#c26478"/><stop offset="0.270" stop-color="#ac5d81"/><stop offset="0.345" stop-color="#89518c"/><stop offset="0.435" stop-color="#513a9a"/><stop offset="0.480" stop-color="#39339b"/><stop offset="0.500" stop-color="#303295"/><stop offset="0.595" stop-color="#15306f"/><stop offset="0.655" stop-color="#0c2f60"/><stop offset="0.830" stop-color="#08294a"/><stop offset="1.000" stop-color="#062743"/></linearGradient><linearGradient id="p105" gradientUnits="userSpaceOnUse" x1="0" y1="91.90" x2="0" y2="490.00"><stop offset="0.000" stop-color="#ee8150"/><stop offset="0.025" stop-color="#de7063"/><stop offset="0.045" stop-color="#d26b6d"/><stop offset="0.180" stop-color="#c16479"/><stop offset="0.265" stop-color="#aa5d82"/><stop offset="0.345" stop-color="#824e8e"/><stop offset="0.410" stop-color="#583c99"/><stop offset="0.445" stop-color="#41369a"/><stop offset="0.470" stop-color="#35329b"/><stop offset="0.535" stop-color="#1f317d"/><stop offset="0.610" stop-color="#0d3064"/><stop offset="0.730" stop-color="#092b52"/><stop offset="0.830" stop-color="#072948"/><stop offset="1.000" stop-color="#062742"/></linearGradient><linearGradient id="p106" gradientUnits="userSpaceOnUse" x1="0" y1="91.90" x2="0" y2="490.00"><stop offset="0.000" stop-color="#ec7e53"/><stop offset="0.020" stop-color="#df7062"/><stop offset="0.040" stop-color="#d26b6c"/><stop offset="0.175" stop-color="#c26578"/><stop offset="0.260" stop-color="#ae5e81"/><stop offset="0.340" stop-color="#88518d"/><stop offset="0.430" stop-color="#4e3a9a"/><stop offset="0.480" stop-color="#34329a"/><stop offset="0.550" stop-color="#1d317a"/><stop offset="0.635" stop-color="#0c2f61"/><stop offset="0.805" stop-color="#08294a"/><stop offset="1.000" stop-color="#062743"/></linearGradient><linearGradient id="p107" gradientUnits="userSpaceOnUse" x1="0" y1="91.90" x2="0" y2="490.00"><stop offset="0.000" stop-color="#f89941"/><stop offset="0.005" stop-color="#f0834e"/><stop offset="0.010" stop-color="#e3745e"/><stop offset="0.030" stop-color="#d46c6b"/><stop offset="0.180" stop-color="#c06479"/><stop offset="0.250" stop-color="#b05f80"/><stop offset="0.325" stop-color="#8c528c"/><stop offset="0.420" stop-color="#4f3a9a"/><stop offset="0.470" stop-color="#34329a"/><stop offset="0.535" stop-color="#1e317c"/><stop offset="0.615" stop-color="#0d3062"/><stop offset="0.780" stop-color="#08294b"/><stop offset="1.000" stop-color="#062742"/></linearGradient><linearGradient id="p108" gradientUnits="userSpaceOnUse" x1="0" y1="91.90" x2="0" y2="490.00"><stop offset="0.000" stop-color="#f79542"/><stop offset="0.005" stop-color="#ee814f"/><stop offset="0.010" stop-color="#e2735f"/><stop offset="0.025" stop-color="#d66d69"/><stop offset="0.065" stop-color="#ce696f"/><stop offset="0.165" stop-color="#c46577"/><stop offset="0.250" stop-color="#b05f80"/><stop offset="0.315" stop-color="#92548a"/><stop offset="0.410" stop-color="#573c99"/><stop offset="0.440" stop-color="#43369a"/><stop offset="0.470" stop-color="#34329a"/><stop offset="0.550" stop-color="#1a3176"/><stop offset="0.620" stop-color="#0d2f62"/><stop offset="0.730" stop-color="#092b52"/><stop offset="0.840" stop-color="#072847"/><stop offset="1.000" stop-color="#062742"/></linearGradient><linearGradient id="p109" gradientUnits="userSpaceOnUse" x1="0" y1="91.90" x2="0" y2="490.00"><stop offset="0.000" stop-color="#f79243"/><stop offset="0.005" stop-color="#ec7e53"/><stop offset="0.010" stop-color="#e3735f"/><stop offset="0.040" stop-color="#d26b6c"/><stop offset="0.175" stop-color="#c26578"/><stop offset="0.260" stop-color="#ae5e81"/><stop offset="0.335" stop-color="#8b528c"/><stop offset="0.430" stop-color="#4f3a9a"/><stop offset="0.480" stop-color="#35329b"/><stop offset="0.555" stop-color="#1d3179"/><stop offset="0.635" stop-color="#0d2f62"/><stop offset="0.745" stop-color="#092b52"/><stop offset="0.860" stop-color="#072847"/><stop offset="1.000" stop-color="#062743"/></linearGradient><linearGradient id="p110" gradientUnits="userSpaceOnUse" x1="0" y1="91.90" x2="0" y2="490.00"><stop offset="0.000" stop-color="#f99e40"/><stop offset="0.005" stop-color="#f79343"/><stop offset="0.010" stop-color="#ed8051"/><stop offset="0.015" stop-color="#e3735f"/><stop offset="0.035" stop-color="#d46c6b"/><stop offset="0.080" stop-color="#cd6970"/><stop offset="0.170" stop-color="#c36578"/><stop offset="0.260" stop-color="#ad5e81"/><stop offset="0.330" stop-color="#8c528c"/><stop offset="0.425" stop-color="#503a9a"/><stop offset="0.450" stop-color="#41369a"/><stop offset="0.475" stop-color="#35329b"/><stop offset="0.540" stop-color="#1f317d"/><stop offset="0.620" stop-color="#0d3063"/><stop offset="0.740" stop-color="#092b52"/><stop offset="0.850" stop-color="#072847"/><stop offset="1.000" stop-color="#062743"/></linearGradient><linearGradient id="p111" gradientUnits="userSpaceOnUse" x1="0" y1="91.90" x2="0" y2="490.00"><stop offset="0.000" stop-color="#f89842"/><stop offset="0.005" stop-color="#f79243"/><stop offset="0.010" stop-color="#f38849"/><stop offset="0.015" stop-color="#e97b57"/><stop offset="0.025" stop-color="#e17161"/><stop offset="0.050" stop-color="#d16b6d"/><stop offset="0.180" stop-color="#c16479"/><stop offset="0.260" stop-color="#ac5d81"/><stop offset="0.330" stop-color="#8b528c"/><stop offset="0.425" stop-color="#4e399a"/><stop offset="0.475" stop-color="#343299"/><stop offset="0.540" stop-color="#1e317c"/><stop offset="0.615" stop-color="#0d3063"/><stop offset="0.795" stop-color="#08294a"/><stop offset="1.000" stop-color="#062742"/></linearGradient><linearGradient id="p112" gradientUnits="userSpaceOnUse" x1="0" y1="91.90" x2="0" y2="490.00"><stop offset="0.000" stop-color="#f9be40"/><stop offset="0.005" stop-color="#fab33e"/><stop offset="0.015" stop-color="#f78f44"/><stop offset="0.020" stop-color="#ea7d54"/><stop offset="0.025" stop-color="#e5765c"/><stop offset="0.050" stop-color="#d46c6b"/><stop offset="0.085" stop-color="#cd6970"/><stop offset="0.185" stop-color="#c16479"/><stop offset="0.270" stop-color="#ac5d82"/><stop offset="0.345" stop-color="#89518c"/><stop offset="0.435" stop-color="#513a9a"/><stop offset="0.480" stop-color="#39339b"/><stop offset="0.500" stop-color="#303295"/><stop offset="0.595" stop-color="#15306f"/><stop offset="0.655" stop-color="#0c2f60"/><stop offset="0.825" stop-color="#08294a"/><stop offset="1.000" stop-color="#062743"/></linearGradient><linearGradient id="p113" gradientUnits="userSpaceOnUse" x1="0" y1="91.90" x2="0" y2="490.00"><stop offset="0.000" stop-color="#f9be40"/><stop offset="0.005" stop-color="#fab63e"/><stop offset="0.015" stop-color="#f89c41"/><stop offset="0.020" stop-color="#f68d45"/><stop offset="0.025" stop-color="#eb7d54"/><stop offset="0.040" stop-color="#df7063"/><stop offset="0.060" stop-color="#d16b6d"/><stop offset="0.200" stop-color="#c06479"/><stop offset="0.285" stop-color="#ac5d81"/><stop offset="0.360" stop-color="#8b528c"/><stop offset="0.460" stop-color="#513a9a"/><stop offset="0.495" stop-color="#3e359b"/><stop offset="0.515" stop-color="#35329b"/><stop offset="0.610" stop-color="#193175"/><stop offset="0.685" stop-color="#0c2f61"/><stop offset="0.870" stop-color="#08294a"/><stop offset="1.000" stop-color="#072845"/></linearGradient><linearGradient id="p114" gradientUnits="userSpaceOnUse" x1="0" y1="91.90" x2="0" y2="490.00"><stop offset="0.000" stop-color="#f9ba3f"/><stop offset="0.010" stop-color="#faa63e"/><stop offset="0.020" stop-color="#f89a41"/><stop offset="0.025" stop-color="#f2874a"/><stop offset="0.030" stop-color="#e6775b"/><stop offset="0.045" stop-color="#da6e66"/><stop offset="0.065" stop-color="#d06a6e"/><stop offset="0.190" stop-color="#bf637a"/><stop offset="0.265" stop-color="#ab5d82"/><stop offset="0.320" stop-color="#92548a"/><stop offset="0.410" stop-color="#5c3e99"/><stop offset="0.450" stop-color="#42369a"/><stop offset="0.480" stop-color="#343299"/><stop offset="0.555" stop-color="#1c3178"/><stop offset="0.630" stop-color="#0d2f62"/><stop offset="0.780" stop-color="#082a4d"/><stop offset="0.945" stop-color="#072844"/><stop offset="1.000" stop-color="#062743"/></linearGradient><linearGradient id="p115" gradientUnits="userSpaceOnUse" x1="0" y1="91.90" x2="0" y2="490.00"><stop offset="0.000" stop-color="#f9c041"/><stop offset="0.005" stop-color="#fab63e"/><stop offset="0.010" stop-color="#faa63e"/><stop offset="0.020" stop-color="#f79044"/><stop offset="0.025" stop-color="#ec7e53"/><stop offset="0.035" stop-color="#e4755d"/><stop offset="0.065" stop-color="#d16a6d"/><stop offset="0.195" stop-color="#bf637a"/><stop offset="0.270" stop-color="#ac5d81"/><stop offset="0.335" stop-color="#8f538b"/><stop offset="0.435" stop-color="#533b9a"/><stop offset="0.465" stop-color="#41369a"/><stop offset="0.490" stop-color="#35329b"/><stop offset="0.565" stop-color="#1d317a"/><stop offset="0.645" stop-color="#0d3062"/><stop offset="0.830" stop-color="#08294a"/><stop offset="1.000" stop-color="#062743"/></linearGradient><linearGradient id="p116" gradientUnits="userSpaceOnUse" x1="0" y1="91.90" x2="0" y2="490.00"><stop offset="0.000" stop-color="#f9c041"/><stop offset="0.010" stop-color="#fab63e"/><stop offset="0.020" stop-color="#f99f40"/><stop offset="0.025" stop-color="#f89b41"/><stop offset="0.030" stop-color="#f79044"/><stop offset="0.035" stop-color="#e97b56"/><stop offset="0.040" stop-color="#e27260"/><stop offset="0.060" stop-color="#d26b6c"/><stop offset="0.195" stop-color="#bd637b"/><stop offset="0.260" stop-color="#ab5d82"/><stop offset="0.340" stop-color="#834f8e"/><stop offset="0.415" stop-color="#513a9a"/><stop offset="0.445" stop-color="#3f359a"/><stop offset="0.465" stop-color="#35329b"/><stop offset="0.530" stop-color="#1f317d"/><stop offset="0.605" stop-color="#0d3064"/><stop offset="0.710" stop-color="#0a2c53"/><stop offset="0.835" stop-color="#072847"/><stop offset="1.000" stop-color="#062742"/></linearGradient><linearGradient id="p117" gradientUnits="userSpaceOnUse" x1="0" y1="91.90" x2="0" y2="490.00"><stop offset="0.000" stop-color="#f9bc40"/><stop offset="0.010" stop-color="#fab43e"/><stop offset="0.015" stop-color="#fbac3c"/><stop offset="0.025" stop-color="#f89742"/><stop offset="0.030" stop-color="#ee814f"/><stop offset="0.035" stop-color="#e6775b"/><stop offset="0.065" stop-color="#d26b6c"/><stop offset="0.205" stop-color="#ba627c"/><stop offset="0.255" stop-color="#a95d82"/><stop offset="0.325" stop-color="#86508d"/><stop offset="0.395" stop-color="#573c99"/><stop offset="0.430" stop-color="#40359a"/><stop offset="0.455" stop-color="#343299"/><stop offset="0.520" stop-color="#1d317a"/><stop offset="0.590" stop-color="#0d3063"/><stop offset="0.760" stop-color="#08294a"/><stop offset="1.000" stop-color="#062741"/></linearGradient><linearGradient id="p118" gradientUnits="userSpaceOnUse" x1="0" y1="91.90" x2="0" y2="490.00"><stop offset="0.000" stop-color="#f9bd40"/><stop offset="0.010" stop-color="#fab43e"/><stop offset="0.020" stop-color="#f99f40"/><stop offset="0.030" stop-color="#f89742"/><stop offset="0.035" stop-color="#f38849"/><stop offset="0.040" stop-color="#e6775b"/><stop offset="0.050" stop-color="#dc6f65"/><stop offset="0.070" stop-color="#d06a6e"/><stop offset="0.205" stop-color="#be637a"/><stop offset="0.275" stop-color="#ab5d82"/><stop offset="0.340" stop-color="#8e538b"/><stop offset="0.440" stop-color="#523b9a"/><stop offset="0.480" stop-color="#3c349b"/><stop offset="0.495" stop-color="#35329b"/><stop offset="0.570" stop-color="#1d317a"/><stop offset="0.650" stop-color="#0d3063"/><stop offset="0.770" stop-color="#092b52"/><stop offset="0.875" stop-color="#072948"/><stop offset="1.000" stop-color="#062744"/></linearGradient><linearGradient id="p119" gradientUnits="userSpaceOnUse" x1="0" y1="91.90" x2="0" y2="490.00"><stop offset="0.000" stop-color="#f9a13f"/><stop offset="0.035" stop-color="#f89642"/><stop offset="0.040" stop-color="#f68b45"/><stop offset="0.045" stop-color="#e97a57"/><stop offset="0.055" stop-color="#e17161"/><stop offset="0.075" stop-color="#d16b6d"/><stop offset="0.215" stop-color="#ba627c"/><stop offset="0.270" stop-color="#a95c83"/><stop offset="0.340" stop-color="#87508d"/><stop offset="0.415" stop-color="#583c99"/><stop offset="0.445" stop-color="#44379a"/><stop offset="0.480" stop-color="#333299"/><stop offset="0.545" stop-color="#1e317c"/><stop offset="0.620" stop-color="#0d3063"/><stop offset="0.800" stop-color="#08294a"/><stop offset="1.000" stop-color="#062743"/></linearGradient><linearGradient id="p120" gradientUnits="userSpaceOnUse" x1="0" y1="91.90" x2="0" y2="490.00"><stop offset="0.000" stop-color="#f89c41"/><stop offset="0.040" stop-color="#f79243"/><stop offset="0.045" stop-color="#f68b45"/><stop offset="0.050" stop-color="#e87a58"/><stop offset="0.055" stop-color="#de7064"/><stop offset="0.070" stop-color="#d26b6d"/><stop offset="0.100" stop-color="#cc6871"/><stop offset="0.200" stop-color="#bc627b"/><stop offset="0.265" stop-color="#a85c83"/><stop offset="0.325" stop-color="#8a518c"/><stop offset="0.410" stop-color="#533b9a"/><stop offset="0.450" stop-color="#3b349b"/><stop offset="0.465" stop-color="#34329a"/><stop offset="0.530" stop-color="#1e317b"/><stop offset="0.605" stop-color="#0d3063"/><stop offset="0.720" stop-color="#092b52"/><stop offset="0.830" stop-color="#072847"/><stop offset="1.000" stop-color="#062742"/></linearGradient><linearGradient id="p121" gradientUnits="userSpaceOnUse" x1="0" y1="91.90" x2="0" y2="490.00"><stop offset="0.000" stop-color="#faa53e"/><stop offset="0.035" stop-color="#f89b41"/><stop offset="0.040" stop-color="#f79243"/><stop offset="0.045" stop-color="#e87958"/><stop offset="0.050" stop-color="#db6f66"/><stop offset="0.060" stop-color="#d26b6c"/><stop offset="0.165" stop-color="#b8617d"/><stop offset="0.200" stop-color="#a95c83"/><stop offset="0.240" stop-color="#90548b"/><stop offset="0.320" stop-color="#4c399a"/><stop offset="0.355" stop-color="#343299"/><stop offset="0.415" stop-color="#1a3176"/><stop offset="0.465" stop-color="#0d3062"/><stop offset="0.595" stop-color="#08294a"/><stop offset="0.845" stop-color="#062640"/><stop offset="1.000" stop-color="#05263f"/></linearGradient><linearGradient id="p122" gradientUnits="userSpaceOnUse" x1="0" y1="91.90" x2="0" y2="490.00"><stop offset="0.000" stop-color="#cd6970"/><stop offset="0.030" stop-color="#ca6873"/><stop offset="0.035" stop-color="#a45b85"/><stop offset="0.040" stop-color="#91548a"/><stop offset="0.090" stop-color="#7c4c90"/><stop offset="0.130" stop-color="#674296"/><stop offset="0.145" stop-color="#46379a"/><stop offset="0.180" stop-color="#35329b"/><stop offset="0.190" stop-color="#303294"/><stop offset="0.220" stop-color="#0e3065"/><stop offset="0.225" stop-color="#0c2e5e"/><stop offset="0.375" stop-color="#082a4d"/><stop offset="0.765" stop-color="#072844"/><stop offset="1.000" stop-color="#062740"/></linearGradient><linearGradient id="p123" gradientUnits="userSpaceOnUse" x1="0" y1="91.90" x2="0" y2="490.00"><stop offset="0.000" stop-color="#cd6970"/><stop offset="0.030" stop-color="#ca6873"/><stop offset="0.035" stop-color="#a45b85"/><stop offset="0.040" stop-color="#91548a"/><stop offset="0.090" stop-color="#7c4c90"/><stop offset="0.130" stop-color="#674296"/><stop offset="0.145" stop-color="#46379a"/><stop offset="0.180" stop-color="#35329b"/><stop offset="0.190" stop-color="#303294"/><stop offset="0.220" stop-color="#0e3065"/><stop offset="0.225" stop-color="#0c2e5e"/><stop offset="0.375" stop-color="#082a4d"/><stop offset="0.765" stop-color="#072844"/><stop offset="1.000" stop-color="#062740"/></linearGradient><linearGradient id="p124" gradientUnits="userSpaceOnUse" x1="0" y1="91.90" x2="0" y2="490.00"><stop offset="0.000" stop-color="#f99d40"/><stop offset="0.085" stop-color="#f68c45"/><stop offset="0.090" stop-color="#f48947"/><stop offset="0.095" stop-color="#ee8150"/><stop offset="0.100" stop-color="#e17260"/><stop offset="0.105" stop-color="#cc6871"/><stop offset="0.110" stop-color="#bc637b"/><stop offset="0.120" stop-color="#b05f80"/><stop offset="0.160" stop-color="#87508d"/><stop offset="0.200" stop-color="#503a9a"/><stop offset="0.215" stop-color="#3e359b"/><stop offset="0.225" stop-color="#343299"/><stop offset="0.265" stop-color="#193174"/><stop offset="0.295" stop-color="#0d2f62"/><stop offset="0.375" stop-color="#08294b"/><stop offset="0.480" stop-color="#062742"/><stop offset="1.000" stop-color="#042539"/></linearGradient><linearGradient id="p125" gradientUnits="userSpaceOnUse" x1="0" y1="91.90" x2="0" y2="490.00"><stop offset="0.000" stop-color="#f89542"/><stop offset="0.085" stop-color="#f48848"/><stop offset="0.105" stop-color="#ef824e"/><stop offset="0.110" stop-color="#ea7c56"/><stop offset="0.115" stop-color="#e07162"/><stop offset="0.120" stop-color="#d46c6b"/><stop offset="0.130" stop-color="#ca6872"/><stop offset="0.265" stop-color="#af5e80"/><stop offset="0.335" stop-color="#90548b"/><stop offset="0.440" stop-color="#503a9a"/><stop offset="0.475" stop-color="#3d349b"/><stop offset="0.495" stop-color="#343299"/><stop offset="0.575" stop-color="#1b3177"/><stop offset="0.655" stop-color="#0c2f61"/><stop offset="0.830" stop-color="#08294a"/><stop offset="1.000" stop-color="#062744"/></linearGradient><linearGradient id="p126" gradientUnits="userSpaceOnUse" x1="0" y1="91.90" x2="0" y2="490.00"><stop offset="0.000" stop-color="#e77859"/><stop offset="0.020" stop-color="#de7063"/><stop offset="0.040" stop-color="#d26b6c"/><stop offset="0.180" stop-color="#c26478"/><stop offset="0.270" stop-color="#ac5d82"/><stop offset="0.345" stop-color="#89518c"/><stop offset="0.435" stop-color="#513a9a"/><stop offset="0.480" stop-color="#39339b"/><stop offset="0.495" stop-color="#323297"/><stop offset="0.570" stop-color="#1b3177"/><stop offset="0.650" stop-color="#0c2f61"/><stop offset="0.820" stop-color="#08294a"/><stop offset="1.000" stop-color="#062743"/></linearGradient><linearGradient id="p127" gradientUnits="userSpaceOnUse" x1="0" y1="91.90" x2="0" y2="490.00"><stop offset="0.000" stop-color="#e77859"/><stop offset="0.030" stop-color="#d56c6a"/><stop offset="0.065" stop-color="#ce696f"/><stop offset="0.155" stop-color="#c56676"/><stop offset="0.250" stop-color="#af5e80"/><stop offset="0.315" stop-color="#91548a"/><stop offset="0.405" stop-color="#593d99"/><stop offset="0.440" stop-color="#42369a"/><stop offset="0.470" stop-color="#333299"/><stop offset="0.545" stop-color="#1b3177"/><stop offset="0.620" stop-color="#0c2f61"/><stop offset="0.800" stop-color="#082949"/><stop offset="1.000" stop-color="#062742"/></linearGradient><linearGradient id="p128" gradientUnits="userSpaceOnUse" x1="0" y1="91.90" x2="0" y2="490.00"><stop offset="0.000" stop-color="#d26b6c"/><stop offset="0.145" stop-color="#c86774"/><stop offset="0.265" stop-color="#b05f80"/><stop offset="0.335" stop-color="#92548a"/><stop offset="0.410" stop-color="#674396"/><stop offset="0.470" stop-color="#43369a"/><stop offset="0.500" stop-color="#35329b"/><stop offset="0.575" stop-color="#1d317a"/><stop offset="0.660" stop-color="#0d2f62"/><stop offset="0.840" stop-color="#08294a"/><stop offset="1.000" stop-color="#062844"/></linearGradient><linearGradient id="p129" gradientUnits="userSpaceOnUse" x1="0" y1="91.90" x2="0" y2="490.00"><stop offset="0.000" stop-color="#d26b6c"/><stop offset="0.145" stop-color="#c76675"/><stop offset="0.245" stop-color="#b25f7f"/><stop offset="0.315" stop-color="#94558a"/><stop offset="0.420" stop-color="#533b9a"/><stop offset="0.455" stop-color="#3e359b"/><stop offset="0.475" stop-color="#35329b"/><stop offset="0.540" stop-color="#1f317d"/><stop offset="0.615" stop-color="#0d3064"/><stop offset="0.735" stop-color="#092b52"/><stop offset="0.850" stop-color="#072847"/><stop offset="1.000" stop-color="#062743"/></linearGradient><linearGradient id="p130" gradientUnits="userSpaceOnUse" x1="0" y1="91.90" x2="0" y2="490.00"><stop offset="0.000" stop-color="#d26b6c"/><stop offset="0.145" stop-color="#c76675"/><stop offset="0.250" stop-color="#b25f7f"/><stop offset="0.320" stop-color="#945589"/><stop offset="0.420" stop-color="#583d99"/><stop offset="0.460" stop-color="#40359a"/><stop offset="0.485" stop-color="#34329a"/><stop offset="0.550" stop-color="#1f317c"/><stop offset="0.630" stop-color="#0d3063"/><stop offset="0.790" stop-color="#082a4d"/><stop offset="0.955" stop-color="#072844"/><stop offset="1.000" stop-color="#062743"/></linearGradient><linearGradient id="p131" gradientUnits="userSpaceOnUse" x1="0" y1="91.90" x2="0" y2="490.00"><stop offset="0.000" stop-color="#d26b6c"/><stop offset="0.145" stop-color="#c76675"/><stop offset="0.250" stop-color="#b15f80"/><stop offset="0.315" stop-color="#955589"/><stop offset="0.415" stop-color="#583d99"/><stop offset="0.460" stop-color="#3d349b"/><stop offset="0.480" stop-color="#333299"/><stop offset="0.545" stop-color="#1e317c"/><stop offset="0.620" stop-color="#0d3064"/><stop offset="0.740" stop-color="#092b52"/><stop offset="0.855" stop-color="#072847"/><stop offset="1.000" stop-color="#062743"/></linearGradient><linearGradient id="p132" gradientUnits="userSpaceOnUse" x1="0" y1="91.90" x2="0" y2="490.00"><stop offset="0.000" stop-color="#d26b6c"/><stop offset="0.145" stop-color="#c76675"/><stop offset="0.250" stop-color="#b15f7f"/><stop offset="0.315" stop-color="#955689"/><stop offset="0.410" stop-color="#5c3e99"/><stop offset="0.450" stop-color="#42369a"/><stop offset="0.480" stop-color="#343299"/><stop offset="0.560" stop-color="#1a3176"/><stop offset="0.635" stop-color="#0c2f61"/><stop offset="0.805" stop-color="#08294a"/><stop offset="1.000" stop-color="#062743"/></linearGradient><linearGradient id="p133" gradientUnits="userSpaceOnUse" x1="0" y1="91.90" x2="0" y2="490.00"><stop offset="0.000" stop-color="#d26b6c"/><stop offset="0.145" stop-color="#c76675"/><stop offset="0.250" stop-color="#b15f80"/><stop offset="0.315" stop-color="#955589"/><stop offset="0.415" stop-color="#583d99"/><stop offset="0.460" stop-color="#3d349b"/><stop offset="0.480" stop-color="#343299"/><stop offset="0.555" stop-color="#1c3178"/><stop offset="0.630" stop-color="#0d2f62"/><stop offset="0.780" stop-color="#082a4d"/><stop offset="0.945" stop-color="#072844"/><stop offset="1.000" stop-color="#062743"/></linearGradient><linearGradient id="p134" gradientUnits="userSpaceOnUse" x1="0" y1="91.90" x2="0" y2="490.00"><stop offset="0.000" stop-color="#d26b6c"/><stop offset="0.145" stop-color="#c76675"/><stop offset="0.245" stop-color="#b25f7f"/><stop offset="0.315" stop-color="#94558a"/><stop offset="0.400" stop-color="#614098"/><stop offset="0.445" stop-color="#43369a"/><stop offset="0.475" stop-color="#35329b"/><stop offset="0.545" stop-color="#1e317b"/><stop offset="0.620" stop-color="#0d3063"/><stop offset="0.740" stop-color="#092b52"/><stop offset="0.850" stop-color="#072847"/><stop offset="1.000" stop-color="#062743"/></linearGradient><linearGradient id="p135" gradientUnits="userSpaceOnUse" x1="0" y1="91.90" x2="0" y2="490.00"><stop offset="0.000" stop-color="#c66675"/><stop offset="0.020" stop-color="#a65b84"/><stop offset="0.090" stop-color="#6e4694"/><stop offset="0.240" stop-color="#503a9a"/><stop offset="0.300" stop-color="#35329b"/><stop offset="0.365" stop-color="#193174"/><stop offset="0.435" stop-color="#0c2f5f"/><stop offset="0.505" stop-color="#082a4e"/><stop offset="1.000" stop-color="#062740"/></linearGradient><linearGradient id="p136" gradientUnits="userSpaceOnUse" x1="0" y1="91.90" x2="0" y2="490.00"><stop offset="0.000" stop-color="#b05e80"/><stop offset="0.010" stop-color="#a05a86"/><stop offset="0.035" stop-color="#965689"/><stop offset="0.155" stop-color="#784a91"/><stop offset="0.235" stop-color="#664296"/><stop offset="0.295" stop-color="#38339b"/><stop offset="0.345" stop-color="#243184"/><stop offset="0.410" stop-color="#0f3066"/><stop offset="0.505" stop-color="#082a4e"/><stop offset="1.000" stop-color="#062740"/></linearGradient><linearGradient id="p137" gradientUnits="userSpaceOnUse" x1="0" y1="91.90" x2="0" y2="490.00"><stop offset="0.000" stop-color="#b05e80"/><stop offset="0.010" stop-color="#a05a86"/><stop offset="0.035" stop-color="#965689"/><stop offset="0.155" stop-color="#784a91"/><stop offset="0.235" stop-color="#664296"/><stop offset="0.295" stop-color="#38339b"/><stop offset="0.345" stop-color="#243184"/><stop offset="0.410" stop-color="#0f3066"/><stop offset="0.505" stop-color="#082a4e"/><stop offset="1.000" stop-color="#062740"/></linearGradient><linearGradient id="p138" gradientUnits="userSpaceOnUse" x1="0" y1="91.90" x2="0" y2="490.00"><stop offset="0.000" stop-color="#7d4c8f"/><stop offset="0.060" stop-color="#654297"/><stop offset="0.235" stop-color="#3c349b"/><stop offset="0.245" stop-color="#35329b"/><stop offset="0.300" stop-color="#11306a"/><stop offset="0.370" stop-color="#0a2c56"/><stop offset="0.415" stop-color="#082a4d"/><stop offset="0.595" stop-color="#072847"/><stop offset="1.000" stop-color="#062740"/></linearGradient><linearGradient id="p139" gradientUnits="userSpaceOnUse" x1="0" y1="91.90" x2="0" y2="490.00"><stop offset="0.000" stop-color="#7d4c8f"/><stop offset="0.060" stop-color="#654297"/><stop offset="0.235" stop-color="#3c349b"/><stop offset="0.245" stop-color="#35329b"/><stop offset="0.300" stop-color="#11306a"/><stop offset="0.370" stop-color="#0a2c56"/><stop offset="0.415" stop-color="#082a4d"/><stop offset="0.595" stop-color="#072847"/><stop offset="1.000" stop-color="#062740"/></linearGradient><linearGradient id="p140" gradientUnits="userSpaceOnUse" x1="0" y1="91.90" x2="0" y2="490.00"><stop offset="0.000" stop-color="#b7617d"/><stop offset="0.060" stop-color="#ad5e81"/><stop offset="0.185" stop-color="#8a518c"/><stop offset="0.240" stop-color="#744892"/><stop offset="0.285" stop-color="#4c399a"/><stop offset="0.300" stop-color="#3d349b"/><stop offset="0.320" stop-color="#34329a"/><stop offset="0.405" stop-color="#103068"/><stop offset="0.505" stop-color="#082a4e"/><stop offset="1.000" stop-color="#062740"/></linearGradient><linearGradient id="p141" gradientUnits="userSpaceOnUse" x1="0" y1="91.90" x2="0" y2="490.00"><stop offset="0.000" stop-color="#f89b41"/><stop offset="0.010" stop-color="#f79243"/><stop offset="0.015" stop-color="#f2864a"/><stop offset="0.020" stop-color="#e77959"/><stop offset="0.025" stop-color="#e17161"/><stop offset="0.055" stop-color="#d26b6c"/><stop offset="0.185" stop-color="#c06479"/><stop offset="0.260" stop-color="#ae5e81"/><stop offset="0.340" stop-color="#88518d"/><stop offset="0.425" stop-color="#523b9a"/><stop offset="0.455" stop-color="#40359a"/><stop offset="0.480" stop-color="#34329a"/><stop offset="0.550" stop-color="#1d317a"/><stop offset="0.635" stop-color="#0c2f61"/><stop offset="0.805" stop-color="#08294a"/><stop offset="1.000" stop-color="#062743"/></linearGradient><linearGradient id="p142" gradientUnits="userSpaceOnUse" x1="0" y1="91.90" x2="0" y2="490.00"><stop offset="0.000" stop-color="#3d349b"/><stop offset="0.215" stop-color="#3d349b"/><stop offset="0.225" stop-color="#333298"/><stop offset="0.250" stop-color="#1a3176"/><stop offset="0.300" stop-color="#0c2f61"/><stop offset="0.355" stop-color="#082a4e"/><stop offset="0.690" stop-color="#072845"/><stop offset="1.000" stop-color="#062740"/></linearGradient><linearGradient id="p143" gradientUnits="userSpaceOnUse" x1="0" y1="91.90" x2="0" y2="490.00"><stop offset="0.000" stop-color="#d26b6c"/><stop offset="0.070" stop-color="#c96773"/><stop offset="0.125" stop-color="#b5607e"/><stop offset="0.155" stop-color="#a05a86"/><stop offset="0.195" stop-color="#774a91"/><stop offset="0.225" stop-color="#533b9a"/><stop offset="0.245" stop-color="#3d349b"/><stop offset="0.255" stop-color="#34329a"/><stop offset="0.295" stop-color="#1c3178"/><stop offset="0.335" stop-color="#0d2f62"/><stop offset="0.420" stop-color="#082a4c"/><stop offset="0.520" stop-color="#062743"/><stop offset="1.000" stop-color="#05253b"/></linearGradient><linearGradient id="p144" gradientUnits="userSpaceOnUse" x1="0" y1="91.90" x2="0" y2="490.00"><stop offset="0.000" stop-color="#f89642"/><stop offset="0.005" stop-color="#ee824f"/><stop offset="0.010" stop-color="#e3735f"/><stop offset="0.035" stop-color="#d46c6b"/><stop offset="0.075" stop-color="#ce696f"/><stop offset="0.185" stop-color="#c26478"/><stop offset="0.275" stop-color="#ac5d81"/><stop offset="0.340" stop-color="#8f538b"/><stop offset="0.445" stop-color="#503a9a"/><stop offset="0.500" stop-color="#34329a"/><stop offset="0.570" stop-color="#1e317c"/><stop offset="0.645" stop-color="#0d3064"/><stop offset="0.775" stop-color="#092b52"/><stop offset="0.880" stop-color="#072948"/><stop offset="1.000" stop-color="#062744"/></linearGradient><linearGradient id="p145" gradientUnits="userSpaceOnUse" x1="0" y1="91.90" x2="0" y2="490.00"><stop offset="0.000" stop-color="#f89542"/><stop offset="0.005" stop-color="#f58947"/><stop offset="0.010" stop-color="#e77859"/><stop offset="0.015" stop-color="#df7062"/><stop offset="0.035" stop-color="#d36b6c"/><stop offset="0.185" stop-color="#c26578"/><stop offset="0.275" stop-color="#ae5e81"/><stop offset="0.350" stop-color="#8d538b"/><stop offset="0.450" stop-color="#523b9a"/><stop offset="0.490" stop-color="#3c349b"/><stop offset="0.510" stop-color="#333299"/><stop offset="0.580" stop-color="#1e317b"/><stop offset="0.665" stop-color="#0d3062"/><stop offset="0.855" stop-color="#08294a"/><stop offset="1.000" stop-color="#072844"/></linearGradient><linearGradient id="p146" gradientUnits="userSpaceOnUse" x1="0" y1="91.90" x2="0" y2="490.00"><stop offset="0.000" stop-color="#f89941"/><stop offset="0.005" stop-color="#f79143"/><stop offset="0.010" stop-color="#ed8051"/><stop offset="0.015" stop-color="#e3745e"/><stop offset="0.045" stop-color="#d36b6b"/><stop offset="0.090" stop-color="#cd6970"/><stop offset="0.195" stop-color="#c16479"/><stop offset="0.285" stop-color="#ac5d81"/><stop offset="0.360" stop-color="#8b528c"/><stop offset="0.460" stop-color="#513a9a"/><stop offset="0.495" stop-color="#3e359b"/><stop offset="0.515" stop-color="#35329b"/><stop offset="0.610" stop-color="#193175"/><stop offset="0.685" stop-color="#0c2f61"/><stop offset="0.870" stop-color="#08294a"/><stop offset="1.000" stop-color="#072845"/></linearGradient><linearGradient id="p147" gradientUnits="userSpaceOnUse" x1="0" y1="91.90" x2="0" y2="490.00"><stop offset="0.000" stop-color="#f89a41"/><stop offset="0.005" stop-color="#f79443"/><stop offset="0.010" stop-color="#f38749"/><stop offset="0.015" stop-color="#e5765c"/><stop offset="0.025" stop-color="#da6e66"/><stop offset="0.050" stop-color="#d06a6e"/><stop offset="0.180" stop-color="#c46577"/><stop offset="0.285" stop-color="#ac5d82"/><stop offset="0.360" stop-color="#8b528c"/><stop offset="0.460" stop-color="#503a9a"/><stop offset="0.515" stop-color="#35329b"/><stop offset="0.590" stop-color="#1e317b"/><stop offset="0.675" stop-color="#0d3063"/><stop offset="0.810" stop-color="#092b51"/><stop offset="0.905" stop-color="#072948"/><stop offset="1.000" stop-color="#072845"/></linearGradient><linearGradient id="p148" gradientUnits="userSpaceOnUse" x1="0" y1="91.90" x2="0" y2="490.00"><stop offset="0.000" stop-color="#f89842"/><stop offset="0.005" stop-color="#f79443"/><stop offset="0.010" stop-color="#f68b45"/><stop offset="0.015" stop-color="#ea7c56"/><stop offset="0.020" stop-color="#e17161"/><stop offset="0.045" stop-color="#d26b6d"/><stop offset="0.185" stop-color="#c16479"/><stop offset="0.265" stop-color="#ae5e81"/><stop offset="0.330" stop-color="#91548a"/><stop offset="0.435" stop-color="#523b9a"/><stop offset="0.465" stop-color="#40359a"/><stop offset="0.490" stop-color="#35329a"/><stop offset="0.570" stop-color="#1b3178"/><stop offset="0.650" stop-color="#0c2f61"/><stop offset="0.825" stop-color="#08294a"/><stop offset="1.000" stop-color="#062743"/></linearGradient><linearGradient id="p149" gradientUnits="userSpaceOnUse" x1="0" y1="91.90" x2="0" y2="490.00"><stop offset="0.000" stop-color="#faa63e"/><stop offset="0.005" stop-color="#f79542"/><stop offset="0.010" stop-color="#f78f44"/><stop offset="0.015" stop-color="#ed8051"/><stop offset="0.020" stop-color="#db6f65"/><stop offset="0.030" stop-color="#c86774"/><stop offset="0.045" stop-color="#b6617d"/><stop offset="0.075" stop-color="#ac5d81"/><stop offset="0.110" stop-color="#a45b85"/><stop offset="0.240" stop-color="#764992"/><stop offset="0.310" stop-color="#4e399a"/><stop offset="0.350" stop-color="#34329a"/><stop offset="0.475" stop-color="#0d3063"/><stop offset="0.505" stop-color="#0b2d58"/><stop offset="1.000" stop-color="#062740"/></linearGradient><linearGradient id="p150" gradientUnits="userSpaceOnUse" x1="0" y1="91.90" x2="0" y2="490.00"><stop offset="0.000" stop-color="#faa63e"/><stop offset="0.005" stop-color="#f79443"/><stop offset="0.010" stop-color="#b7617d"/><stop offset="0.105" stop-color="#a65b84"/><stop offset="0.240" stop-color="#764992"/><stop offset="0.310" stop-color="#4e399a"/><stop offset="0.350" stop-color="#34329a"/><stop offset="0.475" stop-color="#0d3063"/><stop offset="0.505" stop-color="#0b2d58"/><stop offset="1.000" stop-color="#062740"/></linearGradient><linearGradient id="p151" gradientUnits="userSpaceOnUse" x1="0" y1="91.90" x2="0" y2="490.00"><stop offset="0.000" stop-color="#f6cf45"/><stop offset="0.010" stop-color="#f8c241"/><stop offset="0.015" stop-color="#f89842"/><stop offset="0.020" stop-color="#e87958"/><stop offset="0.025" stop-color="#d66c69"/><stop offset="0.035" stop-color="#d16b6d"/><stop offset="0.065" stop-color="#ca6872"/><stop offset="0.080" stop-color="#be637a"/><stop offset="0.105" stop-color="#955689"/><stop offset="0.130" stop-color="#834f8e"/><stop offset="0.250" stop-color="#513a9a"/><stop offset="0.330" stop-color="#343299"/><stop offset="0.405" stop-color="#193174"/><stop offset="0.475" stop-color="#0c2f5f"/><stop offset="0.520" stop-color="#0a2d57"/><stop offset="0.845" stop-color="#072845"/><stop offset="1.000" stop-color="#062740"/></linearGradient><linearGradient id="p152" gradientUnits="userSpaceOnUse" x1="0" y1="91.90" x2="0" y2="490.00"><stop offset="0.000" stop-color="#f7c843"/><stop offset="0.005" stop-color="#f8c141"/><stop offset="0.010" stop-color="#fbaf3c"/><stop offset="0.015" stop-color="#f79143"/><stop offset="0.020" stop-color="#df7062"/><stop offset="0.025" stop-color="#d26b6c"/><stop offset="0.135" stop-color="#c26478"/><stop offset="0.200" stop-color="#ad5e81"/><stop offset="0.255" stop-color="#8b528c"/><stop offset="0.325" stop-color="#513a9a"/><stop offset="0.365" stop-color="#35329b"/><stop offset="0.430" stop-color="#1a3175"/><stop offset="0.480" stop-color="#0d3062"/><stop offset="0.615" stop-color="#08294a"/><stop offset="0.875" stop-color="#062640"/><stop offset="1.000" stop-color="#05263f"/></linearGradient><linearGradient id="p153" gradientUnits="userSpaceOnUse" x1="0" y1="91.90" x2="0" y2="490.00"><stop offset="0.000" stop-color="#f7ca44"/><stop offset="0.005" stop-color="#f8c542"/><stop offset="0.010" stop-color="#fbb03d"/><stop offset="0.015" stop-color="#f1854b"/><stop offset="0.020" stop-color="#d86d68"/><stop offset="0.025" stop-color="#d16b6d"/><stop offset="0.130" stop-color="#c66676"/><stop offset="0.205" stop-color="#ab5d82"/><stop offset="0.260" stop-color="#8a518c"/><stop offset="0.330" stop-color="#503a9a"/><stop offset="0.360" stop-color="#3b349b"/><stop offset="0.370" stop-color="#35329b"/><stop offset="0.430" stop-color="#1c3178"/><stop offset="0.490" stop-color="#0c2f61"/><stop offset="0.625" stop-color="#08294a"/><stop offset="0.885" stop-color="#062640"/><stop offset="1.000" stop-color="#05263f"/></linearGradient><linearGradient id="p154" gradientUnits="userSpaceOnUse" x1="0" y1="91.90" x2="0" y2="490.00"><stop offset="0.000" stop-color="#f9bd40"/><stop offset="0.005" stop-color="#fab83f"/><stop offset="0.010" stop-color="#fbac3c"/><stop offset="0.015" stop-color="#f9a13f"/><stop offset="0.030" stop-color="#f89a41"/><stop offset="0.035" stop-color="#f79443"/><stop offset="0.040" stop-color="#ed8051"/><stop offset="0.045" stop-color="#e2735f"/><stop offset="0.065" stop-color="#d26b6c"/><stop offset="0.185" stop-color="#ba627c"/><stop offset="0.230" stop-color="#ac5d82"/><stop offset="0.300" stop-color="#85508d"/><stop offset="0.370" stop-color="#513a9a"/><stop offset="0.415" stop-color="#35329b"/><stop offset="0.485" stop-color="#1b3177"/><stop offset="0.545" stop-color="#0d3063"/><stop offset="0.635" stop-color="#0a2c53"/><stop offset="0.745" stop-color="#072847"/><stop offset="1.000" stop-color="#062640"/></linearGradient><linearGradient id="p155" gradientUnits="userSpaceOnUse" x1="0" y1="91.90" x2="0" y2="490.00"><stop offset="0.000" stop-color="#f8c241"/><stop offset="0.005" stop-color="#f9bd40"/><stop offset="0.010" stop-color="#fbb03d"/><stop offset="0.015" stop-color="#f9a13f"/><stop offset="0.035" stop-color="#f89742"/><stop offset="0.040" stop-color="#f38849"/><stop offset="0.045" stop-color="#e17161"/><stop offset="0.050" stop-color="#d86d68"/><stop offset="0.070" stop-color="#ce696f"/><stop offset="0.170" stop-color="#bc627b"/><stop offset="0.215" stop-color="#ad5e81"/><stop offset="0.275" stop-color="#8b528c"/><stop offset="0.350" stop-color="#513b9a"/><stop offset="0.395" stop-color="#34329a"/><stop offset="0.455" stop-color="#1d3179"/><stop offset="0.515" stop-color="#0d3063"/><stop offset="0.610" stop-color="#092b52"/><stop offset="0.705" stop-color="#072847"/><stop offset="0.975" stop-color="#062640"/><stop offset="1.000" stop-color="#062640"/></linearGradient><linearGradient id="p156" gradientUnits="userSpaceOnUse" x1="0" y1="91.90" x2="0" y2="490.00"><stop offset="0.000" stop-color="#f9be40"/><stop offset="0.005" stop-color="#fab83f"/><stop offset="0.010" stop-color="#fbaa3d"/><stop offset="0.015" stop-color="#f9a23f"/><stop offset="0.030" stop-color="#f89b41"/><stop offset="0.035" stop-color="#f79542"/><stop offset="0.040" stop-color="#ee8150"/><stop offset="0.045" stop-color="#e4745d"/><stop offset="0.060" stop-color="#d66c6a"/><stop offset="0.085" stop-color="#cc6970"/><stop offset="0.170" stop-color="#bd637b"/><stop offset="0.220" stop-color="#ad5e81"/><stop offset="0.280" stop-color="#8c528c"/><stop offset="0.360" stop-color="#503a9a"/><stop offset="0.380" stop-color="#42369a"/><stop offset="0.405" stop-color="#343299"/><stop offset="0.460" stop-color="#1e317c"/><stop offset="0.525" stop-color="#0d3063"/><stop offset="0.670" stop-color="#08294b"/><stop offset="0.865" stop-color="#062742"/><stop offset="1.000" stop-color="#062640"/></linearGradient><linearGradient id="p157" gradientUnits="userSpaceOnUse" x1="0" y1="91.90" x2="0" y2="490.00"><stop offset="0.000" stop-color="#f89b41"/><stop offset="0.010" stop-color="#f89742"/><stop offset="0.015" stop-color="#f78f44"/><stop offset="0.020" stop-color="#e6775a"/><stop offset="0.025" stop-color="#d46c6b"/><stop offset="0.035" stop-color="#cf6a6e"/><stop offset="0.110" stop-color="#c66675"/><stop offset="0.180" stop-color="#b25f7f"/><stop offset="0.230" stop-color="#965689"/><stop offset="0.285" stop-color="#6a4495"/><stop offset="0.320" stop-color="#4a389a"/><stop offset="0.350" stop-color="#36329b"/><stop offset="0.410" stop-color="#1b3177"/><stop offset="0.465" stop-color="#0c2f62"/><stop offset="0.545" stop-color="#092b52"/><stop offset="0.620" stop-color="#072948"/><stop offset="0.865" stop-color="#062640"/><stop offset="1.000" stop-color="#05263e"/></linearGradient><linearGradient id="p158" gradientUnits="userSpaceOnUse" x1="0" y1="91.90" x2="0" y2="490.00"><stop offset="0.000" stop-color="#f99c40"/><stop offset="0.035" stop-color="#f79243"/><stop offset="0.040" stop-color="#f48947"/><stop offset="0.045" stop-color="#e77859"/><stop offset="0.050" stop-color="#e07162"/><stop offset="0.070" stop-color="#d06a6e"/><stop offset="0.185" stop-color="#b8617d"/><stop offset="0.230" stop-color="#a65c84"/><stop offset="0.290" stop-color="#824e8e"/><stop offset="0.355" stop-color="#4f3a9a"/><stop offset="0.395" stop-color="#35329b"/><stop offset="0.460" stop-color="#1c3178"/><stop offset="0.520" stop-color="#0d3062"/><stop offset="0.670" stop-color="#08294a"/><stop offset="0.935" stop-color="#062740"/><stop offset="1.000" stop-color="#062640"/></linearGradient><linearGradient id="p159" gradientUnits="userSpaceOnUse" x1="0" y1="91.90" x2="0" y2="490.00"><stop offset="0.000" stop-color="#ee8150"/><stop offset="0.040" stop-color="#e6785a"/><stop offset="0.045" stop-color="#e07162"/><stop offset="0.050" stop-color="#d46c6b"/><stop offset="0.060" stop-color="#ce696f"/><stop offset="0.145" stop-color="#c26578"/><stop offset="0.215" stop-color="#ae5e81"/><stop offset="0.275" stop-color="#8c528c"/><stop offset="0.355" stop-color="#4f3a9a"/><stop offset="0.395" stop-color="#36329b"/><stop offset="0.455" stop-color="#1e317b"/><stop offset="0.515" stop-color="#0d3064"/><stop offset="0.615" stop-color="#092b52"/><stop offset="0.710" stop-color="#072847"/><stop offset="0.990" stop-color="#062640"/><stop offset="1.000" stop-color="#062640"/></linearGradient><linearGradient id="p160" gradientUnits="userSpaceOnUse" x1="0" y1="91.90" x2="0" y2="490.00"><stop offset="0.000" stop-color="#ef824e"/><stop offset="0.045" stop-color="#e97b57"/><stop offset="0.050" stop-color="#e5765c"/><stop offset="0.060" stop-color="#d06a6e"/><stop offset="0.160" stop-color="#c16479"/><stop offset="0.230" stop-color="#ac5e81"/><stop offset="0.275" stop-color="#955689"/><stop offset="0.350" stop-color="#634197"/><stop offset="0.390" stop-color="#45379a"/><stop offset="0.420" stop-color="#34329a"/><stop offset="0.480" stop-color="#1e317b"/><stop offset="0.545" stop-color="#0d3063"/><stop offset="0.685" stop-color="#082a4d"/><stop offset="0.825" stop-color="#072844"/><stop offset="1.000" stop-color="#062640"/></linearGradient><linearGradient id="p161" gradientUnits="userSpaceOnUse" x1="0" y1="91.90" x2="0" y2="490.00"><stop offset="0.000" stop-color="#ed8051"/><stop offset="0.045" stop-color="#e77859"/><stop offset="0.050" stop-color="#e4755d"/><stop offset="0.060" stop-color="#d16a6d"/><stop offset="0.085" stop-color="#cc6871"/><stop offset="0.165" stop-color="#be637a"/><stop offset="0.225" stop-color="#ac5d82"/><stop offset="0.285" stop-color="#8a528c"/><stop offset="0.365" stop-color="#4e3a9a"/><stop offset="0.405" stop-color="#36329b"/><stop offset="0.475" stop-color="#1b3177"/><stop offset="0.535" stop-color="#0d3062"/><stop offset="0.685" stop-color="#08294a"/><stop offset="0.965" stop-color="#062640"/><stop offset="1.000" stop-color="#062640"/></linearGradient><linearGradient id="p162" gradientUnits="userSpaceOnUse" x1="0" y1="91.90" x2="0" y2="490.00"><stop offset="0.000" stop-color="#f1854b"/><stop offset="0.050" stop-color="#eb7d54"/><stop offset="0.055" stop-color="#e6785a"/><stop offset="0.060" stop-color="#da6e66"/><stop offset="0.065" stop-color="#d06a6e"/><stop offset="0.175" stop-color="#bd637b"/><stop offset="0.235" stop-color="#a95c83"/><stop offset="0.285" stop-color="#8e538b"/><stop offset="0.365" stop-color="#543b99"/><stop offset="0.395" stop-color="#40359a"/><stop offset="0.415" stop-color="#35329a"/><stop offset="0.475" stop-color="#1e317b"/><stop offset="0.540" stop-color="#0d3063"/><stop offset="0.690" stop-color="#08294b"/><stop offset="0.920" stop-color="#062741"/><stop offset="1.000" stop-color="#062640"/></linearGradient><linearGradient id="p163" gradientUnits="userSpaceOnUse" x1="0" y1="91.90" x2="0" y2="490.00"><stop offset="0.000" stop-color="#e77959"/><stop offset="0.020" stop-color="#de7063"/><stop offset="0.040" stop-color="#d26b6c"/><stop offset="0.165" stop-color="#bf637a"/><stop offset="0.230" stop-color="#aa5d82"/><stop offset="0.290" stop-color="#88518d"/><stop offset="0.365" stop-color="#503a9a"/><stop offset="0.410" stop-color="#34329a"/><stop offset="0.470" stop-color="#1d317a"/><stop offset="0.535" stop-color="#0d3063"/><stop offset="0.635" stop-color="#092b52"/><stop offset="0.725" stop-color="#072948"/><stop offset="1.000" stop-color="#062640"/></linearGradient><linearGradient id="p164" gradientUnits="userSpaceOnUse" x1="0" y1="91.90" x2="0" y2="490.00"><stop offset="0.000" stop-color="#e6775b"/><stop offset="0.020" stop-color="#dd6f64"/><stop offset="0.045" stop-color="#d06a6d"/><stop offset="0.150" stop-color="#c26478"/><stop offset="0.225" stop-color="#ab5d82"/><stop offset="0.285" stop-color="#89518c"/><stop offset="0.360" stop-color="#503a9a"/><stop offset="0.405" stop-color="#343299"/><stop offset="0.465" stop-color="#1d317a"/><stop offset="0.525" stop-color="#0d3063"/><stop offset="0.680" stop-color="#08294a"/><stop offset="0.960" stop-color="#062640"/><stop offset="1.000" stop-color="#062640"/></linearGradient><linearGradient id="p165" gradientUnits="userSpaceOnUse" x1="0" y1="91.90" x2="0" y2="490.00"><stop offset="0.000" stop-color="#ec7e53"/><stop offset="0.020" stop-color="#e4755d"/><stop offset="0.045" stop-color="#d26b6c"/><stop offset="0.160" stop-color="#bf637a"/><stop offset="0.220" stop-color="#ac5d82"/><stop offset="0.280" stop-color="#8a518c"/><stop offset="0.355" stop-color="#513a9a"/><stop offset="0.385" stop-color="#3c349b"/><stop offset="0.400" stop-color="#343299"/><stop offset="0.460" stop-color="#1d3179"/><stop offset="0.520" stop-color="#0d3063"/><stop offset="0.625" stop-color="#092b51"/><stop offset="0.715" stop-color="#072847"/><stop offset="0.985" stop-color="#062640"/><stop offset="1.000" stop-color="#062640"/></linearGradient><linearGradient id="p166" gradientUnits="userSpaceOnUse" x1="0" y1="91.90" x2="0" y2="490.00"><stop offset="0.000" stop-color="#d26b6c"/><stop offset="0.115" stop-color="#c86774"/><stop offset="0.190" stop-color="#b7617d"/><stop offset="0.235" stop-color="#a55b84"/><stop offset="0.290" stop-color="#844f8d"/><stop offset="0.360" stop-color="#4e399a"/><stop offset="0.400" stop-color="#35329b"/><stop offset="0.465" stop-color="#1c3178"/><stop offset="0.525" stop-color="#0d3063"/><stop offset="0.620" stop-color="#092b52"/><stop offset="0.720" stop-color="#072847"/><stop offset="0.990" stop-color="#062640"/><stop offset="1.000" stop-color="#062640"/></linearGradient><linearGradient id="p167" gradientUnits="userSpaceOnUse" x1="0" y1="91.90" x2="0" y2="490.00"><stop offset="0.000" stop-color="#d26b6c"/><stop offset="0.115" stop-color="#c86774"/><stop offset="0.195" stop-color="#b6607e"/><stop offset="0.250" stop-color="#9e5987"/><stop offset="0.310" stop-color="#764992"/><stop offset="0.365" stop-color="#4a389a"/><stop offset="0.400" stop-color="#36329b"/><stop offset="0.460" stop-color="#1e317b"/><stop offset="0.525" stop-color="#0d3063"/><stop offset="0.630" stop-color="#092b51"/><stop offset="0.720" stop-color="#072847"/><stop offset="1.000" stop-color="#062640"/></linearGradient><linearGradient id="p168" gradientUnits="userSpaceOnUse" x1="0" y1="91.90" x2="0" y2="490.00"><stop offset="0.000" stop-color="#d26b6c"/><stop offset="0.120" stop-color="#c86774"/><stop offset="0.205" stop-color="#b5607e"/><stop offset="0.260" stop-color="#9d5987"/><stop offset="0.325" stop-color="#734892"/><stop offset="0.370" stop-color="#513a9a"/><stop offset="0.415" stop-color="#35329b"/><stop offset="0.475" stop-color="#1e317c"/><stop offset="0.540" stop-color="#0d3064"/><stop offset="0.635" stop-color="#0a2c53"/><stop offset="0.745" stop-color="#072847"/><stop offset="1.000" stop-color="#062640"/></linearGradient><linearGradient id="p169" gradientUnits="userSpaceOnUse" x1="0" y1="91.90" x2="0" y2="490.00"><stop offset="0.000" stop-color="#d26b6c"/><stop offset="0.120" stop-color="#c86774"/><stop offset="0.205" stop-color="#b5607e"/><stop offset="0.260" stop-color="#9d5987"/><stop offset="0.325" stop-color="#734892"/><stop offset="0.370" stop-color="#513a9a"/><stop offset="0.415" stop-color="#35329b"/><stop offset="0.485" stop-color="#1b3177"/><stop offset="0.545" stop-color="#0d3063"/><stop offset="0.635" stop-color="#0a2c53"/><stop offset="0.745" stop-color="#072847"/><stop offset="1.000" stop-color="#062640"/></linearGradient><linearGradient id="p170" gradientUnits="userSpaceOnUse" x1="0" y1="91.90" x2="0" y2="490.00"><stop offset="0.000" stop-color="#d26b6c"/><stop offset="0.145" stop-color="#c86774"/><stop offset="0.270" stop-color="#af5e80"/><stop offset="0.340" stop-color="#90548a"/><stop offset="0.445" stop-color="#523b9a"/><stop offset="0.490" stop-color="#3a349b"/><stop offset="0.505" stop-color="#333299"/><stop offset="0.585" stop-color="#1b3177"/><stop offset="0.665" stop-color="#0c2f61"/><stop offset="0.845" stop-color="#08294a"/><stop offset="1.000" stop-color="#062844"/></linearGradient><linearGradient id="p171" gradientUnits="userSpaceOnUse" x1="0" y1="91.90" x2="0" y2="490.00"><stop offset="0.000" stop-color="#d26b6c"/><stop offset="0.145" stop-color="#c86774"/><stop offset="0.265" stop-color="#b05f80"/><stop offset="0.340" stop-color="#8f538b"/><stop offset="0.445" stop-color="#503a9a"/><stop offset="0.480" stop-color="#3d349b"/><stop offset="0.500" stop-color="#34329a"/><stop offset="0.570" stop-color="#1e317b"/><stop offset="0.660" stop-color="#0c2f61"/><stop offset="0.840" stop-color="#08294a"/><stop offset="1.000" stop-color="#062744"/></linearGradient><linearGradient id="p172" gradientUnits="userSpaceOnUse" x1="0" y1="91.90" x2="0" y2="490.00"><stop offset="0.000" stop-color="#d26b6c"/><stop offset="0.145" stop-color="#c76675"/><stop offset="0.255" stop-color="#b05f80"/><stop offset="0.325" stop-color="#90548b"/><stop offset="0.430" stop-color="#4f3a9a"/><stop offset="0.475" stop-color="#37339b"/><stop offset="0.555" stop-color="#1c3179"/><stop offset="0.635" stop-color="#0c2f61"/><stop offset="0.820" stop-color="#082949"/><stop offset="1.000" stop-color="#062743"/></linearGradient><linearGradient id="p173" gradientUnits="userSpaceOnUse" x1="0" y1="91.90" x2="0" y2="490.00"><stop offset="0.000" stop-color="#d26b6c"/><stop offset="0.145" stop-color="#c76674"/><stop offset="0.250" stop-color="#b25f7f"/><stop offset="0.320" stop-color="#955589"/><stop offset="0.390" stop-color="#6c4595"/><stop offset="0.450" stop-color="#45379a"/><stop offset="0.485" stop-color="#35329b"/><stop offset="0.560" stop-color="#1d3179"/><stop offset="0.640" stop-color="#0d2f62"/><stop offset="0.755" stop-color="#092b52"/><stop offset="0.855" stop-color="#072948"/><stop offset="1.000" stop-color="#062743"/></linearGradient><linearGradient id="p174" gradientUnits="userSpaceOnUse" x1="0" y1="91.90" x2="0" y2="490.00"><stop offset="0.000" stop-color="#d26b6c"/><stop offset="0.145" stop-color="#c76675"/><stop offset="0.255" stop-color="#b05f80"/><stop offset="0.325" stop-color="#90548b"/><stop offset="0.430" stop-color="#4f3a9a"/><stop offset="0.475" stop-color="#37339b"/><stop offset="0.555" stop-color="#1c3179"/><stop offset="0.635" stop-color="#0c2f61"/><stop offset="0.820" stop-color="#082949"/><stop offset="1.000" stop-color="#062743"/></linearGradient><linearGradient id="p175" gradientUnits="userSpaceOnUse" x1="0" y1="91.90" x2="0" y2="490.00"><stop offset="0.000" stop-color="#d26b6c"/><stop offset="0.145" stop-color="#c76674"/><stop offset="0.255" stop-color="#b15f80"/><stop offset="0.320" stop-color="#955689"/><stop offset="0.425" stop-color="#563c99"/><stop offset="0.465" stop-color="#3e359b"/><stop offset="0.485" stop-color="#35329b"/><stop offset="0.555" stop-color="#1e317b"/><stop offset="0.640" stop-color="#0d2f62"/><stop offset="0.800" stop-color="#082a4c"/><stop offset="1.000" stop-color="#062743"/></linearGradient><linearGradient id="p176" gradientUnits="userSpaceOnUse" x1="0" y1="91.90" x2="0" y2="490.00"><stop offset="0.000" stop-color="#d26b6c"/><stop offset="0.140" stop-color="#c86774"/><stop offset="0.265" stop-color="#af5e80"/><stop offset="0.335" stop-color="#90548a"/><stop offset="0.430" stop-color="#583d99"/><stop offset="0.470" stop-color="#40359a"/><stop offset="0.495" stop-color="#35329a"/><stop offset="0.570" stop-color="#1d317a"/><stop offset="0.650" stop-color="#0d3062"/><stop offset="0.835" stop-color="#08294a"/><stop offset="1.000" stop-color="#062744"/></linearGradient><linearGradient id="p177" gradientUnits="userSpaceOnUse" x1="0" y1="91.90" x2="0" y2="490.00"><stop offset="0.000" stop-color="#d26b6c"/><stop offset="0.115" stop-color="#c86774"/><stop offset="0.190" stop-color="#b7617d"/><stop offset="0.240" stop-color="#a35a85"/><stop offset="0.300" stop-color="#7d4d8f"/><stop offset="0.360" stop-color="#4f3a9a"/><stop offset="0.400" stop-color="#36329b"/><stop offset="0.460" stop-color="#1e317b"/><stop offset="0.525" stop-color="#0d3063"/><stop offset="0.630" stop-color="#092b51"/><stop offset="0.720" stop-color="#072847"/><stop offset="1.000" stop-color="#062640"/></linearGradient><linearGradient id="p178" gradientUnits="userSpaceOnUse" x1="0" y1="91.90" x2="0" y2="490.00"><stop offset="0.000" stop-color="#d26b6c"/><stop offset="0.120" stop-color="#c86774"/><stop offset="0.210" stop-color="#b5607e"/><stop offset="0.270" stop-color="#9b5888"/><stop offset="0.335" stop-color="#714793"/><stop offset="0.385" stop-color="#4c399a"/><stop offset="0.425" stop-color="#35329b"/><stop offset="0.485" stop-color="#1f317c"/><stop offset="0.555" stop-color="#0d3063"/><stop offset="0.695" stop-color="#082a4d"/><stop offset="0.840" stop-color="#072844"/><stop offset="1.000" stop-color="#062740"/></linearGradient><linearGradient id="p179" gradientUnits="userSpaceOnUse" x1="0" y1="91.90" x2="0" y2="490.00"><stop offset="0.000" stop-color="#d26b6c"/><stop offset="0.070" stop-color="#c96773"/><stop offset="0.120" stop-color="#b7617d"/><stop offset="0.150" stop-color="#a55b84"/><stop offset="0.195" stop-color="#784a91"/><stop offset="0.230" stop-color="#4d399a"/><stop offset="0.255" stop-color="#35329b"/><stop offset="0.295" stop-color="#1c3179"/><stop offset="0.335" stop-color="#0d3062"/><stop offset="0.430" stop-color="#08294a"/><stop offset="0.610" stop-color="#062640"/><stop offset="1.000" stop-color="#05253b"/></linearGradient><linearGradient id="p180" gradientUnits="userSpaceOnUse" x1="0" y1="91.90" x2="0" y2="490.00"><stop offset="0.000" stop-color="#f48848"/><stop offset="0.005" stop-color="#e5755c"/><stop offset="0.010" stop-color="#d36b6b"/><stop offset="0.130" stop-color="#c46577"/><stop offset="0.200" stop-color="#b05f80"/><stop offset="0.265" stop-color="#89518c"/><stop offset="0.335" stop-color="#503a9a"/><stop offset="0.365" stop-color="#3b349b"/><stop offset="0.375" stop-color="#35329b"/><stop offset="0.430" stop-color="#1e317b"/><stop offset="0.490" stop-color="#0d3063"/><stop offset="0.630" stop-color="#08294a"/><stop offset="0.900" stop-color="#062640"/><stop offset="1.000" stop-color="#05263f"/></linearGradient><linearGradient id="p181" gradientUnits="userSpaceOnUse" x1="0" y1="91.90" x2="0" y2="490.00"><stop offset="0.000" stop-color="#f58a47"/><stop offset="0.005" stop-color="#e3745e"/><stop offset="0.010" stop-color="#d36b6c"/><stop offset="0.115" stop-color="#c46577"/><stop offset="0.175" stop-color="#b05f80"/><stop offset="0.220" stop-color="#93558a"/><stop offset="0.285" stop-color="#5a3d99"/><stop offset="0.305" stop-color="#46379a"/><stop offset="0.330" stop-color="#35329b"/><stop offset="0.380" stop-color="#1d317a"/><stop offset="0.430" stop-color="#0d3063"/><stop offset="0.555" stop-color="#08294a"/><stop offset="0.785" stop-color="#062640"/><stop offset="1.000" stop-color="#05263e"/></linearGradient><linearGradient id="p182" gradientUnits="userSpaceOnUse" x1="0" y1="91.90" x2="0" y2="490.00"><stop offset="0.000" stop-color="#f38749"/><stop offset="0.005" stop-color="#e17161"/><stop offset="0.010" stop-color="#d26b6c"/><stop offset="0.115" stop-color="#c46577"/><stop offset="0.175" stop-color="#af5e80"/><stop offset="0.225" stop-color="#8e538b"/><stop offset="0.290" stop-color="#523b9a"/><stop offset="0.325" stop-color="#36329b"/><stop offset="0.385" stop-color="#1a3176"/><stop offset="0.430" stop-color="#0d3062"/><stop offset="0.560" stop-color="#082949"/><stop offset="0.800" stop-color="#062640"/><stop offset="1.000" stop-color="#05263e"/></linearGradient><linearGradient id="p183" gradientUnits="userSpaceOnUse" x1="0" y1="91.90" x2="0" y2="490.00"><stop offset="0.000" stop-color="#f7ca44"/><stop offset="0.005" stop-color="#faa83d"/><stop offset="0.010" stop-color="#db6f65"/><stop offset="0.015" stop-color="#d16b6d"/><stop offset="0.095" stop-color="#c86774"/><stop offset="0.160" stop-color="#b6617d"/><stop offset="0.190" stop-color="#a85c83"/><stop offset="0.240" stop-color="#85508d"/><stop offset="0.295" stop-color="#533b9a"/><stop offset="0.315" stop-color="#41369a"/><stop offset="0.335" stop-color="#343299"/><stop offset="0.385" stop-color="#1c3179"/><stop offset="0.435" stop-color="#0d3063"/><stop offset="0.560" stop-color="#08294a"/><stop offset="0.795" stop-color="#062640"/><stop offset="1.000" stop-color="#05263e"/></linearGradient><linearGradient id="p184" gradientUnits="userSpaceOnUse" x1="0" y1="91.90" x2="0" y2="490.00"><stop offset="0.000" stop-color="#f6d145"/><stop offset="0.005" stop-color="#fbab3d"/><stop offset="0.010" stop-color="#de7063"/><stop offset="0.015" stop-color="#d26b6c"/><stop offset="0.130" stop-color="#c46577"/><stop offset="0.200" stop-color="#ae5e81"/><stop offset="0.260" stop-color="#8a518c"/><stop offset="0.330" stop-color="#513a9a"/><stop offset="0.350" stop-color="#41369a"/><stop offset="0.370" stop-color="#35329b"/><stop offset="0.430" stop-color="#1c3178"/><stop offset="0.490" stop-color="#0c2f61"/><stop offset="0.625" stop-color="#08294a"/><stop offset="0.885" stop-color="#062640"/><stop offset="1.000" stop-color="#05263f"/></linearGradient><linearGradient id="p185" gradientUnits="userSpaceOnUse" x1="0" y1="91.90" x2="0" y2="490.00"><stop offset="0.000" stop-color="#f7c843"/><stop offset="0.005" stop-color="#fbae3c"/><stop offset="0.010" stop-color="#ee814f"/><stop offset="0.015" stop-color="#d46c6b"/><stop offset="0.040" stop-color="#cf6a6e"/><stop offset="0.130" stop-color="#c56576"/><stop offset="0.210" stop-color="#ad5e81"/><stop offset="0.275" stop-color="#86508d"/><stop offset="0.345" stop-color="#4e399a"/><stop offset="0.385" stop-color="#343299"/><stop offset="0.450" stop-color="#1a3176"/><stop offset="0.510" stop-color="#0c2f61"/><stop offset="0.645" stop-color="#08294a"/><stop offset="0.915" stop-color="#062640"/><stop offset="1.000" stop-color="#06263f"/></linearGradient><linearGradient id="p186" gradientUnits="userSpaceOnUse" x1="0" y1="91.90" x2="0" y2="490.00"><stop offset="0.000" stop-color="#f6d145"/><stop offset="0.005" stop-color="#fab33e"/><stop offset="0.010" stop-color="#f89642"/><stop offset="0.015" stop-color="#dc6f65"/><stop offset="0.020" stop-color="#d16b6d"/><stop offset="0.115" stop-color="#c66675"/><stop offset="0.195" stop-color="#ae5e81"/><stop offset="0.255" stop-color="#89518c"/><stop offset="0.320" stop-color="#523b9a"/><stop offset="0.355" stop-color="#38339b"/><stop offset="0.365" stop-color="#323297"/><stop offset="0.430" stop-color="#183173"/><stop offset="0.480" stop-color="#0c2f61"/><stop offset="0.600" stop-color="#08294b"/><stop offset="0.800" stop-color="#062741"/><stop offset="1.000" stop-color="#05263f"/></linearGradient><linearGradient id="p187" gradientUnits="userSpaceOnUse" x1="0" y1="91.90" x2="0" y2="490.00"><stop offset="0.000" stop-color="#f6d246"/><stop offset="0.005" stop-color="#fab53e"/><stop offset="0.010" stop-color="#f99e40"/><stop offset="0.015" stop-color="#e5765c"/><stop offset="0.020" stop-color="#d26b6c"/><stop offset="0.120" stop-color="#c66675"/><stop offset="0.200" stop-color="#b15f80"/><stop offset="0.260" stop-color="#8f538b"/><stop offset="0.335" stop-color="#553b99"/><stop offset="0.360" stop-color="#41369a"/><stop offset="0.380" stop-color="#35329b"/><stop offset="0.440" stop-color="#1d3179"/><stop offset="0.500" stop-color="#0d3062"/><stop offset="0.640" stop-color="#08294a"/><stop offset="0.910" stop-color="#062640"/><stop offset="1.000" stop-color="#06263f"/></linearGradient><linearGradient id="p188" gradientUnits="userSpaceOnUse" x1="0" y1="91.90" x2="0" y2="490.00"><stop offset="0.000" stop-color="#f7cc44"/><stop offset="0.005" stop-color="#fab23d"/><stop offset="0.015" stop-color="#f79044"/><stop offset="0.020" stop-color="#d96e67"/><stop offset="0.025" stop-color="#d16a6d"/><stop offset="0.125" stop-color="#c46577"/><stop offset="0.190" stop-color="#af5e80"/><stop offset="0.245" stop-color="#8d538b"/><stop offset="0.315" stop-color="#523b9a"/><stop offset="0.335" stop-color="#42369a"/><stop offset="0.355" stop-color="#35329b"/><stop offset="0.415" stop-color="#1b3177"/><stop offset="0.470" stop-color="#0c2f62"/><stop offset="0.600" stop-color="#08294a"/><stop offset="0.850" stop-color="#062640"/><stop offset="1.000" stop-color="#05263f"/></linearGradient><linearGradient id="p189" gradientUnits="userSpaceOnUse" x1="0" y1="91.90" x2="0" y2="490.00"><stop offset="0.000" stop-color="#f7cb44"/><stop offset="0.005" stop-color="#fab43e"/><stop offset="0.010" stop-color="#f89a41"/><stop offset="0.015" stop-color="#e97b56"/><stop offset="0.020" stop-color="#d36b6c"/><stop offset="0.175" stop-color="#c36578"/><stop offset="0.265" stop-color="#ad5e81"/><stop offset="0.330" stop-color="#90548b"/><stop offset="0.435" stop-color="#4f3a9a"/><stop offset="0.485" stop-color="#35329b"/><stop offset="0.560" stop-color="#1d317a"/><stop offset="0.640" stop-color="#0d2f62"/><stop offset="0.820" stop-color="#08294a"/><stop offset="1.000" stop-color="#062743"/></linearGradient><linearGradient id="p190" gradientUnits="userSpaceOnUse" x1="0" y1="91.90" x2="0" y2="490.00"><stop offset="0.000" stop-color="#f8c342"/><stop offset="0.010" stop-color="#fbab3c"/><stop offset="0.015" stop-color="#f9a33f"/><stop offset="0.020" stop-color="#f2864b"/><stop offset="0.025" stop-color="#d46c6a"/><stop offset="0.045" stop-color="#d06a6e"/><stop offset="0.165" stop-color="#c56676"/><stop offset="0.260" stop-color="#b05f80"/><stop offset="0.330" stop-color="#92548a"/><stop offset="0.435" stop-color="#533b9a"/><stop offset="0.465" stop-color="#41369a"/><stop offset="0.495" stop-color="#333299"/><stop offset="0.565" stop-color="#1d317b"/><stop offset="0.645" stop-color="#0d3063"/><stop offset="0.755" stop-color="#0a2b53"/><stop offset="0.865" stop-color="#072948"/><stop offset="1.000" stop-color="#062743"/></linearGradient><linearGradient id="p191" gradientUnits="userSpaceOnUse" x1="0" y1="91.90" x2="0" y2="490.00"><stop offset="0.000" stop-color="#f8c643"/><stop offset="0.005" stop-color="#fab43e"/><stop offset="0.010" stop-color="#f9a23f"/><stop offset="0.015" stop-color="#f89a41"/><stop offset="0.020" stop-color="#ea7c55"/><stop offset="0.025" stop-color="#d36b6c"/><stop offset="0.170" stop-color="#c36577"/><stop offset="0.255" stop-color="#af5e80"/><stop offset="0.315" stop-color="#955589"/><stop offset="0.415" stop-color="#583d99"/><stop offset="0.460" stop-color="#3d349b"/><stop offset="0.480" stop-color="#333299"/><stop offset="0.555" stop-color="#1c3178"/><stop offset="0.630" stop-color="#0d2f62"/><stop offset="0.780" stop-color="#082a4d"/><stop offset="0.945" stop-color="#072844"/><stop offset="1.000" stop-color="#062743"/></linearGradient><linearGradient id="p192" gradientUnits="userSpaceOnUse" x1="0" y1="91.90" x2="0" y2="490.00"><stop offset="0.000" stop-color="#f9bd40"/><stop offset="0.010" stop-color="#faa93d"/><stop offset="0.020" stop-color="#f9a03f"/><stop offset="0.025" stop-color="#f1854c"/><stop offset="0.030" stop-color="#d46c6b"/><stop offset="0.040" stop-color="#d06a6e"/><stop offset="0.150" stop-color="#c66675"/><stop offset="0.250" stop-color="#af5e80"/><stop offset="0.315" stop-color="#91548a"/><stop offset="0.410" stop-color="#553c99"/><stop offset="0.450" stop-color="#3d349b"/><stop offset="0.470" stop-color="#333299"/><stop offset="0.540" stop-color="#1c3179"/><stop offset="0.620" stop-color="#0c2f61"/><stop offset="0.800" stop-color="#082949"/><stop offset="1.000" stop-color="#062742"/></linearGradient><linearGradient id="p193" gradientUnits="userSpaceOnUse" x1="0" y1="91.90" x2="0" y2="490.00"><stop offset="0.000" stop-color="#f9bd40"/><stop offset="0.010" stop-color="#faa63e"/><stop offset="0.020" stop-color="#f89b41"/><stop offset="0.025" stop-color="#e97b56"/><stop offset="0.030" stop-color="#d26b6c"/><stop offset="0.140" stop-color="#c26578"/><stop offset="0.210" stop-color="#ad5e81"/><stop offset="0.280" stop-color="#834f8e"/><stop offset="0.345" stop-color="#4e3a9a"/><stop offset="0.385" stop-color="#34329a"/><stop offset="0.445" stop-color="#1c3179"/><stop offset="0.505" stop-color="#0d3062"/><stop offset="0.645" stop-color="#08294a"/><stop offset="0.920" stop-color="#062640"/><stop offset="1.000" stop-color="#06263f"/></linearGradient><linearGradient id="p194" gradientUnits="userSpaceOnUse" x1="0" y1="91.90" x2="0" y2="490.00"><stop offset="0.000" stop-color="#faaa3d"/><stop offset="0.020" stop-color="#f99f40"/><stop offset="0.025" stop-color="#f89941"/><stop offset="0.030" stop-color="#e5765b"/><stop offset="0.035" stop-color="#d16a6d"/><stop offset="0.135" stop-color="#c36578"/><stop offset="0.200" stop-color="#af5e80"/><stop offset="0.265" stop-color="#88518d"/><stop offset="0.335" stop-color="#4e3a9a"/><stop offset="0.375" stop-color="#343299"/><stop offset="0.440" stop-color="#1a3175"/><stop offset="0.490" stop-color="#0d3062"/><stop offset="0.630" stop-color="#08294a"/><stop offset="0.890" stop-color="#062640"/><stop offset="1.000" stop-color="#05263f"/></linearGradient><linearGradient id="p195" gradientUnits="userSpaceOnUse" x1="0" y1="91.90" x2="0" y2="490.00"><stop offset="0.000" stop-color="#f9a03f"/><stop offset="0.025" stop-color="#f79343"/><stop offset="0.030" stop-color="#ec7e53"/><stop offset="0.035" stop-color="#d36b6b"/><stop offset="0.050" stop-color="#cf6a6e"/><stop offset="0.160" stop-color="#c66676"/><stop offset="0.265" stop-color="#af5e80"/><stop offset="0.335" stop-color="#90548a"/><stop offset="0.430" stop-color="#583c99"/><stop offset="0.470" stop-color="#40359a"/><stop offset="0.495" stop-color="#34329a"/><stop offset="0.575" stop-color="#1c3178"/><stop offset="0.655" stop-color="#0c2f61"/><stop offset="0.845" stop-color="#082949"/><stop offset="1.000" stop-color="#062744"/></linearGradient><linearGradient id="p196" gradientUnits="userSpaceOnUse" x1="0" y1="91.90" x2="0" y2="490.00"><stop offset="0.000" stop-color="#f9a33f"/><stop offset="0.030" stop-color="#f89742"/><stop offset="0.035" stop-color="#f79044"/><stop offset="0.040" stop-color="#e07162"/><stop offset="0.045" stop-color="#d16a6d"/><stop offset="0.185" stop-color="#c36578"/><stop offset="0.275" stop-color="#af5e80"/><stop offset="0.345" stop-color="#92548a"/><stop offset="0.430" stop-color="#634197"/><stop offset="0.485" stop-color="#42369a"/><stop offset="0.515" stop-color="#35329b"/><stop offset="0.585" stop-color="#1f317d"/><stop offset="0.670" stop-color="#0d3063"/><stop offset="0.865" stop-color="#08294a"/><stop offset="1.000" stop-color="#072845"/></linearGradient><linearGradient id="p197" gradientUnits="userSpaceOnUse" x1="0" y1="91.90" x2="0" y2="490.00"><stop offset="0.000" stop-color="#f79243"/><stop offset="0.040" stop-color="#f48848"/><stop offset="0.045" stop-color="#eb7d54"/><stop offset="0.050" stop-color="#d36b6b"/><stop offset="0.060" stop-color="#cf6a6f"/><stop offset="0.175" stop-color="#c56576"/><stop offset="0.280" stop-color="#ae5e81"/><stop offset="0.345" stop-color="#93558a"/><stop offset="0.450" stop-color="#583c99"/><stop offset="0.485" stop-color="#43369a"/><stop offset="0.520" stop-color="#333299"/><stop offset="0.615" stop-color="#183173"/><stop offset="0.685" stop-color="#0c2f61"/><stop offset="0.885" stop-color="#082949"/><stop offset="1.000" stop-color="#072845"/></linearGradient><linearGradient id="p198" gradientUnits="userSpaceOnUse" x1="0" y1="91.90" x2="0" y2="490.00"><stop offset="0.000" stop-color="#f68d44"/><stop offset="0.040" stop-color="#f1854b"/><stop offset="0.045" stop-color="#ed7f52"/><stop offset="0.050" stop-color="#d66c69"/><stop offset="0.055" stop-color="#cf6a6e"/><stop offset="0.170" stop-color="#c56576"/><stop offset="0.270" stop-color="#ae5e81"/><stop offset="0.345" stop-color="#8d538b"/><stop offset="0.445" stop-color="#513a9a"/><stop offset="0.490" stop-color="#39339b"/><stop offset="0.505" stop-color="#333298"/><stop offset="0.575" stop-color="#1d317a"/><stop offset="0.660" stop-color="#0d2f62"/><stop offset="0.840" stop-color="#08294a"/><stop offset="1.000" stop-color="#062844"/></linearGradient><linearGradient id="p199" gradientUnits="userSpaceOnUse" x1="0" y1="91.90" x2="0" y2="490.00"><stop offset="0.000" stop-color="#f78f44"/><stop offset="0.045" stop-color="#f2864a"/><stop offset="0.050" stop-color="#e97b56"/><stop offset="0.055" stop-color="#d26b6c"/><stop offset="0.070" stop-color="#ce696f"/><stop offset="0.180" stop-color="#c36578"/><stop offset="0.270" stop-color="#ae5e81"/><stop offset="0.340" stop-color="#8f538b"/><stop offset="0.445" stop-color="#503a9a"/><stop offset="0.500" stop-color="#34329a"/><stop offset="0.570" stop-color="#1e317c"/><stop offset="0.645" stop-color="#0d3064"/><stop offset="0.775" stop-color="#092b52"/><stop offset="0.880" stop-color="#072948"/><stop offset="1.000" stop-color="#062744"/></linearGradient><linearGradient id="p200" gradientUnits="userSpaceOnUse" x1="0" y1="91.90" x2="0" y2="490.00"><stop offset="0.000" stop-color="#f79443"/><stop offset="0.050" stop-color="#f48848"/><stop offset="0.055" stop-color="#e4745d"/><stop offset="0.060" stop-color="#d06a6e"/><stop offset="0.190" stop-color="#c16479"/><stop offset="0.275" stop-color="#ac5d82"/><stop offset="0.355" stop-color="#87508d"/><stop offset="0.445" stop-color="#4f3a9a"/><stop offset="0.500" stop-color="#333299"/><stop offset="0.580" stop-color="#1b3177"/><stop offset="0.660" stop-color="#0c2f61"/><stop offset="0.835" stop-color="#08294a"/><stop offset="1.000" stop-color="#062744"/></linearGradient><linearGradient id="p201" gradientUnits="userSpaceOnUse" x1="0" y1="91.90" x2="0" y2="490.00"><stop offset="0.000" stop-color="#ee8150"/><stop offset="0.050" stop-color="#e77859"/><stop offset="0.060" stop-color="#d06a6e"/><stop offset="0.185" stop-color="#c26478"/><stop offset="0.275" stop-color="#ad5e81"/><stop offset="0.335" stop-color="#94558a"/><stop offset="0.425" stop-color="#614098"/><stop offset="0.480" stop-color="#40359a"/><stop offset="0.505" stop-color="#35329b"/><stop offset="0.585" stop-color="#1c3179"/><stop offset="0.670" stop-color="#0c2f61"/><stop offset="0.850" stop-color="#08294a"/><stop offset="1.000" stop-color="#072844"/></linearGradient><linearGradient id="p202" gradientUnits="userSpaceOnUse" x1="0" y1="91.90" x2="0" y2="490.00"><stop offset="0.000" stop-color="#ea7c55"/><stop offset="0.060" stop-color="#e3735f"/><stop offset="0.070" stop-color="#cf6a6f"/><stop offset="0.190" stop-color="#c0647a"/><stop offset="0.265" stop-color="#ac5e81"/><stop offset="0.330" stop-color="#8f538b"/><stop offset="0.430" stop-color="#513a9a"/><stop offset="0.475" stop-color="#38339b"/><stop offset="0.560" stop-color="#1c3179"/><stop offset="0.640" stop-color="#0c2f61"/><stop offset="0.825" stop-color="#082949"/><stop offset="1.000" stop-color="#062743"/></linearGradient><linearGradient id="p203" gradientUnits="userSpaceOnUse" x1="0" y1="91.90" x2="0" y2="490.00"><stop offset="0.000" stop-color="#ee8150"/><stop offset="0.065" stop-color="#e77859"/><stop offset="0.075" stop-color="#cf696f"/><stop offset="0.190" stop-color="#c0647a"/><stop offset="0.265" stop-color="#ac5e81"/><stop offset="0.325" stop-color="#91548a"/><stop offset="0.420" stop-color="#583c99"/><stop offset="0.465" stop-color="#3d349b"/><stop offset="0.485" stop-color="#343299"/><stop offset="0.565" stop-color="#1b3177"/><stop offset="0.640" stop-color="#0c2f61"/><stop offset="0.825" stop-color="#082949"/><stop offset="1.000" stop-color="#062743"/></linearGradient><linearGradient id="p204" gradientUnits="userSpaceOnUse" x1="0" y1="91.90" x2="0" y2="490.00"><stop offset="0.000" stop-color="#ed8050"/><stop offset="0.060" stop-color="#e77958"/><stop offset="0.065" stop-color="#e6775b"/><stop offset="0.070" stop-color="#d76d69"/><stop offset="0.075" stop-color="#ce696f"/><stop offset="0.180" stop-color="#c26578"/><stop offset="0.270" stop-color="#ad5e81"/><stop offset="0.350" stop-color="#88518d"/><stop offset="0.440" stop-color="#503a9a"/><stop offset="0.485" stop-color="#38339b"/><stop offset="0.560" stop-color="#1f317d"/><stop offset="0.635" stop-color="#0e3065"/><stop offset="0.755" stop-color="#0a2c53"/><stop offset="0.880" stop-color="#072847"/><stop offset="1.000" stop-color="#062744"/></linearGradient><linearGradient id="p205" gradientUnits="userSpaceOnUse" x1="0" y1="91.90" x2="0" y2="490.00"><stop offset="0.000" stop-color="#d26b6c"/><stop offset="0.150" stop-color="#c86774"/><stop offset="0.275" stop-color="#af5e80"/><stop offset="0.345" stop-color="#92548a"/><stop offset="0.430" stop-color="#634197"/><stop offset="0.485" stop-color="#42369a"/><stop offset="0.515" stop-color="#35329b"/><stop offset="0.585" stop-color="#1f317d"/><stop offset="0.670" stop-color="#0d3063"/><stop offset="0.865" stop-color="#08294a"/><stop offset="1.000" stop-color="#072845"/></linearGradient><linearGradient id="p206" gradientUnits="userSpaceOnUse" x1="0" y1="91.90" x2="0" y2="490.00"><stop offset="0.000" stop-color="#d26b6c"/><stop offset="0.155" stop-color="#c76675"/><stop offset="0.275" stop-color="#ae5e81"/><stop offset="0.350" stop-color="#8d538b"/><stop offset="0.450" stop-color="#523b9a"/><stop offset="0.495" stop-color="#3a349b"/><stop offset="0.510" stop-color="#343299"/><stop offset="0.610" stop-color="#163071"/><stop offset="0.665" stop-color="#0d3063"/><stop offset="0.785" stop-color="#092b52"/><stop offset="0.910" stop-color="#072847"/><stop offset="1.000" stop-color="#072844"/></linearGradient><linearGradient id="p207" gradientUnits="userSpaceOnUse" x1="0" y1="91.90" x2="0" y2="490.00"><stop offset="0.000" stop-color="#d26b6c"/><stop offset="0.145" stop-color="#c76675"/><stop offset="0.250" stop-color="#b15f80"/><stop offset="0.315" stop-color="#955589"/><stop offset="0.415" stop-color="#583d99"/><stop offset="0.460" stop-color="#3d349b"/><stop offset="0.480" stop-color="#343299"/><stop offset="0.555" stop-color="#1c3178"/><stop offset="0.630" stop-color="#0d2f62"/><stop offset="0.780" stop-color="#082a4d"/><stop offset="0.945" stop-color="#072844"/><stop offset="1.000" stop-color="#062743"/></linearGradient><linearGradient id="p208" gradientUnits="userSpaceOnUse" x1="0" y1="91.90" x2="0" y2="490.00"><stop offset="0.000" stop-color="#e6775a"/><stop offset="0.030" stop-color="#dc6f65"/><stop offset="0.060" stop-color="#d06a6e"/><stop offset="0.190" stop-color="#c06479"/><stop offset="0.265" stop-color="#ad5e81"/><stop offset="0.330" stop-color="#90548b"/><stop offset="0.425" stop-color="#573c99"/><stop offset="0.465" stop-color="#3f359a"/><stop offset="0.490" stop-color="#333299"/><stop offset="0.565" stop-color="#1c3178"/><stop offset="0.645" stop-color="#0c2f61"/><stop offset="0.820" stop-color="#08294a"/><stop offset="1.000" stop-color="#062743"/></linearGradient><linearGradient id="p209" gradientUnits="userSpaceOnUse" x1="0" y1="91.90" x2="0" y2="490.00"><stop offset="0.000" stop-color="#e87958"/><stop offset="0.035" stop-color="#dd6f64"/><stop offset="0.070" stop-color="#cf6a6e"/><stop offset="0.195" stop-color="#c06479"/><stop offset="0.275" stop-color="#ac5e81"/><stop offset="0.350" stop-color="#8b528c"/><stop offset="0.445" stop-color="#513b9a"/><stop offset="0.480" stop-color="#3e359b"/><stop offset="0.500" stop-color="#35329b"/><stop offset="0.570" stop-color="#1f317c"/><stop offset="0.660" stop-color="#0d2f62"/><stop offset="0.840" stop-color="#08294a"/><stop offset="1.000" stop-color="#062844"/></linearGradient><linearGradient id="p210" gradientUnits="userSpaceOnUse" x1="0" y1="91.90" x2="0" y2="490.00"><stop offset="0.000" stop-color="#e97b56"/><stop offset="0.035" stop-color="#de7064"/><stop offset="0.065" stop-color="#d06a6e"/><stop offset="0.185" stop-color="#c06479"/><stop offset="0.265" stop-color="#ac5d81"/><stop offset="0.325" stop-color="#91548a"/><stop offset="0.420" stop-color="#573c99"/><stop offset="0.460" stop-color="#3f359b"/><stop offset="0.480" stop-color="#35329b"/><stop offset="0.545" stop-color="#1f317d"/><stop offset="0.635" stop-color="#0d2f62"/><stop offset="0.800" stop-color="#08294b"/><stop offset="1.000" stop-color="#062743"/></linearGradient><linearGradient id="p211" gradientUnits="userSpaceOnUse" x1="0" y1="91.90" x2="0" y2="490.00"><stop offset="0.000" stop-color="#e6775b"/><stop offset="0.030" stop-color="#de7064"/><stop offset="0.065" stop-color="#d06a6e"/><stop offset="0.185" stop-color="#c06479"/><stop offset="0.265" stop-color="#ac5d81"/><stop offset="0.335" stop-color="#8b528c"/><stop offset="0.430" stop-color="#4f3a9a"/><stop offset="0.475" stop-color="#37339b"/><stop offset="0.495" stop-color="#2f3293"/><stop offset="0.585" stop-color="#15306f"/><stop offset="0.630" stop-color="#0d3062"/><stop offset="0.810" stop-color="#08294a"/><stop offset="1.000" stop-color="#062743"/></linearGradient><linearGradient id="p212" gradientUnits="userSpaceOnUse" x1="0" y1="91.90" x2="0" y2="490.00"><stop offset="0.000" stop-color="#d26b6c"/><stop offset="0.120" stop-color="#c86774"/><stop offset="0.210" stop-color="#b4607e"/><stop offset="0.270" stop-color="#995788"/><stop offset="0.350" stop-color="#634197"/><stop offset="0.395" stop-color="#42369a"/><stop offset="0.420" stop-color="#35329a"/><stop offset="0.490" stop-color="#1b3177"/><stop offset="0.550" stop-color="#0d3063"/><stop offset="0.650" stop-color="#092b52"/><stop offset="0.750" stop-color="#072847"/><stop offset="1.000" stop-color="#062640"/></linearGradient><linearGradient id="p213" gradientUnits="userSpaceOnUse" x1="0" y1="91.90" x2="0" y2="490.00"><stop offset="0.000" stop-color="#d26b6c"/><stop offset="0.115" stop-color="#c86774"/><stop offset="0.195" stop-color="#b6607e"/><stop offset="0.250" stop-color="#9e5987"/><stop offset="0.310" stop-color="#764991"/><stop offset="0.360" stop-color="#4f3a9a"/><stop offset="0.400" stop-color="#36329b"/><stop offset="0.470" stop-color="#1b3177"/><stop offset="0.525" stop-color="#0d3063"/><stop offset="0.630" stop-color="#092b51"/><stop offset="0.720" stop-color="#072847"/><stop offset="1.000" stop-color="#062640"/></linearGradient><linearGradient id="p214" gradientUnits="userSpaceOnUse" x1="0" y1="91.90" x2="0" y2="490.00"><stop offset="0.000" stop-color="#d26b6c"/><stop offset="0.120" stop-color="#c76675"/><stop offset="0.205" stop-color="#b25f7f"/><stop offset="0.260" stop-color="#965689"/><stop offset="0.320" stop-color="#6c4594"/><stop offset="0.360" stop-color="#4c399a"/><stop offset="0.400" stop-color="#343299"/><stop offset="0.460" stop-color="#1d3179"/><stop offset="0.520" stop-color="#0d3063"/><stop offset="0.625" stop-color="#092b51"/><stop offset="0.715" stop-color="#072847"/><stop offset="0.985" stop-color="#062640"/><stop offset="1.000" stop-color="#062640"/></linearGradient><linearGradient id="p215" gradientUnits="userSpaceOnUse" x1="0" y1="91.90" x2="0" y2="490.00"><stop offset="0.000" stop-color="#d26b6c"/><stop offset="0.120" stop-color="#c86774"/><stop offset="0.205" stop-color="#b6617d"/><stop offset="0.260" stop-color="#a05a86"/><stop offset="0.325" stop-color="#784a91"/><stop offset="0.385" stop-color="#4b399a"/><stop offset="0.425" stop-color="#35329b"/><stop offset="0.480" stop-color="#20317e"/><stop offset="0.550" stop-color="#0d3064"/><stop offset="0.660" stop-color="#092b52"/><stop offset="0.760" stop-color="#072847"/><stop offset="1.000" stop-color="#062740"/></linearGradient><linearGradient id="p216" gradientUnits="userSpaceOnUse" x1="0" y1="91.90" x2="0" y2="490.00"><stop offset="0.000" stop-color="#faa53e"/><stop offset="0.005" stop-color="#f79443"/><stop offset="0.010" stop-color="#eb7d54"/><stop offset="0.015" stop-color="#e17161"/><stop offset="0.045" stop-color="#d26b6c"/><stop offset="0.170" stop-color="#c0647a"/><stop offset="0.240" stop-color="#ab5d82"/><stop offset="0.290" stop-color="#92558a"/><stop offset="0.370" stop-color="#5d3e99"/><stop offset="0.400" stop-color="#46379a"/><stop offset="0.435" stop-color="#343299"/><stop offset="0.515" stop-color="#183173"/><stop offset="0.575" stop-color="#0c2f61"/><stop offset="0.740" stop-color="#082949"/><stop offset="1.000" stop-color="#062740"/></linearGradient><linearGradient id="p217" gradientUnits="userSpaceOnUse" x1="0" y1="91.90" x2="0" y2="490.00"><stop offset="0.000" stop-color="#f9a13f"/><stop offset="0.005" stop-color="#f79243"/><stop offset="0.010" stop-color="#ec7f52"/><stop offset="0.015" stop-color="#e4755c"/><stop offset="0.045" stop-color="#d56c6a"/><stop offset="0.090" stop-color="#cc6871"/><stop offset="0.175" stop-color="#be637a"/><stop offset="0.235" stop-color="#ac5d82"/><stop offset="0.305" stop-color="#86508d"/><stop offset="0.380" stop-color="#503a9a"/><stop offset="0.425" stop-color="#35329b"/><stop offset="0.485" stop-color="#1e317c"/><stop offset="0.550" stop-color="#0d3064"/><stop offset="0.660" stop-color="#092b52"/><stop offset="0.760" stop-color="#072847"/><stop offset="1.000" stop-color="#062740"/></linearGradient></defs><g><rect x="212.10" y="89.30" width="5.80" height="301.58" rx="2.8" fill="url(#p0)"/><rect x="217.10" y="89.30" width="5.60" height="401.21" rx="2.8" fill="url(#p1)"/><rect x="220.62" y="89.30" width="5.60" height="400.60" rx="2.8" fill="url(#p2)"/><rect x="224.13" y="89.30" width="5.60" height="399.09" rx="2.8" fill="url(#p3)"/><rect x="227.65" y="89.30" width="5.60" height="400.22" rx="2.8" fill="url(#p4)"/><rect x="231.17" y="89.30" width="5.60" height="401.19" rx="2.8" fill="url(#p5)"/><rect x="234.69" y="89.30" width="5.60" height="401.27" rx="2.8" fill="url(#p6)"/><rect x="238.20" y="89.30" width="5.60" height="399.50" rx="2.8" fill="url(#p7)"/><rect x="241.72" y="89.30" width="5.60" height="402.27" rx="2.8" fill="url(#p8)"/><rect x="245.24" y="89.30" width="5.60" height="402.93" rx="2.8" fill="url(#p9)"/><rect x="248.76" y="89.30" width="5.60" height="401.62" rx="2.8" fill="url(#p10)"/><rect x="252.27" y="89.30" width="5.60" height="398.72" rx="2.8" fill="url(#p11)"/><rect x="255.79" y="89.30" width="5.60" height="400.35" rx="2.8" fill="url(#p12)"/><rect x="259.31" y="89.30" width="5.60" height="402.98" rx="2.8" fill="url(#p13)"/><rect x="262.82" y="89.30" width="5.60" height="401.22" rx="2.8" fill="url(#p14)"/><rect x="266.34" y="89.30" width="5.60" height="401.09" rx="2.8" fill="url(#p15)"/><rect x="269.86" y="89.30" width="5.60" height="400.93" rx="2.8" fill="url(#p16)"/><rect x="273.38" y="89.30" width="5.60" height="401.95" rx="2.8" fill="url(#p17)"/><rect x="276.89" y="89.30" width="5.60" height="402.68" rx="2.8" fill="url(#p18)"/><rect x="280.41" y="89.30" width="5.60" height="398.90" rx="2.8" fill="url(#p19)"/><rect x="283.93" y="89.30" width="5.60" height="400.33" rx="2.8" fill="url(#p20)"/><rect x="287.44" y="89.30" width="5.60" height="399.60" rx="2.8" fill="url(#p21)"/><rect x="290.96" y="89.30" width="5.60" height="398.98" rx="2.8" fill="url(#p22)"/><rect x="294.48" y="89.30" width="5.60" height="399.82" rx="2.8" fill="url(#p23)"/><rect x="298.00" y="89.30" width="5.60" height="401.75" rx="2.8" fill="url(#p24)"/><rect x="301.51" y="89.30" width="5.60" height="400.37" rx="2.8" fill="url(#p25)"/><rect x="305.03" y="89.30" width="5.60" height="398.74" rx="2.8" fill="url(#p26)"/><rect x="308.55" y="89.30" width="5.60" height="401.83" rx="2.8" fill="url(#p27)"/><rect x="312.07" y="89.30" width="5.60" height="398.82" rx="2.8" fill="url(#p28)"/><rect x="315.58" y="89.30" width="5.60" height="400.68" rx="2.8" fill="url(#p29)"/><rect x="319.10" y="89.30" width="5.60" height="399.82" rx="2.8" fill="url(#p30)"/><rect x="327.20" y="89.30" width="5.60" height="401.22" rx="2.8" fill="url(#p31)"/><rect x="330.73" y="89.30" width="5.60" height="401.51" rx="2.8" fill="url(#p32)"/><rect x="334.27" y="89.30" width="5.60" height="399.75" rx="2.8" fill="url(#p33)"/><rect x="337.80" y="89.30" width="5.60" height="399.75" rx="2.8" fill="url(#p34)"/><rect x="341.34" y="89.30" width="5.60" height="400.17" rx="2.8" fill="url(#p35)"/><rect x="344.87" y="89.30" width="5.60" height="400.86" rx="2.8" fill="url(#p36)"/><rect x="348.41" y="89.30" width="5.60" height="399.51" rx="2.8" fill="url(#p37)"/><rect x="351.94" y="89.30" width="5.60" height="401.63" rx="2.8" fill="url(#p38)"/><rect x="355.47" y="89.30" width="5.60" height="399.25" rx="2.8" fill="url(#p39)"/><rect x="359.01" y="89.30" width="5.60" height="401.26" rx="2.8" fill="url(#p40)"/><rect x="362.54" y="89.30" width="5.60" height="401.55" rx="2.8" fill="url(#p41)"/><rect x="366.08" y="89.30" width="5.60" height="400.99" rx="2.8" fill="url(#p42)"/><rect x="369.61" y="89.30" width="5.60" height="401.07" rx="2.8" fill="url(#p43)"/><rect x="373.15" y="89.30" width="5.60" height="400.64" rx="2.8" fill="url(#p44)"/><rect x="376.68" y="89.30" width="5.60" height="400.87" rx="2.8" fill="url(#p45)"/><rect x="380.21" y="89.30" width="5.60" height="401.60" rx="2.8" fill="url(#p46)"/><rect x="383.75" y="89.30" width="5.60" height="400.11" rx="2.8" fill="url(#p47)"/><rect x="387.28" y="89.30" width="5.60" height="400.14" rx="2.8" fill="url(#p48)"/><rect x="390.82" y="89.30" width="5.60" height="401.01" rx="2.8" fill="url(#p49)"/><rect x="394.35" y="89.30" width="5.60" height="399.91" rx="2.8" fill="url(#p50)"/><rect x="397.89" y="89.30" width="5.60" height="400.32" rx="2.8" fill="url(#p51)"/><rect x="401.42" y="89.30" width="5.60" height="399.06" rx="2.8" fill="url(#p52)"/><rect x="404.95" y="89.30" width="5.60" height="400.37" rx="2.8" fill="url(#p53)"/><rect x="408.49" y="89.30" width="5.60" height="402.68" rx="2.8" fill="url(#p54)"/><rect x="412.02" y="89.30" width="5.60" height="400.37" rx="2.8" fill="url(#p55)"/><rect x="415.56" y="89.30" width="5.60" height="401.36" rx="2.8" fill="url(#p56)"/><rect x="419.09" y="89.30" width="5.60" height="401.00" rx="2.8" fill="url(#p57)"/><rect x="422.63" y="89.30" width="5.60" height="400.97" rx="2.8" fill="url(#p58)"/><rect x="426.16" y="89.30" width="5.60" height="400.55" rx="2.8" fill="url(#p59)"/><rect x="429.69" y="89.30" width="5.60" height="400.75" rx="2.8" fill="url(#p60)"/><rect x="433.23" y="89.30" width="5.60" height="400.17" rx="2.8" fill="url(#p61)"/><rect x="436.76" y="89.30" width="5.60" height="401.78" rx="2.8" fill="url(#p62)"/><rect x="440.30" y="89.30" width="5.60" height="400.50" rx="2.8" fill="url(#p63)"/><rect x="443.83" y="89.30" width="5.60" height="399.46" rx="2.8" fill="url(#p64)"/><rect x="447.37" y="89.30" width="5.60" height="399.78" rx="2.8" fill="url(#p65)"/><rect x="450.90" y="89.30" width="5.60" height="399.93" rx="2.8" fill="url(#p66)"/><rect x="454.40" y="89.30" width="5.60" height="400.91" rx="2.8" fill="url(#p67)"/><rect x="459.80" y="89.30" width="3.50" height="399.72" rx="2.8" fill="url(#p68)"/><rect x="461.40" y="225.65" width="5.60" height="264.97" rx="2.8" fill="url(#p69)"/><rect x="465.00" y="89.30" width="5.60" height="400.96" rx="2.8" fill="url(#p70)"/><rect x="468.55" y="89.30" width="5.60" height="400.40" rx="2.8" fill="url(#p71)"/><rect x="472.10" y="89.30" width="5.60" height="401.22" rx="2.8" fill="url(#p72)"/><rect x="475.65" y="89.30" width="5.60" height="399.61" rx="2.8" fill="url(#p73)"/><rect x="479.19" y="89.30" width="5.60" height="400.48" rx="2.8" fill="url(#p74)"/><rect x="482.74" y="89.30" width="5.60" height="401.17" rx="2.8" fill="url(#p75)"/><rect x="486.29" y="89.30" width="5.60" height="398.83" rx="2.8" fill="url(#p76)"/><rect x="489.84" y="89.30" width="5.60" height="399.37" rx="2.8" fill="url(#p77)"/><rect x="493.39" y="89.30" width="5.60" height="400.91" rx="2.8" fill="url(#p78)"/><rect x="496.94" y="89.30" width="5.60" height="399.46" rx="2.8" fill="url(#p79)"/><rect x="500.49" y="89.30" width="5.60" height="400.44" rx="2.8" fill="url(#p80)"/><rect x="504.03" y="89.30" width="5.60" height="399.95" rx="2.8" fill="url(#p81)"/><rect x="507.58" y="89.30" width="5.60" height="400.39" rx="2.8" fill="url(#p82)"/><rect x="511.13" y="89.30" width="5.60" height="399.93" rx="2.8" fill="url(#p83)"/><rect x="514.68" y="89.30" width="5.60" height="401.44" rx="2.8" fill="url(#p84)"/><rect x="518.23" y="89.30" width="5.60" height="399.81" rx="2.8" fill="url(#p85)"/><rect x="521.78" y="89.30" width="5.60" height="401.93" rx="2.8" fill="url(#p86)"/><rect x="525.33" y="89.30" width="5.60" height="399.29" rx="2.8" fill="url(#p87)"/><rect x="528.87" y="89.30" width="5.60" height="401.13" rx="2.8" fill="url(#p88)"/><rect x="532.42" y="89.30" width="5.60" height="400.49" rx="2.8" fill="url(#p89)"/><rect x="535.97" y="89.30" width="5.60" height="401.77" rx="2.8" fill="url(#p90)"/><rect x="539.52" y="89.30" width="5.60" height="400.65" rx="2.8" fill="url(#p91)"/><rect x="543.07" y="89.30" width="5.60" height="399.13" rx="2.8" fill="url(#p92)"/><rect x="546.62" y="89.30" width="5.60" height="402.71" rx="2.8" fill="url(#p93)"/><rect x="550.17" y="89.30" width="5.60" height="401.11" rx="2.8" fill="url(#p94)"/><rect x="553.71" y="89.30" width="5.60" height="401.07" rx="2.8" fill="url(#p95)"/><rect x="557.26" y="89.30" width="5.60" height="400.24" rx="2.8" fill="url(#p96)"/><rect x="560.81" y="89.30" width="5.60" height="401.49" rx="2.8" fill="url(#p97)"/><rect x="564.36" y="89.30" width="5.60" height="399.18" rx="2.8" fill="url(#p98)"/><rect x="567.91" y="89.30" width="5.60" height="403.49" rx="2.8" fill="url(#p99)"/><rect x="571.46" y="89.30" width="5.60" height="399.79" rx="2.8" fill="url(#p100)"/><rect x="575.01" y="89.30" width="5.60" height="400.18" rx="2.8" fill="url(#p101)"/><rect x="578.55" y="89.30" width="5.60" height="400.46" rx="2.8" fill="url(#p102)"/><rect x="582.10" y="89.30" width="5.60" height="400.52" rx="2.8" fill="url(#p103)"/><rect x="585.65" y="89.30" width="5.60" height="398.87" rx="2.8" fill="url(#p104)"/><rect x="589.20" y="89.30" width="5.60" height="402.89" rx="2.8" fill="url(#p105)"/><rect x="592.75" y="89.30" width="5.60" height="399.48" rx="2.8" fill="url(#p106)"/><rect x="596.30" y="89.30" width="5.60" height="398.19" rx="2.8" fill="url(#p107)"/><rect x="599.85" y="89.30" width="5.60" height="400.12" rx="2.8" fill="url(#p108)"/><rect x="603.39" y="89.30" width="5.60" height="400.00" rx="2.8" fill="url(#p109)"/><rect x="606.94" y="89.30" width="5.60" height="399.60" rx="2.8" fill="url(#p110)"/><rect x="610.49" y="89.30" width="5.60" height="400.43" rx="2.8" fill="url(#p111)"/><rect x="614.04" y="89.30" width="5.60" height="400.00" rx="2.8" fill="url(#p112)"/><rect x="617.59" y="89.30" width="5.60" height="400.52" rx="2.8" fill="url(#p113)"/><rect x="621.14" y="89.30" width="5.60" height="400.18" rx="2.8" fill="url(#p114)"/><rect x="624.69" y="89.30" width="5.60" height="399.71" rx="2.8" fill="url(#p115)"/><rect x="628.23" y="89.30" width="5.60" height="401.01" rx="2.8" fill="url(#p116)"/><rect x="631.78" y="89.30" width="5.60" height="398.80" rx="2.8" fill="url(#p117)"/><rect x="635.33" y="89.30" width="5.60" height="402.17" rx="2.8" fill="url(#p118)"/><rect x="638.88" y="89.30" width="5.60" height="400.57" rx="2.8" fill="url(#p119)"/><rect x="642.43" y="89.30" width="5.60" height="400.27" rx="2.8" fill="url(#p120)"/><rect x="645.98" y="89.30" width="5.60" height="400.17" rx="2.8" fill="url(#p121)"/><rect x="649.53" y="89.30" width="5.60" height="401.42" rx="2.8" fill="url(#p122)"/><rect x="653.07" y="89.30" width="5.60" height="400.78" rx="2.8" fill="url(#p123)"/><rect x="656.62" y="89.30" width="5.60" height="400.09" rx="2.8" fill="url(#p124)"/><rect x="660.17" y="89.30" width="5.60" height="400.52" rx="2.8" fill="url(#p125)"/><rect x="663.72" y="89.30" width="5.60" height="399.73" rx="2.8" fill="url(#p126)"/><rect x="667.27" y="89.30" width="5.60" height="400.87" rx="2.8" fill="url(#p127)"/><rect x="670.82" y="89.30" width="5.60" height="401.25" rx="2.8" fill="url(#p128)"/><rect x="674.37" y="89.30" width="5.60" height="401.10" rx="2.8" fill="url(#p129)"/><rect x="677.91" y="89.30" width="5.60" height="401.69" rx="2.8" fill="url(#p130)"/><rect x="681.46" y="89.30" width="5.60" height="399.27" rx="2.8" fill="url(#p131)"/><rect x="685.01" y="89.30" width="5.60" height="401.92" rx="2.8" fill="url(#p132)"/><rect x="688.56" y="89.30" width="5.60" height="400.63" rx="2.8" fill="url(#p133)"/><rect x="692.11" y="89.30" width="5.60" height="398.83" rx="2.8" fill="url(#p134)"/><rect x="695.66" y="89.30" width="5.60" height="400.86" rx="2.8" fill="url(#p135)"/><rect x="699.21" y="89.30" width="5.60" height="400.33" rx="2.8" fill="url(#p136)"/><rect x="702.75" y="89.30" width="5.60" height="401.72" rx="2.8" fill="url(#p137)"/><rect x="706.30" y="89.30" width="5.60" height="401.53" rx="2.8" fill="url(#p138)"/><rect x="709.85" y="89.30" width="5.60" height="400.06" rx="2.8" fill="url(#p139)"/><rect x="713.40" y="89.30" width="5.60" height="400.82" rx="2.8" fill="url(#p140)"/><rect x="720.70" y="89.30" width="5.60" height="398.83" rx="2.8" fill="url(#p141)"/><rect x="718.40" y="174.69" width="6.60" height="313.88" rx="2.8" fill="url(#p142)"/><rect x="724.20" y="212.51" width="5.60" height="277.98" rx="2.8" fill="url(#p143)"/><rect x="728.20" y="89.30" width="5.60" height="401.88" rx="2.8" fill="url(#p144)"/><rect x="731.73" y="89.30" width="5.60" height="400.02" rx="2.8" fill="url(#p145)"/><rect x="735.27" y="89.30" width="5.60" height="400.80" rx="2.8" fill="url(#p146)"/><rect x="738.80" y="89.30" width="5.60" height="401.59" rx="2.8" fill="url(#p147)"/><rect x="742.33" y="89.30" width="5.60" height="398.62" rx="2.8" fill="url(#p148)"/><rect x="745.87" y="89.30" width="5.60" height="400.65" rx="2.8" fill="url(#p149)"/><rect x="749.40" y="89.30" width="5.60" height="401.29" rx="2.8" fill="url(#p150)"/><rect x="752.90" y="89.30" width="5.60" height="249.43" rx="2.8" fill="url(#p151)"/><rect x="756.30" y="89.30" width="5.60" height="398.12" rx="2.8" fill="url(#p152)"/><rect x="759.89" y="89.30" width="5.60" height="399.33" rx="2.8" fill="url(#p153)"/><rect x="763.49" y="89.30" width="5.60" height="399.28" rx="2.8" fill="url(#p154)"/><rect x="767.08" y="89.30" width="5.60" height="401.32" rx="2.8" fill="url(#p155)"/><rect x="770.67" y="89.30" width="5.60" height="402.35" rx="2.8" fill="url(#p156)"/><rect x="774.26" y="89.30" width="5.60" height="399.40" rx="2.8" fill="url(#p157)"/><rect x="777.86" y="89.30" width="5.60" height="401.04" rx="2.8" fill="url(#p158)"/><rect x="781.45" y="89.30" width="5.60" height="400.82" rx="2.8" fill="url(#p159)"/><rect x="785.04" y="89.30" width="5.60" height="401.54" rx="2.8" fill="url(#p160)"/><rect x="788.64" y="89.30" width="5.60" height="401.26" rx="2.8" fill="url(#p161)"/><rect x="792.23" y="89.30" width="5.60" height="399.54" rx="2.8" fill="url(#p162)"/><rect x="795.82" y="89.30" width="5.60" height="397.98" rx="2.8" fill="url(#p163)"/><rect x="799.42" y="89.30" width="5.60" height="401.47" rx="2.8" fill="url(#p164)"/><rect x="803.01" y="89.30" width="5.60" height="399.49" rx="2.8" fill="url(#p165)"/><rect x="806.60" y="89.30" width="5.60" height="400.71" rx="2.8" fill="url(#p166)"/><rect x="810.19" y="89.30" width="5.60" height="399.89" rx="2.8" fill="url(#p167)"/><rect x="813.79" y="89.30" width="5.60" height="399.62" rx="2.8" fill="url(#p168)"/><rect x="817.38" y="89.30" width="5.60" height="400.24" rx="2.8" fill="url(#p169)"/><rect x="820.97" y="89.30" width="5.60" height="399.36" rx="2.8" fill="url(#p170)"/><rect x="824.57" y="89.30" width="5.60" height="400.48" rx="2.8" fill="url(#p171)"/><rect x="828.16" y="89.30" width="5.60" height="400.40" rx="2.8" fill="url(#p172)"/><rect x="831.75" y="89.30" width="5.60" height="401.71" rx="2.8" fill="url(#p173)"/><rect x="835.35" y="89.30" width="5.60" height="400.36" rx="2.8" fill="url(#p174)"/><rect x="838.94" y="89.30" width="5.60" height="400.71" rx="2.8" fill="url(#p175)"/><rect x="842.53" y="89.30" width="5.60" height="388.56" rx="2.8" fill="url(#p176)"/><rect x="846.12" y="89.30" width="5.60" height="399.82" rx="2.8" fill="url(#p177)"/><rect x="849.72" y="89.30" width="5.60" height="400.94" rx="2.8" fill="url(#p178)"/><rect x="853.31" y="89.30" width="5.60" height="401.20" rx="2.8" fill="url(#p179)"/><rect x="856.90" y="89.30" width="5.60" height="401.11" rx="2.8" fill="url(#p180)"/><rect x="860.50" y="89.30" width="5.60" height="400.18" rx="2.8" fill="url(#p181)"/><rect x="864.09" y="89.30" width="5.60" height="399.07" rx="2.8" fill="url(#p182)"/><rect x="867.68" y="89.30" width="5.60" height="399.83" rx="2.8" fill="url(#p183)"/><rect x="871.28" y="89.30" width="5.60" height="402.25" rx="2.8" fill="url(#p184)"/><rect x="874.87" y="89.30" width="5.60" height="399.72" rx="2.8" fill="url(#p185)"/><rect x="878.46" y="89.30" width="5.60" height="401.13" rx="2.8" fill="url(#p186)"/><rect x="882.05" y="89.30" width="5.60" height="399.80" rx="2.8" fill="url(#p187)"/><rect x="885.65" y="89.30" width="5.60" height="400.10" rx="2.8" fill="url(#p188)"/><rect x="889.24" y="89.30" width="5.60" height="401.15" rx="2.8" fill="url(#p189)"/><rect x="892.83" y="89.30" width="5.60" height="399.79" rx="2.8" fill="url(#p190)"/><rect x="896.43" y="89.30" width="5.60" height="399.28" rx="2.8" fill="url(#p191)"/><rect x="900.02" y="89.30" width="5.60" height="401.06" rx="2.8" fill="url(#p192)"/><rect x="903.61" y="89.30" width="5.60" height="400.58" rx="2.8" fill="url(#p193)"/><rect x="907.21" y="89.30" width="5.60" height="401.12" rx="2.8" fill="url(#p194)"/><rect x="910.80" y="89.30" width="5.60" height="400.04" rx="2.8" fill="url(#p195)"/><rect x="914.39" y="89.30" width="5.60" height="399.53" rx="2.8" fill="url(#p196)"/><rect x="917.98" y="89.30" width="5.60" height="400.86" rx="2.8" fill="url(#p197)"/><rect x="921.58" y="89.30" width="5.60" height="399.95" rx="2.8" fill="url(#p198)"/><rect x="925.17" y="89.30" width="5.60" height="399.69" rx="2.8" fill="url(#p199)"/><rect x="928.76" y="89.30" width="5.60" height="400.24" rx="2.8" fill="url(#p200)"/><rect x="932.36" y="89.30" width="5.60" height="399.50" rx="2.8" fill="url(#p201)"/><rect x="935.95" y="89.30" width="5.60" height="400.59" rx="2.8" fill="url(#p202)"/><rect x="939.54" y="89.30" width="5.60" height="401.54" rx="2.8" fill="url(#p203)"/><rect x="943.14" y="89.30" width="5.60" height="398.53" rx="2.8" fill="url(#p204)"/><rect x="946.73" y="89.30" width="5.60" height="398.54" rx="2.8" fill="url(#p205)"/><rect x="950.32" y="89.30" width="5.60" height="400.36" rx="2.8" fill="url(#p206)"/><rect x="953.91" y="89.30" width="5.60" height="400.18" rx="2.8" fill="url(#p207)"/><rect x="957.51" y="89.30" width="5.60" height="400.36" rx="2.8" fill="url(#p208)"/><rect x="961.10" y="89.30" width="5.60" height="400.19" rx="2.8" fill="url(#p209)"/><rect x="965.80" y="89.30" width="5.60" height="204.45" rx="2.8" fill="url(#p210)"/><rect x="970.00" y="89.30" width="5.70" height="208.43" rx="2.8" fill="url(#p211)"/><rect x="974.90" y="89.30" width="5.60" height="400.51" rx="2.8" fill="url(#p212)"/><rect x="979.60" y="89.30" width="5.80" height="203.45" rx="2.8" fill="url(#p213)"/><rect x="984.60" y="89.30" width="6.30" height="199.47" rx="2.8" fill="url(#p214)"/><rect x="990.10" y="89.30" width="5.60" height="400.51" rx="2.8" fill="url(#p215)"/><rect x="994.80" y="89.30" width="6.40" height="204.84" rx="2.8" fill="url(#p216)"/><rect x="1000.40" y="89.30" width="5.60" height="202.06" rx="2.8" fill="url(#p217)"/></g>
<rect x="175.5" y="72.5" width="868" height="438" fill="none" stroke="#000" stroke-width="1"/><line x1="170.4" y1="92.5" x2="176" y2="92.5" stroke="#000" stroke-width="1"/><line x1="170.4" y1="142.5" x2="176" y2="142.5" stroke="#000" stroke-width="1"/><line x1="170.4" y1="191.5" x2="176" y2="191.5" stroke="#000" stroke-width="1"/><line x1="170.4" y1="241.5" x2="176" y2="241.5" stroke="#000" stroke-width="1"/><line x1="170.4" y1="291.5" x2="176" y2="291.5" stroke="#000" stroke-width="1"/><line x1="170.4" y1="341.5" x2="176" y2="341.5" stroke="#000" stroke-width="1"/><line x1="170.4" y1="390.5" x2="176" y2="390.5" stroke="#000" stroke-width="1"/><line x1="170.4" y1="440.5" x2="176" y2="440.5" stroke="#000" stroke-width="1"/><line x1="170.4" y1="490.5" x2="176" y2="490.5" stroke="#000" stroke-width="1"/><line x1="276.5" y1="510" x2="276.5" y2="515.4" stroke="#000" stroke-width="1"/><line x1="406.5" y1="510" x2="406.5" y2="515.4" stroke="#000" stroke-width="1"/><line x1="537.5" y1="510" x2="537.5" y2="515.4" stroke="#000" stroke-width="1"/><line x1="667.5" y1="510" x2="667.5" y2="515.4" stroke="#000" stroke-width="1"/><line x1="798.5" y1="510" x2="798.5" y2="515.4" stroke="#000" stroke-width="1"/><line x1="928.5" y1="510" x2="928.5" y2="515.4" stroke="#000" stroke-width="1"/>
<defs><linearGradient id="cbg" x1="0" y1="0" x2="0" y2="1"><stop offset="0.0000" stop-color="#e7fa5a"/><stop offset="0.0909" stop-color="#f6d346"/><stop offset="0.1818" stop-color="#fbad3c"/><stop offset="0.2727" stop-color="#f68b45"/><stop offset="0.3636" stop-color="#e17161"/><stop offset="0.4545" stop-color="#c16479"/><stop offset="0.5455" stop-color="#9e5987"/><stop offset="0.6364" stop-color="#7e4d8f"/><stop offset="0.7273" stop-color="#5d3e99"/><stop offset="0.8182" stop-color="#35329b"/><stop offset="0.9091" stop-color="#0d3064"/><stop offset="1.0000" stop-color="#032333"/></linearGradient></defs><rect x="1097" y="72" width="22.5" height="438.5" fill="url(#cbg)"/><rect x="1097.5" y="72.5" width="22" height="438" fill="none" stroke="#000" stroke-width="1"/><line x1="1119" y1="84.5" x2="1124.4" y2="84.5" stroke="#000" stroke-width="1"/><line x1="1119" y1="164.5" x2="1124.4" y2="164.5" stroke="#000" stroke-width="1"/><line x1="1119" y1="243.5" x2="1124.4" y2="243.5" stroke="#000" stroke-width="1"/><line x1="1119" y1="323.5" x2="1124.4" y2="323.5" stroke="#000" stroke-width="1"/><line x1="1119" y1="403.5" x2="1124.4" y2="403.5" stroke="#000" stroke-width="1"/><line x1="1119" y1="482.5" x2="1124.4" y2="482.5" stroke="#000" stroke-width="1"/>
<text transform="translate(609.30,39.90)" font-size="19.20" text-anchor="middle" textLength="170.61" lengthAdjust="spacingAndGlyphs" style="">ARGO float 4902120</text>
<text transform="translate(590.80,63.50)" font-size="18.10" text-anchor="middle" textLength="161.61" lengthAdjust="spacingAndGlyphs" style="">Water Temperature</text>
<text transform="translate(680.90,62.70)" font-size="17.13" text-anchor="middle" textLength="4.57" lengthAdjust="spacingAndGlyphs" style="">(</text>
<text transform="translate(687.40,56.50)" font-size="12.00" text-anchor="middle" textLength="6.79" lengthAdjust="spacingAndGlyphs" style="font-style:italic;">o</text>
<text transform="translate(698.00,63.90)" font-size="17.69" text-anchor="middle" textLength="11.00" lengthAdjust="spacingAndGlyphs" style="font-style:italic;">C</text>
<text transform="translate(707.30,62.70)" font-size="17.13" text-anchor="middle" textLength="5.21" lengthAdjust="spacingAndGlyphs" style="">)</text>
<text transform="translate(165.20,97.00)" font-size="14.10" text-anchor="end" textLength="7.92" lengthAdjust="spacingAndGlyphs" style="">0</text>
<text transform="translate(164.40,147.00)" font-size="14.10" text-anchor="end" textLength="35.87" lengthAdjust="spacingAndGlyphs" style="">−250</text>
<text transform="translate(164.40,196.80)" font-size="14.10" text-anchor="end" textLength="35.87" lengthAdjust="spacingAndGlyphs" style="">−500</text>
<text transform="translate(164.40,246.80)" font-size="14.10" text-anchor="end" textLength="35.87" lengthAdjust="spacingAndGlyphs" style="">−750</text>
<text transform="translate(164.40,296.00)" font-size="14.10" text-anchor="end" textLength="44.84" lengthAdjust="spacingAndGlyphs" style="">−1000</text>
<text transform="translate(164.40,346.00)" font-size="14.10" text-anchor="end" textLength="44.84" lengthAdjust="spacingAndGlyphs" style="">−1250</text>
<text transform="translate(164.40,395.80)" font-size="14.10" text-anchor="end" textLength="44.84" lengthAdjust="spacingAndGlyphs" style="">−1500</text>
<text transform="translate(164.40,445.80)" font-size="14.10" text-anchor="end" textLength="44.84" lengthAdjust="spacingAndGlyphs" style="">−1750</text>
<text transform="translate(164.40,495.00)" font-size="14.10" text-anchor="end" textLength="44.84" lengthAdjust="spacingAndGlyphs" style="">−2000</text>
<text transform="translate(108.50,292.80) rotate(-90)" font-size="14.10" text-anchor="middle" textLength="70.64" lengthAdjust="spacingAndGlyphs" style="">Depth (m)</text>
<text transform="translate(609.00,578.90)" font-size="17.69" text-anchor="middle" textLength="38.68" lengthAdjust="spacingAndGlyphs" style="">Date</text>
<text transform="translate(277.40,542.50) rotate(-45)" font-size="8.50" text-anchor="middle" textLength="48.77" lengthAdjust="spacingAndGlyphs" style="">2017/01/01</text>
<text transform="translate(407.40,542.50) rotate(-45)" font-size="8.50" text-anchor="middle" textLength="48.77" lengthAdjust="spacingAndGlyphs" style="">2018/01/01</text>
<text transform="translate(536.80,542.50) rotate(-45)" font-size="8.50" text-anchor="middle" textLength="47.70" lengthAdjust="spacingAndGlyphs" style="">2019/01/01</text>
<text transform="translate(667.60,542.50) rotate(-45)" font-size="8.50" text-anchor="middle" textLength="47.70" lengthAdjust="spacingAndGlyphs" style="">2020/01/01</text>
<text transform="translate(798.60,542.50) rotate(-45)" font-size="8.50" text-anchor="middle" textLength="47.70" lengthAdjust="spacingAndGlyphs" style="">2021/01/01</text>
<text transform="translate(928.60,542.50) rotate(-45)" font-size="8.50" text-anchor="middle" textLength="47.70" lengthAdjust="spacingAndGlyphs" style="">2022/01/01</text>
<text transform="translate(1129.60,89.80)" font-size="14.10" text-anchor="start" textLength="15.85" lengthAdjust="spacingAndGlyphs" style="">30</text>
<text transform="translate(1129.60,169.00)" font-size="14.10" text-anchor="start" textLength="15.85" lengthAdjust="spacingAndGlyphs" style="">25</text>
<text transform="translate(1129.20,248.80)" font-size="14.10" text-anchor="start" textLength="16.80" lengthAdjust="spacingAndGlyphs" style="">20</text>
<text transform="translate(1130.00,328.80)" font-size="14.10" text-anchor="start" textLength="15.00" lengthAdjust="spacingAndGlyphs" style="">15</text>
<text transform="translate(1130.00,408.00)" font-size="14.10" text-anchor="start" textLength="15.00" lengthAdjust="spacingAndGlyphs" style="">10</text>
<text transform="translate(1129.60,487.80)" font-size="14.10" text-anchor="start" textLength="7.92" lengthAdjust="spacingAndGlyphs" style="">5</text>
<text transform="translate(1162.60,291.90) rotate(-90)" font-size="13.59" text-anchor="middle" textLength="25.59" lengthAdjust="spacingAndGlyphs" style=""><tspan>(</tspan><tspan font-style="italic" font-size="10.87" dy="-4.5">o</tspan><tspan font-style="italic" dy="4.5">C</tspan><tspan>)</tspan></text>
</svg></body></html>
